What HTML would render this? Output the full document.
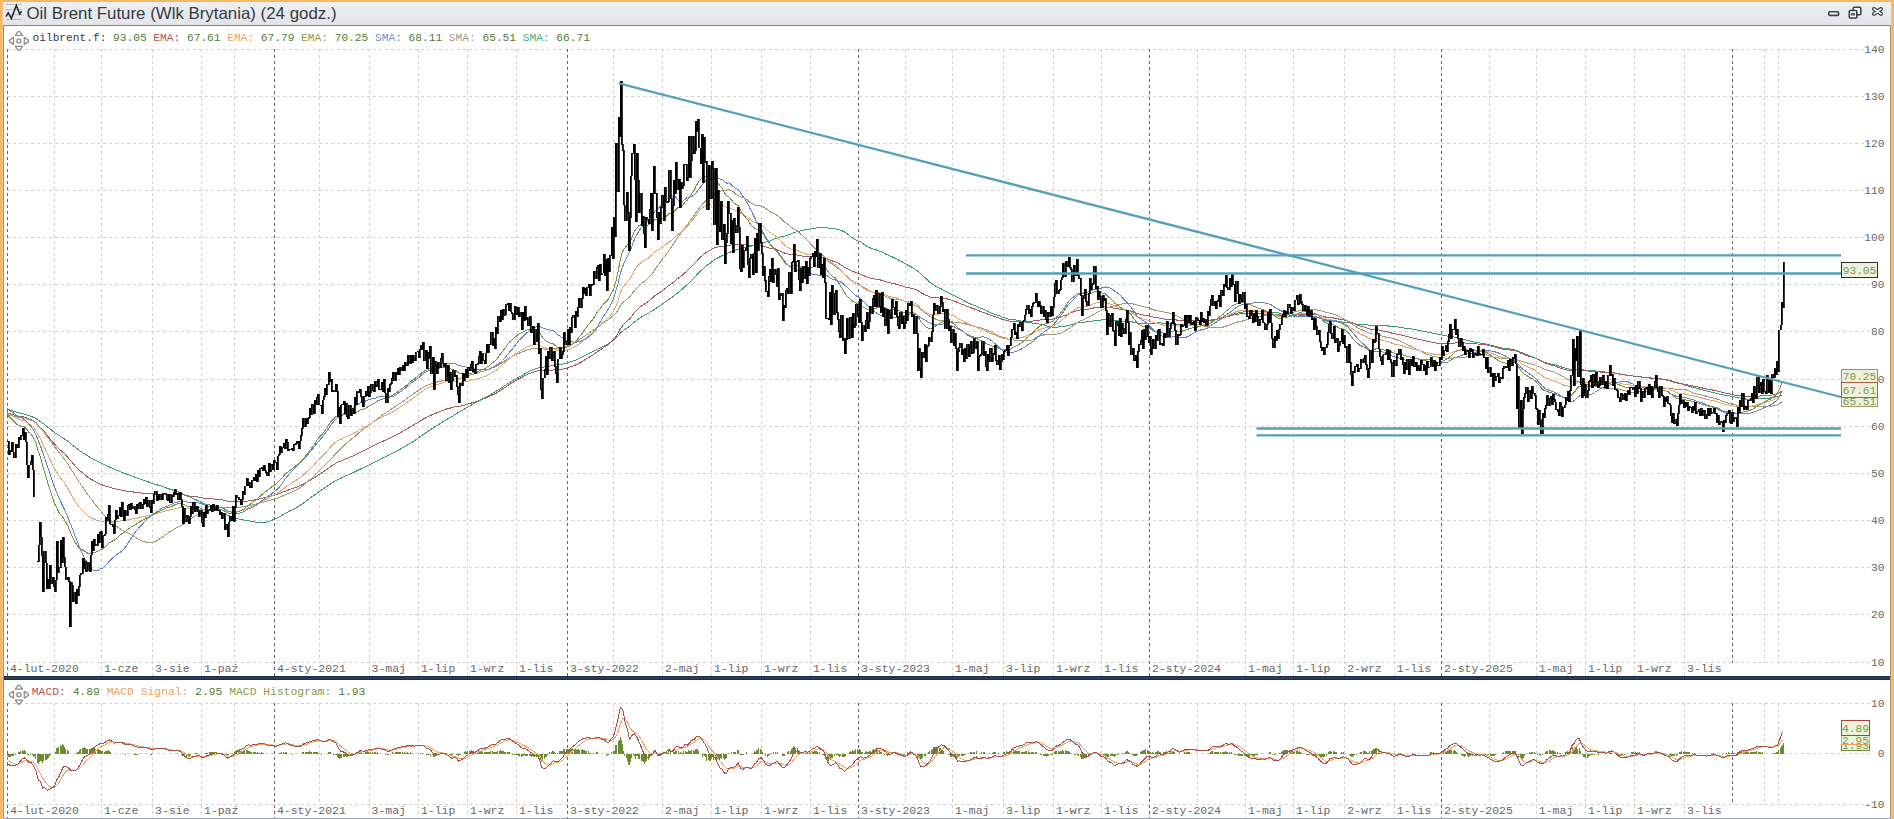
<!DOCTYPE html><html><head><meta charset="utf-8"><style>html,body{margin:0;padding:0;width:1894px;height:819px;overflow:hidden;background:#f8b862;}svg{display:block}</style></head><body>
<svg width="1894" height="819" viewBox="0 0 1894 819">
<defs><linearGradient id="tb" x1="0" y1="0" x2="0" y2="1"><stop offset="0" stop-color="#eef0f2"/><stop offset="1" stop-color="#e2e4e8"/></linearGradient></defs>
<rect x="0" y="0" width="1894" height="819" fill="#f8b862"/><rect x="2" y="2" width="1" height="817" fill="#f2c68e"/><rect x="1891" y="2" width="1" height="817" fill="#f2c68e"/>
<rect x="3" y="2" width="1888" height="23" fill="url(#tb)"/>
<rect x="3" y="25" width="1888" height="1" fill="#86888d"/>
<rect x="3" y="26" width="1888" height="793" fill="#ffffff"/>
<rect x="3" y="26" width="1" height="793" fill="#a48c70"/>
<rect x="1890" y="26" width="1" height="793" fill="#a48c70"/>
<rect x="3" y="818" width="1888" height="1" fill="#a4a9b3"/>
<g stroke="#b9bbbf" stroke-width="1"><path d="M6 4.5H22M6 9.5H22M6 14.5H22M6 19.5H22"/></g>
<path d="M6.2 16.5L8.2 12.7L11.4 18.4L16.3 5.4L19.7 14.1L21.6 11.1" fill="none" stroke="#23222e" stroke-width="1.5" stroke-linejoin="miter"/>
<text x="26.5" y="19" font-family="Liberation Sans" font-size="16.5" fill="#363a42" textLength="310" lengthAdjust="spacingAndGlyphs">Oil Brent Future (Wlk Brytania) (24 godz.)</text>
<g fill="#fff" stroke="#3a3e46" stroke-width="1.6">
<rect x="1828.8" y="11.8" width="9.8" height="3.6" rx="1.2"/>
<rect x="1853.3" y="7.3" width="7.5" height="7.5" rx="1"/>
<rect x="1849.3" y="10.5" width="7.5" height="7.5" rx="1"/>
<rect x="1851.6" y="13.6" width="2.8" height="1.4" stroke-width="1"/>
</g>
<path d="M1874 9L1881 13.8M1881 9L1874 13.8" stroke="#3a3e46" stroke-width="4" stroke-linecap="round"/>
<path d="M1874 9L1881 13.8M1881 9L1874 13.8" stroke="#ffffff" stroke-width="1.6" stroke-linecap="round"/>
<path d="M7 49.5H1871M7 96.5H1871M7 143.5H1871M7 190.5H1871M7 237.5H1871M7 284.5H1871M7 331.5H1871M7 379.5H1871M7 426.5H1871M7 473.5H1871M7 520.5H1871M7 567.5H1871M7 614.5H1871M7 662.5H1871" stroke="#d2d2d2" stroke-width="1" stroke-dasharray="3 3" fill="none"/>
<path d="M54.5 49V663M101.5 49V676M152.5 49V676M201.5 49V676M234.5 49V663M319.5 49V663M369.5 49V676M418.5 49V676M467.5 49V676M516.5 49V676M613.5 49V663M662.5 49V676M711.5 49V676M761.5 49V676M810.5 49V676M905.5 49V663M952.5 49V676M1003.5 49V676M1053.5 49V676M1101.5 49V676M1197.5 49V663M1245.5 49V676M1293.5 49V676M1344.5 49V676M1394.5 49V676M1489.5 49V663M1536.5 49V676M1585.5 49V676M1634.5 49V676M1684.5 49V676M1764.5 49V663M1778.5 49V663" stroke="#d2d2d2" stroke-width="1" stroke-dasharray="3 3" fill="none"/>
<path d="M7.5 49V676M274.5 49V676M567.5 49V676M858.5 49V676M1149.5 49V676M1441.5 49V676M1732.5 49V663" stroke="#646464" stroke-width="1" stroke-dasharray="3 3" fill="none"/>
<text x="1884.5" y="53.3" font-family="Liberation Mono" font-size="11.2" fill="#686868" text-anchor="end">140</text>
<text x="1884.5" y="100.3" font-family="Liberation Mono" font-size="11.2" fill="#686868" text-anchor="end">130</text>
<text x="1884.5" y="147.3" font-family="Liberation Mono" font-size="11.2" fill="#686868" text-anchor="end">120</text>
<text x="1884.5" y="194.3" font-family="Liberation Mono" font-size="11.2" fill="#686868" text-anchor="end">110</text>
<text x="1884.5" y="241.3" font-family="Liberation Mono" font-size="11.2" fill="#686868" text-anchor="end">100</text>
<text x="1884.5" y="288.3" font-family="Liberation Mono" font-size="11.2" fill="#686868" text-anchor="end">90</text>
<text x="1884.5" y="335.3" font-family="Liberation Mono" font-size="11.2" fill="#686868" text-anchor="end">80</text>
<text x="1884.5" y="383.3" font-family="Liberation Mono" font-size="11.2" fill="#686868" text-anchor="end">70</text>
<text x="1884.5" y="430.3" font-family="Liberation Mono" font-size="11.2" fill="#686868" text-anchor="end">60</text>
<text x="1884.5" y="477.3" font-family="Liberation Mono" font-size="11.2" fill="#686868" text-anchor="end">50</text>
<text x="1884.5" y="524.3" font-family="Liberation Mono" font-size="11.2" fill="#686868" text-anchor="end">40</text>
<text x="1884.5" y="571.3" font-family="Liberation Mono" font-size="11.2" fill="#686868" text-anchor="end">30</text>
<text x="1884.5" y="618.3" font-family="Liberation Mono" font-size="11.2" fill="#686868" text-anchor="end">20</text>
<text x="1884.5" y="666.3" font-family="Liberation Mono" font-size="11.2" fill="#686868" text-anchor="end">10</text>
<text x="9.9" y="672" font-family="Liberation Mono" font-size="11.5" fill="#686868">4-lut-2020</text>
<text x="103.9" y="672" font-family="Liberation Mono" font-size="11.5" fill="#686868">1-cze</text>
<text x="155.1" y="672" font-family="Liberation Mono" font-size="11.5" fill="#686868">3-sie</text>
<text x="203.9" y="672" font-family="Liberation Mono" font-size="11.5" fill="#686868">1-paź</text>
<text x="276.9" y="672" font-family="Liberation Mono" font-size="11.5" fill="#686868">4-sty-2021</text>
<text x="371.5" y="672" font-family="Liberation Mono" font-size="11.5" fill="#686868">3-maj</text>
<text x="420.9" y="672" font-family="Liberation Mono" font-size="11.5" fill="#686868">1-lip</text>
<text x="469.9" y="672" font-family="Liberation Mono" font-size="11.5" fill="#686868">1-wrz</text>
<text x="519.0" y="672" font-family="Liberation Mono" font-size="11.5" fill="#686868">1-lis</text>
<text x="570.0" y="672" font-family="Liberation Mono" font-size="11.5" fill="#686868">3-sty-2022</text>
<text x="665.0" y="672" font-family="Liberation Mono" font-size="11.5" fill="#686868">2-maj</text>
<text x="714.0" y="672" font-family="Liberation Mono" font-size="11.5" fill="#686868">1-lip</text>
<text x="764.0" y="672" font-family="Liberation Mono" font-size="11.5" fill="#686868">1-wrz</text>
<text x="812.9" y="672" font-family="Liberation Mono" font-size="11.5" fill="#686868">1-lis</text>
<text x="861.0" y="672" font-family="Liberation Mono" font-size="11.5" fill="#686868">3-sty-2023</text>
<text x="955.0" y="672" font-family="Liberation Mono" font-size="11.5" fill="#686868">1-maj</text>
<text x="1005.9" y="672" font-family="Liberation Mono" font-size="11.5" fill="#686868">3-lip</text>
<text x="1056.0" y="672" font-family="Liberation Mono" font-size="11.5" fill="#686868">1-wrz</text>
<text x="1104.0" y="672" font-family="Liberation Mono" font-size="11.5" fill="#686868">1-lis</text>
<text x="1152.0" y="672" font-family="Liberation Mono" font-size="11.5" fill="#686868">2-sty-2024</text>
<text x="1248.1" y="672" font-family="Liberation Mono" font-size="11.5" fill="#686868">1-maj</text>
<text x="1296.0" y="672" font-family="Liberation Mono" font-size="11.5" fill="#686868">1-lip</text>
<text x="1347.2" y="672" font-family="Liberation Mono" font-size="11.5" fill="#686868">2-wrz</text>
<text x="1396.8" y="672" font-family="Liberation Mono" font-size="11.5" fill="#686868">1-lis</text>
<text x="1443.9" y="672" font-family="Liberation Mono" font-size="11.5" fill="#686868">2-sty-2025</text>
<text x="1538.8" y="672" font-family="Liberation Mono" font-size="11.5" fill="#686868">1-maj</text>
<text x="1588.0" y="672" font-family="Liberation Mono" font-size="11.5" fill="#686868">1-lip</text>
<text x="1637.1" y="672" font-family="Liberation Mono" font-size="11.5" fill="#686868">1-wrz</text>
<text x="1687.1" y="672" font-family="Liberation Mono" font-size="11.5" fill="#686868">3-lis</text>
<path d="M7.0 409.2L8.2 409.5L10.5 410.2L12.8 410.9L15.1 411.7L17.4 412.4L19.7 413.0L22.0 413.6L24.3 414.1L26.6 414.9L28.9 415.8L31.3 416.5L33.6 417.5L35.9 418.6L38.2 420.2L40.5 421.6L42.8 423.4L45.1 425.0L47.4 426.9L49.7 428.7L52.0 430.5L54.4 432.4L56.7 434.0L59.0 435.6L61.3 437.0L63.6 438.4L65.9 439.9L68.2 441.6L70.5 443.5L72.8 445.4L75.1 447.2L77.5 449.0L79.8 450.7L82.1 452.2L84.4 453.7L86.7 455.2L89.0 456.7L91.3 458.1L93.6 459.4L95.9 460.6L98.3 461.8L100.6 462.9L102.9 464.1L105.2 465.2L107.5 466.2L109.8 467.1L112.1 468.2L114.4 469.2L116.7 470.2L119.0 471.1L121.4 472.0L123.7 472.9L126.0 473.8L128.3 474.6L130.6 475.5L132.9 476.4L135.2 477.3L137.5 478.1L139.8 478.9L142.1 479.8L144.5 480.6L146.8 481.4L149.1 482.2L151.4 483.1L153.7 483.8L156.0 484.5L158.3 485.3L160.6 486.0L162.9 486.8L165.2 487.5L167.6 488.4L169.9 489.1L172.2 489.9L174.5 490.6L176.8 491.4L179.1 492.2L181.4 493.1L183.7 494.2L186.0 495.3L188.3 496.4L190.7 497.4L193.0 498.4L195.3 499.5L197.6 500.5L199.9 501.6L202.2 502.9L204.5 504.0L206.8 505.2L209.1 506.4L211.4 507.5L213.8 508.5L216.1 509.6L218.4 510.7L220.7 511.8L223.0 512.9L225.3 514.0L227.6 515.2L229.9 516.2L232.2 517.1L234.5 517.9L236.9 518.6L239.2 519.1L241.5 519.6L243.8 520.0L246.1 520.4L248.4 520.7L250.7 521.2L253.0 521.7L255.3 522.1L257.7 522.3L260.0 522.3L262.3 522.4L264.6 522.3L266.9 522.0L269.2 521.2L271.5 520.5L273.8 519.4L276.1 518.5L278.4 517.2L280.8 516.0L283.1 514.6L285.4 513.2L287.7 512.0L290.0 510.8L292.3 509.8L294.6 508.8L296.9 507.4L299.2 506.1L301.5 504.4L303.9 502.7L306.2 500.9L308.5 499.2L310.8 497.5L313.1 495.9L315.4 494.3L317.7 492.5L320.0 490.9L322.3 489.5L324.6 488.0L327.0 486.4L329.3 484.8L331.6 483.3L333.9 481.8L336.2 480.4L338.5 479.4L340.8 478.4L343.1 477.1L345.4 476.0L347.7 475.0L350.1 474.0L352.4 473.0L354.7 471.9L357.0 470.7L359.3 469.6L361.6 468.5L363.9 467.5L366.2 466.3L368.5 465.1L370.8 464.0L373.2 462.8L375.5 461.6L377.8 460.5L380.1 459.3L382.4 458.1L384.7 457.0L387.0 456.0L389.3 454.9L391.6 453.7L393.9 452.6L396.3 451.4L398.6 450.1L400.9 448.8L403.2 447.5L405.5 446.2L407.8 444.9L410.1 443.5L412.4 442.1L414.7 440.5L417.1 438.9L419.4 437.2L421.7 435.5L424.0 434.0L426.3 432.5L428.6 430.9L430.9 429.4L433.2 427.9L435.5 426.4L437.8 425.0L440.2 423.5L442.5 422.0L444.8 420.6L447.1 419.2L449.4 417.9L451.7 416.6L454.0 415.2L456.3 413.7L458.6 412.4L460.9 411.1L463.3 409.7L465.6 408.3L467.9 407.0L470.2 405.7L472.5 404.4L474.8 403.2L477.1 402.0L479.4 400.7L481.7 399.4L484.0 398.2L486.4 396.9L488.7 395.6L491.0 394.3L493.3 393.0L495.6 391.7L497.9 390.2L500.2 388.7L502.5 387.2L504.8 385.7L507.1 384.1L509.5 382.6L511.8 381.3L514.1 379.9L516.4 378.6L518.7 377.3L521.0 376.0L523.3 374.7L525.6 373.4L527.9 372.1L530.2 370.9L532.6 369.9L534.9 369.0L537.2 368.2L539.5 367.5L541.8 367.3L544.1 367.0L546.4 366.6L548.7 366.2L551.0 365.7L553.3 365.1L555.7 364.9L558.0 364.7L560.3 364.5L562.6 364.1L564.9 363.6L567.2 363.1L569.5 362.3L571.8 361.4L574.1 360.6L576.5 359.7L578.8 358.5L581.1 357.5L583.4 356.3L585.7 355.1L588.0 354.0L590.3 353.0L592.6 351.9L594.9 350.6L597.2 349.3L599.6 348.1L601.9 347.0L604.2 345.7L606.5 344.6L608.8 343.5L611.1 342.0L613.4 340.5L615.7 338.5L618.0 336.1L620.3 333.3L622.7 331.0L625.0 329.4L627.3 327.7L629.6 326.3L631.9 324.2L634.2 322.2L636.5 320.4L638.8 318.8L641.1 317.3L643.4 315.9L645.8 314.7L648.1 313.4L650.4 311.8L652.7 310.5L655.0 308.8L657.3 307.5L659.6 306.1L661.9 304.5L664.2 302.8L666.5 301.2L668.9 299.4L671.2 297.9L673.5 296.2L675.8 294.4L678.1 292.5L680.4 290.7L682.7 288.7L685.0 286.6L687.3 284.6L689.6 282.2L692.0 279.8L694.3 277.5L696.6 275.1L698.9 272.7L701.2 270.5L703.5 268.4L705.8 266.3L708.1 264.6L710.4 263.0L712.7 261.1L715.1 259.4L717.4 258.1L719.7 256.9L722.0 255.7L724.3 254.8L726.6 253.8L728.9 252.6L731.2 251.7L733.5 251.0L735.9 250.1L738.2 249.2L740.5 248.9L742.8 248.3L745.1 247.7L747.4 247.0L749.7 246.6L752.0 246.0L754.3 245.3L756.6 244.7L759.0 243.9L761.3 243.1L763.6 242.5L765.9 242.0L768.2 241.6L770.5 240.8L772.8 239.6L775.1 238.6L777.4 237.7L779.7 237.1L782.1 236.6L784.4 236.2L786.7 235.4L789.0 234.5L791.3 233.8L793.6 232.8L795.9 232.0L798.2 231.4L800.5 230.8L802.8 230.3L805.2 229.8L807.5 229.4L809.8 229.1L812.1 228.6L814.4 228.3L816.7 227.8L819.0 227.6L821.3 227.4L823.6 227.2L825.9 227.4L828.3 228.0L830.6 228.3L832.9 228.6L835.2 228.9L837.5 229.3L839.8 230.0L842.1 230.8L844.4 231.9L846.7 233.3L849.0 235.0L851.4 237.2L853.7 239.0L856.0 240.0L858.3 241.1L860.6 241.9L862.9 243.6L865.2 245.2L867.5 246.6L869.8 247.7L872.1 248.7L874.5 249.5L876.8 250.1L879.1 250.9L881.4 251.9L883.7 252.9L886.0 254.3L888.3 255.2L890.6 256.2L892.9 257.2L895.2 258.3L897.6 259.4L899.9 260.8L902.2 261.8L904.5 263.2L906.8 264.6L909.1 265.8L911.4 266.9L913.7 268.3L916.0 269.9L918.4 271.7L920.7 273.8L923.0 275.9L925.3 277.9L927.6 280.1L929.9 282.2L932.2 283.9L934.5 285.4L936.8 286.8L939.1 288.0L941.5 289.0L943.8 290.5L946.1 291.7L948.4 292.8L950.7 293.9L953.0 295.0L955.3 296.0L957.6 297.2L959.9 298.6L962.2 299.8L964.6 301.0L966.9 302.2L969.2 303.6L971.5 304.3L973.8 305.2L976.1 306.2L978.4 307.3L980.7 308.2L983.0 309.0L985.3 310.2L987.7 311.3L990.0 312.4L992.3 313.5L994.6 314.3L996.9 315.1L999.2 315.8L1001.5 316.7L1003.8 317.5L1006.1 318.3L1008.4 319.0L1010.8 319.4L1013.1 319.6L1015.4 319.9L1017.7 320.3L1020.0 320.8L1022.3 321.2L1024.6 321.9L1026.9 322.3L1029.2 322.7L1031.5 323.0L1033.9 323.3L1036.2 323.6L1038.5 323.9L1040.8 324.3L1043.1 324.9L1045.4 325.4L1047.7 326.1L1050.0 326.6L1052.3 327.0L1054.6 327.3L1057.0 327.1L1059.3 326.8L1061.6 326.5L1063.9 326.2L1066.2 326.0L1068.5 325.4L1070.8 324.8L1073.1 324.2L1075.4 323.5L1077.8 322.9L1080.1 322.5L1082.4 322.3L1084.7 322.0L1087.0 321.9L1089.3 321.5L1091.6 321.3L1093.9 320.7L1096.2 320.3L1098.5 320.1L1100.9 320.0L1103.2 319.9L1105.5 319.9L1107.8 320.2L1110.1 320.4L1112.4 320.6L1114.7 320.9L1117.0 320.9L1119.3 321.0L1121.6 321.1L1124.0 321.4L1126.3 321.4L1128.6 321.6L1130.9 321.8L1133.2 322.1L1135.5 322.5L1137.8 322.9L1140.1 323.3L1142.4 323.6L1144.7 323.7L1147.1 323.8L1149.4 323.6L1151.7 323.4L1154.0 323.2L1156.3 323.1L1158.6 322.9L1160.9 323.0L1163.2 323.1L1165.5 323.4L1167.8 323.7L1170.2 323.8L1172.5 324.0L1174.8 324.2L1177.1 324.4L1179.4 324.5L1181.7 324.4L1184.0 324.2L1186.3 324.0L1188.6 323.6L1190.9 323.3L1193.3 323.0L1195.6 322.7L1197.9 322.4L1200.2 322.1L1202.5 321.8L1204.8 321.6L1207.1 321.3L1209.4 320.8L1211.7 320.2L1214.0 319.7L1216.4 319.2L1218.7 318.6L1221.0 318.0L1223.3 317.3L1225.6 316.6L1227.9 315.9L1230.2 315.1L1232.5 314.3L1234.8 313.7L1237.2 313.1L1239.5 312.6L1241.8 312.2L1244.1 311.9L1246.4 311.7L1248.7 311.5L1251.0 311.4L1253.3 311.3L1255.6 311.3L1257.9 311.5L1260.3 311.5L1262.6 311.6L1264.9 311.8L1267.2 312.0L1269.5 312.2L1271.8 312.4L1274.1 312.7L1276.4 312.9L1278.7 313.0L1281.0 313.1L1283.4 313.2L1285.7 313.4L1288.0 313.6L1290.3 313.8L1292.6 314.1L1294.9 314.5L1297.2 314.8L1299.5 315.2L1301.8 315.5L1304.1 315.9L1306.5 316.3L1308.8 316.7L1311.1 317.0L1313.4 317.2L1315.7 317.5L1318.0 317.8L1320.3 318.3L1322.6 319.0L1324.9 319.7L1327.2 320.2L1329.6 320.5L1331.9 320.8L1334.2 321.2L1336.5 321.5L1338.8 321.8L1341.1 321.9L1343.4 322.1L1345.7 322.2L1348.0 322.5L1350.3 322.9L1352.7 323.4L1355.0 323.8L1357.3 324.3L1359.6 324.7L1361.9 324.8L1364.2 324.9L1366.5 324.9L1368.8 325.1L1371.1 325.2L1373.4 325.2L1375.8 325.2L1378.1 325.3L1380.4 325.5L1382.7 325.6L1385.0 325.7L1387.3 325.9L1389.6 326.1L1391.9 326.4L1394.2 326.6L1396.6 326.8L1398.9 327.1L1401.2 327.4L1403.5 327.9L1405.8 328.3L1408.1 328.6L1410.4 328.8L1412.7 329.2L1415.0 329.6L1417.3 330.1L1419.7 330.6L1422.0 331.0L1424.3 331.5L1426.6 331.9L1428.9 332.4L1431.2 332.8L1433.5 333.3L1435.8 333.7L1438.1 334.2L1440.4 334.7L1442.8 335.2L1445.1 335.6L1447.4 336.1L1449.7 336.4L1452.0 336.7L1454.3 337.1L1456.6 337.6L1458.9 338.1L1461.2 338.7L1463.5 339.4L1465.9 340.0L1468.2 340.6L1470.5 341.1L1472.8 341.7L1475.1 342.2L1477.4 342.6L1479.7 343.0L1482.0 343.4L1484.3 343.8L1486.6 344.2L1489.0 344.7L1491.3 345.3L1493.6 345.9L1495.9 346.4L1498.2 347.0L1500.5 347.7L1502.8 348.1L1505.1 348.3L1507.4 348.6L1509.7 348.9L1512.1 349.3L1514.4 349.8L1516.7 350.5L1519.0 351.4L1521.3 352.5L1523.6 353.4L1525.9 354.3L1528.2 355.2L1530.5 356.2L1532.8 357.1L1535.2 358.0L1537.5 359.1L1539.8 360.1L1542.1 361.2L1544.4 362.1L1546.7 362.8L1549.0 363.5L1551.3 364.1L1553.6 364.6L1556.0 365.1L1558.3 365.9L1560.6 366.7L1562.9 367.5L1565.2 368.1L1567.5 368.7L1569.8 369.2L1572.1 369.4L1574.4 369.7L1576.7 369.7L1579.1 369.7L1581.4 369.9L1583.7 370.0L1586.0 370.2L1588.3 370.4L1590.6 370.5L1592.9 370.7L1595.2 370.9L1597.5 371.1L1599.8 371.2L1602.2 371.4L1604.5 371.8L1606.8 372.4L1609.1 372.6L1611.4 372.8L1613.7 373.0L1616.0 373.4L1618.3 373.8L1620.6 374.3L1622.9 374.5L1625.3 374.9L1627.6 375.2L1629.9 375.6L1632.2 375.9L1634.5 376.1L1636.8 376.4L1639.1 376.5L1641.4 376.9L1643.7 377.3L1646.0 377.5L1648.4 377.7L1650.7 377.9L1653.0 378.2L1655.3 378.3L1657.6 378.5L1659.9 378.8L1662.2 379.1L1664.5 379.5L1666.8 379.9L1669.1 380.2L1671.5 380.8L1673.8 381.5L1676.1 382.3L1678.4 382.9L1680.7 383.6L1683.0 384.3L1685.3 385.1L1687.6 385.8L1689.9 386.5L1692.2 387.2L1694.6 387.7L1696.9 388.4L1699.2 388.9L1701.5 389.6L1703.8 390.1L1706.1 390.8L1708.4 391.4L1710.7 391.9L1713.0 392.5L1715.4 393.1L1717.7 393.6L1720.0 394.2L1722.3 394.7L1724.6 395.1L1726.9 395.5L1729.2 395.8L1731.5 396.2L1733.8 396.7L1736.1 397.3L1738.5 397.7L1740.8 398.1L1743.1 398.5L1745.4 399.0L1747.7 399.2L1750.0 399.2L1752.3 399.0L1754.6 398.9L1756.9 398.8L1759.2 398.8L1761.6 398.7L1763.9 398.7L1766.2 398.5L1768.5 398.2L1770.8 397.9L1773.1 397.4L1775.4 397.0L1777.7 396.7L1780.0 395.9L1782.3 395.0" fill="none" stroke="#3a9c72" stroke-width="1" shape-rendering="crispEdges"/>
<path d="M7.0 412.8L8.2 413.2L10.5 414.0L12.8 414.6L15.1 415.4L17.4 416.0L19.7 416.4L22.0 416.7L24.3 417.1L26.6 417.8L28.9 418.9L31.3 419.7L33.6 420.9L35.9 422.5L38.2 425.1L40.5 427.2L42.8 430.1L45.1 432.6L47.4 435.6L49.7 438.4L52.0 441.2L54.4 444.1L56.7 446.4L59.0 448.9L61.3 450.9L63.6 452.8L65.9 455.2L68.2 457.7L70.5 460.6L72.8 463.2L75.1 465.9L77.5 468.4L79.8 470.6L82.1 472.5L84.4 474.3L86.7 476.3L89.0 478.0L91.3 479.4L93.6 480.7L95.9 482.0L98.3 483.1L100.6 484.1L102.9 485.2L105.2 486.0L107.5 486.7L109.8 487.2L112.1 488.0L114.4 488.7L116.7 489.3L119.0 489.7L121.4 490.1L123.7 490.6L126.0 491.0L128.3 491.3L130.6 491.6L132.9 491.9L135.2 492.3L137.5 492.6L139.8 492.8L142.1 493.1L144.5 493.3L146.8 493.4L149.1 493.6L151.4 493.9L153.7 494.0L156.0 494.0L158.3 494.1L160.6 494.1L162.9 494.1L165.2 494.1L167.6 494.3L169.9 494.3L172.2 494.4L174.5 494.3L176.8 494.3L179.1 494.3L181.4 494.5L183.7 494.9L186.0 495.4L188.3 495.9L190.7 496.2L193.0 496.5L195.3 496.7L197.6 497.0L199.9 497.3L202.2 497.8L204.5 498.2L206.8 498.4L209.1 498.6L211.4 498.8L213.8 499.0L216.1 499.1L218.4 499.4L220.7 499.7L223.0 500.0L225.3 500.5L227.6 501.1L229.9 501.5L232.2 501.7L234.5 502.0L236.9 501.8L239.2 501.8L241.5 501.8L243.8 501.6L246.1 501.2L248.4 500.9L250.7 500.7L253.0 500.2L255.3 499.8L257.7 499.3L260.0 498.8L262.3 498.2L264.6 497.6L266.9 497.1L269.2 496.5L271.5 495.9L273.8 495.3L276.1 494.7L278.4 493.9L280.8 493.0L283.1 492.1L285.4 491.1L287.7 490.3L290.0 489.5L292.3 488.7L294.6 487.8L296.9 486.9L299.2 486.1L301.5 485.0L303.9 483.8L306.2 482.5L308.5 481.2L310.8 479.9L313.1 478.5L315.4 477.0L317.7 475.3L320.0 474.0L322.3 472.6L324.6 471.0L327.0 469.4L329.3 467.6L331.6 466.0L333.9 464.5L336.2 463.0L338.5 461.9L340.8 461.0L343.1 459.8L345.4 458.8L347.7 458.0L350.1 457.1L352.4 456.1L354.7 455.1L357.0 454.0L359.3 452.8L361.6 451.7L363.9 450.7L366.2 449.6L368.5 448.4L370.8 447.2L373.2 446.1L375.5 444.9L377.8 443.6L380.1 442.6L382.4 441.5L384.7 440.4L387.0 439.5L389.3 438.5L391.6 437.3L393.9 436.1L396.3 434.9L398.6 433.6L400.9 432.4L403.2 431.1L405.5 429.8L407.8 428.4L410.1 427.0L412.4 425.7L414.7 424.4L417.1 422.9L419.4 421.6L421.7 420.1L424.0 418.7L426.3 417.6L428.6 416.3L430.9 415.2L433.2 414.4L435.5 413.4L437.8 412.5L440.2 411.5L442.5 410.5L444.8 409.6L447.1 408.8L449.4 408.2L451.7 407.8L454.0 407.1L456.3 406.6L458.6 406.4L460.9 406.0L463.3 405.4L465.6 404.8L467.9 404.1L470.2 403.4L472.5 402.7L474.8 402.1L477.1 401.3L479.4 400.4L481.7 399.5L484.0 398.8L486.4 397.8L488.7 396.8L491.0 395.7L493.3 394.6L495.6 393.5L497.9 392.1L500.2 390.6L502.5 389.1L504.8 387.7L507.1 386.0L509.5 384.4L511.8 383.0L514.1 381.6L516.4 380.3L518.7 378.9L521.0 377.8L523.3 376.6L525.6 375.3L527.9 374.2L530.2 373.3L532.6 372.4L534.9 371.6L537.2 370.9L539.5 370.5L541.8 370.9L544.1 371.0L546.4 370.9L548.7 370.6L551.0 370.3L553.3 369.9L555.7 369.9L558.0 369.9L560.3 369.6L562.6 369.2L564.9 368.6L567.2 368.0L569.5 367.3L571.8 366.5L574.1 365.6L576.5 364.6L578.8 363.4L581.1 362.2L583.4 360.7L585.7 359.4L588.0 357.9L590.3 356.6L592.6 355.2L594.9 353.6L597.2 351.8L599.6 350.3L601.9 348.8L604.2 347.1L606.5 345.7L608.8 344.1L611.1 342.0L613.4 340.0L615.7 337.0L618.0 333.4L620.3 329.0L622.7 325.4L625.0 323.1L627.3 320.8L629.6 319.0L631.9 316.0L634.2 312.9L636.5 310.4L638.8 308.2L641.1 306.2L643.4 304.6L645.8 303.2L648.1 301.6L650.4 299.6L652.7 297.9L655.0 295.6L657.3 294.2L659.6 292.7L661.9 290.9L664.2 289.2L666.5 287.5L668.9 285.5L671.2 284.1L673.5 282.3L675.8 280.2L678.1 278.3L680.4 276.7L682.7 274.9L685.0 272.7L687.3 270.8L689.6 268.6L692.0 266.2L694.3 263.9L696.6 261.2L698.9 258.7L701.2 256.5L703.5 254.6L705.8 252.8L708.1 251.5L710.4 250.4L712.7 248.7L715.1 247.7L717.4 247.1L719.7 246.7L722.0 246.2L724.3 246.2L726.6 246.0L728.9 245.2L731.2 245.0L733.5 244.8L735.9 244.5L738.2 244.0L740.5 244.5L742.8 244.7L745.1 244.8L747.4 244.9L749.7 245.4L752.0 245.8L754.3 245.8L756.6 245.9L759.0 245.7L761.3 245.8L763.6 246.3L765.9 247.1L768.2 247.8L770.5 248.4L772.8 248.8L775.1 249.3L777.4 249.8L779.7 250.8L782.1 251.9L784.4 253.0L786.7 253.7L789.0 254.3L791.3 254.8L793.6 254.7L795.9 254.9L798.2 255.2L800.5 255.7L802.8 256.1L805.2 256.4L807.5 256.7L809.8 256.9L812.1 256.9L814.4 256.9L816.7 256.8L819.0 256.8L821.3 257.1L823.6 257.3L825.9 258.2L828.3 259.4L830.6 260.4L832.9 261.1L835.2 261.7L837.5 262.8L839.8 264.2L842.1 265.5L844.4 267.1L846.7 268.3L849.0 269.5L851.4 270.7L853.7 271.7L856.0 272.5L858.3 273.4L860.6 274.2L862.9 275.3L865.2 276.3L867.5 277.2L869.8 277.9L872.1 278.5L874.5 278.9L876.8 279.3L879.1 279.7L881.4 280.2L883.7 280.8L886.0 281.6L888.3 282.4L890.6 283.0L892.9 283.4L895.2 283.9L897.6 284.7L899.9 285.4L902.2 286.0L904.5 286.8L906.8 287.4L909.1 287.8L911.4 288.2L913.7 288.9L916.0 289.6L918.4 291.0L920.7 292.6L923.0 293.8L925.3 295.0L927.6 296.0L929.9 296.9L932.2 297.4L934.5 297.6L936.8 297.7L939.1 298.0L941.5 298.0L943.8 298.3L946.1 298.7L948.4 299.2L950.7 299.9L953.0 300.6L955.3 301.4L957.6 302.6L959.9 303.5L962.2 304.4L964.6 305.4L966.9 306.3L969.2 307.2L971.5 308.0L973.8 308.8L976.1 309.5L978.4 310.6L980.7 311.5L983.0 312.2L985.3 313.1L987.7 314.1L990.0 314.9L992.3 315.7L994.6 316.4L996.9 317.3L999.2 318.2L1001.5 319.0L1003.8 319.7L1006.1 320.3L1008.4 320.9L1010.8 321.3L1013.1 321.4L1015.4 321.7L1017.7 321.9L1020.0 321.9L1022.3 322.0L1024.6 321.9L1026.9 321.6L1029.2 321.4L1031.5 321.2L1033.9 320.8L1036.2 320.4L1038.5 320.1L1040.8 319.9L1043.1 319.7L1045.4 319.6L1047.7 319.6L1050.0 319.4L1052.3 319.2L1054.6 318.7L1057.0 318.0L1059.3 317.5L1061.6 316.7L1063.9 315.8L1066.2 314.8L1068.5 313.7L1070.8 312.8L1073.1 312.0L1075.4 311.3L1077.8 310.4L1080.1 310.0L1082.4 309.9L1084.7 309.6L1087.0 309.4L1089.3 309.0L1091.6 308.5L1093.9 307.9L1096.2 307.5L1098.5 307.2L1100.9 307.1L1103.2 307.0L1105.5 306.9L1107.8 307.3L1110.1 307.5L1112.4 307.8L1114.7 308.4L1117.0 308.7L1119.3 309.1L1121.6 309.5L1124.0 309.9L1126.3 310.0L1128.6 310.5L1130.9 311.1L1133.2 312.0L1135.5 312.9L1137.8 313.8L1140.1 314.4L1142.4 314.9L1144.7 315.3L1147.1 315.6L1149.4 316.1L1151.7 316.8L1154.0 317.3L1156.3 317.7L1158.6 318.0L1160.9 318.5L1163.2 318.9L1165.5 319.2L1167.8 319.4L1170.2 319.6L1172.5 319.5L1174.8 319.7L1177.1 320.1L1179.4 320.4L1181.7 320.5L1184.0 320.5L1186.3 320.5L1188.6 320.5L1190.9 320.5L1193.3 320.5L1195.6 320.5L1197.9 320.5L1200.2 320.5L1202.5 320.5L1204.8 320.5L1207.1 320.5L1209.4 320.3L1211.7 319.8L1214.0 319.5L1216.4 319.2L1218.7 318.8L1221.0 318.4L1223.3 317.8L1225.6 317.1L1227.9 316.5L1230.2 315.9L1232.5 315.2L1234.8 314.7L1237.2 314.2L1239.5 313.9L1241.8 313.6L1244.1 313.4L1246.4 313.3L1248.7 313.4L1251.0 313.4L1253.3 313.5L1255.6 313.5L1257.9 313.7L1260.3 313.8L1262.6 313.9L1264.9 314.1L1267.2 314.2L1269.5 314.2L1271.8 314.6L1274.1 315.1L1276.4 315.5L1278.7 315.9L1281.0 316.0L1283.4 315.9L1285.7 315.9L1288.0 315.7L1290.3 315.6L1292.6 315.5L1294.9 315.3L1297.2 315.0L1299.5 314.7L1301.8 314.4L1304.1 314.3L1306.5 314.3L1308.8 314.2L1311.1 314.3L1313.4 314.4L1315.7 314.6L1318.0 315.0L1320.3 315.5L1322.6 316.2L1324.9 316.9L1327.2 317.3L1329.6 317.4L1331.9 317.8L1334.2 318.1L1336.5 318.5L1338.8 319.1L1341.1 319.5L1343.4 319.8L1345.7 320.4L1348.0 321.0L1350.3 322.0L1352.7 323.1L1355.0 324.0L1357.3 324.9L1359.6 325.8L1361.9 326.5L1364.2 327.1L1366.5 327.8L1368.8 328.8L1371.1 329.3L1373.4 329.5L1375.8 329.6L1378.1 329.9L1380.4 330.4L1382.7 331.0L1385.0 331.4L1387.3 331.9L1389.6 332.4L1391.9 333.1L1394.2 333.7L1396.6 334.2L1398.9 334.6L1401.2 335.0L1403.5 335.7L1405.8 336.3L1408.1 336.9L1410.4 337.4L1412.7 337.9L1415.0 338.4L1417.3 339.0L1419.7 339.6L1422.0 340.0L1424.3 340.6L1426.6 341.1L1428.9 341.6L1431.2 342.0L1433.5 342.4L1435.8 342.9L1438.1 343.4L1440.4 343.7L1442.8 343.8L1445.1 343.9L1447.4 344.0L1449.7 343.7L1452.0 343.5L1454.3 343.1L1456.6 342.9L1458.9 342.9L1461.2 342.8L1463.5 342.9L1465.9 343.1L1468.2 343.3L1470.5 343.5L1472.8 343.7L1475.1 343.9L1477.4 344.0L1479.7 344.2L1482.0 344.4L1484.3 344.6L1486.6 345.0L1489.0 345.5L1491.3 346.1L1493.6 346.7L1495.9 347.4L1498.2 348.0L1500.5 348.6L1502.8 349.1L1505.1 349.4L1507.4 349.7L1509.7 350.0L1512.1 350.3L1514.4 350.4L1516.7 351.1L1519.0 352.1L1521.3 353.4L1523.6 354.4L1525.9 355.1L1528.2 355.9L1530.5 356.7L1532.8 357.3L1535.2 358.2L1537.5 359.4L1539.8 360.5L1542.1 361.7L1544.4 362.7L1546.7 363.5L1549.0 364.3L1551.3 365.0L1553.6 365.6L1556.0 366.4L1558.3 367.3L1560.6 368.1L1562.9 368.9L1565.2 369.6L1567.5 370.1L1569.8 370.6L1572.1 370.4L1574.4 370.3L1576.7 369.9L1579.1 369.6L1581.4 370.0L1583.7 370.3L1586.0 370.7L1588.3 371.0L1590.6 371.2L1592.9 371.4L1595.2 371.5L1597.5 371.8L1599.8 372.0L1602.2 372.1L1604.5 372.4L1606.8 372.6L1609.1 372.6L1611.4 372.6L1613.7 372.8L1616.0 373.2L1618.3 373.7L1620.6 374.1L1622.9 374.6L1625.3 375.0L1627.6 375.4L1629.9 375.7L1632.2 375.9L1634.5 376.3L1636.8 376.5L1639.1 376.7L1641.4 377.1L1643.7 377.5L1646.0 377.7L1648.4 377.9L1650.7 378.2L1653.0 378.5L1655.3 378.5L1657.6 378.7L1659.9 379.0L1662.2 379.3L1664.5 379.7L1666.8 380.1L1669.1 380.6L1671.5 381.4L1673.8 382.1L1676.1 382.9L1678.4 383.4L1680.7 383.7L1683.0 384.1L1685.3 384.5L1687.6 385.0L1689.9 385.4L1692.2 385.9L1694.6 386.3L1696.9 386.8L1699.2 387.3L1701.5 387.8L1703.8 388.3L1706.1 388.8L1708.4 389.3L1710.7 389.7L1713.0 390.1L1715.4 390.6L1717.7 391.1L1720.0 391.8L1722.3 392.5L1724.6 393.0L1726.9 393.5L1729.2 393.9L1731.5 394.4L1733.8 394.9L1736.1 395.4L1738.5 395.7L1740.8 395.9L1743.1 396.0L1745.4 396.2L1747.7 396.4L1750.0 396.5L1752.3 396.5L1754.6 396.4L1756.9 396.2L1759.2 396.1L1761.6 395.9L1763.9 395.7L1766.2 395.5L1768.5 395.3L1770.8 395.2L1773.1 394.8L1775.4 394.3L1777.7 393.8L1780.0 392.5L1782.3 390.7" fill="none" stroke="#a55a5c" stroke-width="1" shape-rendering="crispEdges"/>
<path d="M7.0 414.5L8.2 414.8L10.5 415.5L12.8 415.9L15.1 416.5L17.4 417.1L19.7 417.5L22.0 417.6L24.3 417.9L26.6 418.6L28.9 419.6L31.3 420.3L33.6 421.5L35.9 423.1L38.2 425.7L40.5 427.8L42.8 430.9L45.1 433.6L47.4 436.9L49.7 440.0L52.0 443.2L54.4 446.6L56.7 449.5L59.0 452.5L61.3 455.2L63.6 457.9L65.9 461.1L68.2 464.4L70.5 468.3L72.8 472.0L75.1 475.8L77.5 479.5L79.8 483.0L82.1 486.3L84.4 489.5L86.7 493.0L89.0 496.3L91.3 499.4L93.6 502.4L95.9 505.4L98.3 508.1L100.6 510.7L102.9 513.6L105.2 516.0L107.5 518.2L109.8 520.3L112.1 522.4L114.4 524.6L116.7 526.4L119.0 528.1L121.4 529.6L123.7 530.9L126.0 532.2L128.3 533.3L130.6 534.4L132.9 535.6L135.2 537.1L137.5 538.6L139.8 539.9L142.1 541.0L144.5 541.6L146.8 542.5L149.1 542.9L151.4 543.0L153.7 542.0L156.0 541.3L158.3 539.7L160.6 538.5L162.9 536.7L165.2 535.1L167.6 533.5L169.9 531.6L172.2 530.4L174.5 528.8L176.8 527.6L179.1 526.6L181.4 525.2L183.7 523.9L186.0 522.2L188.3 520.7L190.7 519.0L193.0 517.3L195.3 515.9L197.6 514.8L199.9 513.8L202.2 512.8L204.5 511.8L206.8 511.0L209.1 510.3L211.4 509.6L213.8 508.9L216.1 508.5L218.4 507.8L220.7 507.6L223.0 507.6L225.3 507.8L227.6 507.9L229.9 507.7L232.2 507.7L234.5 507.8L236.9 507.5L239.2 507.2L241.5 507.0L243.8 506.7L246.1 506.3L248.4 505.8L250.7 505.3L253.0 504.8L255.3 504.3L257.7 503.6L260.0 503.1L262.3 502.4L264.6 501.7L266.9 501.0L269.2 500.4L271.5 499.8L273.8 499.1L276.1 498.6L278.4 497.7L280.8 496.8L283.1 495.8L285.4 494.7L287.7 493.7L290.0 492.9L292.3 492.0L294.6 490.9L296.9 489.7L299.2 488.3L301.5 486.6L303.9 484.6L306.2 482.8L308.5 481.0L310.8 479.0L313.1 477.0L315.4 474.8L317.7 472.2L320.0 470.0L322.3 468.0L324.6 465.6L327.0 463.2L329.3 460.6L331.6 458.2L333.9 455.8L336.2 453.3L338.5 451.2L340.8 448.9L343.1 446.4L345.4 444.2L347.7 442.3L350.1 440.2L352.4 438.4L354.7 436.6L357.0 434.5L359.3 432.4L361.6 430.8L363.9 429.1L366.2 427.2L368.5 425.5L370.8 423.7L373.2 422.0L375.5 420.2L377.8 418.5L380.1 416.9L382.4 415.2L384.7 413.6L387.0 412.2L389.3 410.6L391.6 408.9L393.9 407.4L396.3 405.9L398.6 404.4L400.9 402.9L403.2 401.3L405.5 399.6L407.8 397.8L410.1 396.1L412.4 394.5L414.7 392.8L417.1 391.2L419.4 389.8L421.7 388.3L424.0 387.0L426.3 385.9L428.6 384.9L430.9 384.0L433.2 383.6L435.5 382.7L437.8 381.9L440.2 381.4L442.5 380.7L444.8 380.5L447.1 380.3L449.4 380.0L451.7 380.0L454.0 379.2L456.3 378.5L458.6 378.4L460.9 378.0L463.3 377.1L465.6 376.4L467.9 375.7L470.2 374.9L472.5 374.3L474.8 373.9L477.1 373.2L479.4 372.2L481.7 371.5L484.0 370.9L486.4 370.1L488.7 369.3L491.0 368.4L493.3 367.6L495.6 366.5L497.9 365.3L500.2 363.9L502.5 362.3L504.8 360.8L507.1 359.3L509.5 357.9L511.8 356.7L514.1 355.5L516.4 354.4L518.7 353.3L521.0 352.4L523.3 351.5L525.6 350.6L527.9 349.8L530.2 349.1L532.6 348.7L534.9 348.3L537.2 348.0L539.5 348.0L541.8 348.7L544.1 349.1L546.4 349.2L548.7 348.8L551.0 348.6L553.3 348.3L555.7 348.4L558.0 348.7L560.3 348.4L562.6 348.0L564.9 347.2L567.2 346.2L569.5 345.5L571.8 344.4L574.1 342.8L576.5 341.4L578.8 339.9L581.1 338.5L583.4 336.9L585.7 335.4L588.0 333.8L590.3 332.1L592.6 330.6L594.9 329.0L597.2 327.1L599.6 325.3L601.9 323.8L604.2 322.2L606.5 320.9L608.8 319.4L611.1 317.4L613.4 315.7L615.7 313.2L618.0 310.0L620.3 305.9L622.7 302.7L625.0 300.8L627.3 298.6L629.6 297.1L631.9 294.1L634.2 291.1L636.5 288.4L638.8 286.0L641.1 283.9L643.4 282.0L645.8 280.2L648.1 278.1L650.4 275.4L652.7 273.0L655.0 269.6L657.3 266.2L659.6 263.1L661.9 259.8L664.2 256.8L666.5 253.8L668.9 250.5L671.2 247.4L673.5 243.8L675.8 240.3L678.1 237.0L680.4 234.1L682.7 231.1L685.0 227.7L687.3 224.8L689.6 221.5L692.0 218.2L694.3 215.2L696.6 211.6L698.9 208.5L701.2 205.6L703.5 203.1L705.8 200.5L708.1 198.6L710.4 197.1L712.7 195.0L715.1 193.5L717.4 192.4L719.7 191.7L722.0 190.6L724.3 190.2L726.6 190.1L728.9 189.5L731.2 190.3L733.5 191.9L735.9 194.3L738.2 195.7L740.5 196.9L742.8 197.9L745.1 198.2L747.4 200.0L749.7 202.1L752.0 203.6L754.3 204.6L756.6 205.5L759.0 205.7L761.3 206.0L763.6 207.0L765.9 208.7L768.2 210.2L770.5 212.1L772.8 212.9L775.1 214.0L777.4 215.5L779.7 217.4L782.1 219.5L784.4 221.9L786.7 223.4L789.0 225.2L791.3 227.2L793.6 228.6L795.9 230.0L798.2 231.6L800.5 233.9L802.8 235.8L805.2 238.1L807.5 240.7L809.8 243.0L812.1 245.5L814.4 248.0L816.7 250.0L819.0 252.0L821.3 254.2L823.6 255.8L825.9 257.8L828.3 260.9L830.6 263.2L832.9 264.8L835.2 266.1L837.5 268.0L839.8 269.8L842.1 271.6L844.4 274.4L846.7 276.3L849.0 278.2L851.4 280.1L853.7 282.2L856.0 283.1L858.3 284.4L860.6 285.6L862.9 287.2L865.2 288.4L867.5 289.5L869.8 290.9L872.1 291.9L874.5 293.2L876.8 294.2L879.1 294.8L881.4 295.1L883.7 295.6L886.0 296.5L888.3 297.5L890.6 298.4L892.9 298.9L895.2 299.1L897.6 299.4L899.9 299.7L902.2 300.3L904.5 301.2L906.8 301.9L909.1 302.9L911.4 303.8L913.7 304.9L916.0 305.8L918.4 307.5L920.7 309.5L923.0 311.1L925.3 312.8L927.6 314.7L929.9 316.3L932.2 317.8L934.5 318.7L936.8 319.4L939.1 320.3L941.5 320.2L943.8 320.1L946.1 320.3L948.4 320.8L950.7 321.7L953.0 322.1L955.3 322.2L957.6 322.9L959.9 322.8L962.2 323.3L964.6 323.8L966.9 324.3L969.2 324.9L971.5 325.6L973.8 326.1L976.1 326.8L978.4 327.4L980.7 328.0L983.0 328.6L985.3 329.5L987.7 330.6L990.0 331.7L992.3 332.8L994.6 333.8L996.9 335.0L999.2 336.0L1001.5 336.9L1003.8 337.5L1006.1 338.2L1008.4 339.1L1010.8 339.8L1013.1 339.9L1015.4 340.1L1017.7 340.4L1020.0 340.3L1022.3 340.6L1024.6 340.8L1026.9 340.8L1029.2 340.5L1031.5 340.3L1033.9 339.1L1036.2 337.6L1038.5 336.6L1040.8 335.8L1043.1 335.1L1045.4 334.6L1047.7 334.5L1050.0 334.5L1052.3 334.7L1054.6 334.3L1057.0 334.0L1059.3 333.6L1061.6 332.8L1063.9 331.7L1066.2 330.3L1068.5 328.8L1070.8 327.3L1073.1 325.6L1075.4 324.2L1077.8 322.5L1080.1 321.1L1082.4 320.2L1084.7 319.0L1087.0 318.2L1089.3 317.0L1091.6 315.8L1093.9 314.0L1096.2 312.7L1098.5 311.6L1100.9 310.5L1103.2 309.2L1105.5 308.2L1107.8 307.5L1110.1 306.9L1112.4 306.1L1114.7 305.7L1117.0 305.0L1119.3 304.4L1121.6 304.0L1124.0 303.6L1126.3 303.1L1128.6 303.3L1130.9 303.4L1133.2 303.9L1135.5 304.6L1137.8 305.3L1140.1 305.7L1142.4 306.4L1144.7 306.9L1147.1 307.3L1149.4 308.0L1151.7 309.1L1154.0 309.9L1156.3 310.4L1158.6 310.8L1160.9 311.4L1163.2 311.8L1165.5 312.3L1167.8 312.7L1170.2 313.4L1172.5 314.0L1174.8 314.7L1177.1 315.9L1179.4 317.2L1181.7 318.5L1184.0 319.7L1186.3 320.7L1188.6 321.6L1190.9 322.5L1193.3 323.6L1195.6 324.3L1197.9 324.6L1200.2 325.1L1202.5 325.4L1204.8 326.1L1207.1 326.8L1209.4 327.5L1211.7 327.7L1214.0 327.9L1216.4 327.9L1218.7 327.9L1221.0 327.8L1223.3 327.1L1225.6 326.3L1227.9 325.6L1230.2 324.5L1232.5 323.7L1234.8 323.0L1237.2 322.1L1239.5 321.5L1241.8 321.2L1244.1 320.5L1246.4 319.9L1248.7 319.1L1251.0 318.2L1253.3 317.4L1255.6 316.9L1257.9 316.5L1260.3 316.2L1262.6 315.9L1264.9 315.7L1267.2 315.0L1269.5 314.4L1271.8 314.3L1274.1 314.5L1276.4 314.4L1278.7 314.3L1281.0 314.0L1283.4 313.6L1285.7 313.4L1288.0 313.2L1290.3 312.9L1292.6 312.3L1294.9 311.7L1297.2 311.2L1299.5 310.7L1301.8 310.4L1304.1 310.2L1306.5 310.0L1308.8 309.8L1311.1 309.6L1313.4 309.7L1315.7 309.8L1318.0 310.1L1320.3 310.5L1322.6 311.1L1324.9 311.9L1327.2 312.8L1329.6 313.1L1331.9 313.8L1334.2 314.5L1336.5 315.3L1338.8 316.5L1341.1 317.5L1343.4 318.6L1345.7 319.8L1348.0 321.3L1350.3 322.8L1352.7 324.7L1355.0 326.1L1357.3 327.4L1359.6 328.8L1361.9 329.8L1364.2 330.6L1366.5 331.6L1368.8 332.8L1371.1 333.6L1373.4 334.0L1375.8 334.2L1378.1 334.7L1380.4 335.4L1382.7 336.2L1385.0 336.9L1387.3 337.4L1389.6 337.7L1391.9 338.4L1394.2 338.9L1396.6 339.7L1398.9 340.5L1401.2 341.4L1403.5 342.6L1405.8 343.7L1408.1 344.9L1410.4 346.0L1412.7 347.2L1415.0 348.5L1417.3 349.8L1419.7 351.0L1422.0 352.0L1424.3 353.2L1426.6 354.2L1428.9 355.1L1431.2 355.8L1433.5 356.5L1435.8 356.9L1438.1 357.2L1440.4 357.4L1442.8 357.6L1445.1 358.1L1447.4 358.4L1449.7 358.3L1452.0 358.2L1454.3 357.7L1456.6 357.6L1458.9 357.7L1461.2 357.5L1463.5 357.4L1465.9 357.1L1468.2 356.6L1470.5 356.2L1472.8 355.9L1475.1 355.7L1477.4 355.5L1479.7 355.4L1482.0 355.1L1484.3 354.8L1486.6 354.9L1489.0 355.5L1491.3 356.3L1493.6 357.1L1495.9 357.5L1498.2 357.9L1500.5 358.4L1502.8 358.7L1505.1 359.0L1507.4 358.9L1509.7 358.9L1512.1 358.9L1514.4 359.0L1516.7 359.6L1519.0 360.2L1521.3 361.3L1523.6 362.0L1525.9 362.6L1528.2 363.3L1530.5 363.9L1532.8 364.3L1535.2 365.0L1537.5 366.1L1539.8 367.0L1542.1 368.1L1544.4 369.0L1546.7 369.8L1549.0 370.6L1551.3 371.3L1553.6 371.9L1556.0 372.9L1558.3 374.1L1560.6 375.2L1562.9 376.5L1565.2 378.0L1567.5 379.2L1569.8 380.7L1572.1 381.2L1574.4 381.7L1576.7 381.8L1579.1 381.9L1581.4 382.7L1583.7 383.4L1586.0 384.2L1588.3 384.8L1590.6 385.3L1592.9 385.9L1595.2 386.4L1597.5 387.1L1599.8 387.6L1602.2 387.9L1604.5 388.2L1606.8 388.4L1609.1 388.2L1611.4 388.1L1613.7 388.2L1616.0 388.4L1618.3 388.9L1620.6 389.5L1622.9 390.2L1625.3 390.8L1627.6 391.5L1629.9 392.1L1632.2 392.2L1634.5 392.0L1636.8 391.4L1639.1 391.1L1641.4 391.2L1643.7 391.2L1646.0 391.1L1648.4 391.1L1650.7 390.9L1653.0 390.4L1655.3 389.7L1657.6 389.0L1659.9 388.6L1662.2 388.5L1664.5 388.5L1666.8 388.4L1669.1 388.6L1671.5 388.8L1673.8 388.9L1676.1 389.3L1678.4 389.2L1680.7 389.2L1683.0 389.4L1685.3 389.5L1687.6 390.5L1689.9 391.3L1692.2 392.5L1694.6 393.6L1696.9 394.0L1699.2 394.5L1701.5 394.9L1703.8 395.4L1706.1 396.2L1708.4 396.8L1710.7 397.4L1713.0 397.9L1715.4 398.6L1717.7 399.4L1720.0 400.1L1722.3 401.0L1724.6 402.0L1726.9 402.8L1729.2 403.5L1731.5 404.0L1733.8 404.5L1736.1 405.0L1738.5 405.2L1740.8 405.4L1743.1 405.5L1745.4 405.9L1747.7 406.2L1750.0 406.4L1752.3 406.5L1754.6 406.7L1756.9 406.5L1759.2 406.3L1761.6 406.3L1763.9 406.2L1766.2 406.1L1768.5 406.0L1770.8 406.1L1773.1 405.9L1775.4 405.5L1777.7 404.9L1780.0 403.4L1782.3 401.5" fill="none" stroke="#a09a78" stroke-width="1" shape-rendering="crispEdges"/>
<path d="M7.0 412.8L8.2 413.6L10.5 415.1L12.8 416.4L15.1 417.7L17.4 418.9L19.7 419.7L22.0 420.2L24.3 420.8L26.6 422.1L28.9 424.0L31.3 425.3L33.6 427.6L35.9 430.5L38.2 435.3L40.5 439.0L42.8 444.3L45.1 448.7L47.4 454.0L49.7 458.8L52.0 463.6L54.4 468.5L56.7 472.1L59.0 476.0L61.3 478.9L63.6 481.6L65.9 485.2L68.2 488.9L70.5 493.5L72.8 497.4L75.1 501.3L77.5 504.9L79.8 507.9L82.1 510.1L84.4 512.3L86.7 514.6L89.0 516.6L91.3 517.9L93.6 519.0L95.9 520.0L98.3 520.7L100.6 521.1L102.9 521.9L105.2 522.1L107.5 521.9L109.8 521.6L112.1 521.8L114.4 522.0L116.7 521.7L119.0 521.3L121.4 520.8L123.7 520.6L126.0 520.3L128.3 519.7L130.6 519.2L132.9 518.8L135.2 518.5L137.5 518.0L139.8 517.4L142.1 517.0L144.5 516.4L146.8 515.8L149.1 515.4L151.4 515.0L153.7 514.4L156.0 513.7L158.3 513.0L160.6 512.3L162.9 511.7L165.2 511.0L167.6 510.5L169.9 510.1L172.2 509.5L174.5 508.8L176.8 508.2L179.1 507.7L181.4 507.5L183.7 507.9L186.0 508.3L188.3 508.8L190.7 508.9L193.0 508.9L195.3 508.9L197.6 508.9L199.9 509.1L202.2 509.7L204.5 509.9L206.8 509.9L209.1 509.9L211.4 509.9L213.8 509.7L216.1 509.6L218.4 509.7L220.7 509.8L223.0 510.1L225.3 510.7L227.6 511.5L229.9 511.8L232.2 511.9L234.5 512.0L236.9 511.4L239.2 510.9L241.5 510.6L243.8 509.9L246.1 508.8L248.4 507.8L250.7 507.0L253.0 505.9L255.3 504.8L257.7 503.7L260.0 502.5L262.3 501.2L264.6 499.9L266.9 498.9L269.2 497.6L271.5 496.3L273.8 495.1L276.1 493.9L278.4 492.4L280.8 490.7L283.1 489.0L285.4 487.2L287.7 485.6L290.0 484.2L292.3 482.8L294.6 481.3L296.9 479.8L299.2 478.4L301.5 476.6L303.9 474.5L306.2 472.4L308.5 470.3L310.8 468.0L313.1 465.7L315.4 463.2L317.7 460.5L320.0 458.4L322.3 456.3L324.6 453.8L327.0 451.3L329.3 448.4L331.6 445.9L333.9 443.7L336.2 441.6L338.5 440.4L340.8 439.4L343.1 437.9L345.4 436.8L347.7 436.0L350.1 435.0L352.4 434.0L354.7 432.9L357.0 431.5L359.3 430.0L361.6 428.8L363.9 427.7L366.2 426.4L368.5 425.0L370.8 423.5L373.2 422.3L375.5 420.8L377.8 419.3L380.1 418.1L382.4 416.9L384.7 415.7L387.0 414.9L389.3 413.8L391.6 412.5L393.9 411.1L396.3 409.7L398.6 408.2L400.9 406.6L403.2 405.1L405.5 403.5L407.8 401.8L410.1 400.2L412.4 398.5L414.7 397.0L417.1 395.3L419.4 393.6L421.7 391.8L424.0 390.2L426.3 389.0L428.6 387.7L430.9 386.6L433.2 386.1L435.5 385.2L437.8 384.6L440.2 383.7L442.5 382.7L444.8 382.0L447.1 381.7L449.4 381.5L451.7 381.7L454.0 381.3L456.3 381.3L458.6 382.0L460.9 382.1L463.3 381.9L465.6 381.6L467.9 381.2L470.2 380.7L472.5 380.1L474.8 379.8L477.1 379.2L479.4 378.2L481.7 377.4L484.0 376.8L486.4 375.7L488.7 374.6L491.0 373.2L493.3 372.0L495.6 370.6L497.9 368.9L500.2 366.8L502.5 364.7L504.8 362.8L507.1 360.5L509.5 358.4L511.8 356.6L514.1 354.9L516.4 353.3L518.7 351.7L521.0 350.5L523.3 349.1L525.6 347.7L527.9 346.7L530.2 345.8L532.6 345.1L534.9 344.8L537.2 344.3L539.5 344.6L541.8 346.5L544.1 347.6L546.4 348.3L548.7 348.5L551.0 348.7L553.3 348.9L555.7 349.7L558.0 350.5L560.3 350.6L562.6 350.7L564.9 350.2L567.2 349.6L569.5 349.1L571.8 348.1L574.1 347.1L576.5 345.8L578.8 344.1L581.1 342.5L583.4 340.5L585.7 338.6L588.0 336.5L590.3 334.7L592.6 332.7L594.9 330.5L597.2 327.9L599.6 325.8L601.9 323.7L604.2 321.4L606.5 319.6L608.8 317.5L611.1 314.5L613.4 311.5L615.7 306.7L618.0 300.7L620.3 293.2L622.7 287.5L625.0 284.6L627.3 281.4L629.6 279.5L631.9 275.0L634.2 270.6L636.5 267.3L638.8 264.5L641.1 262.4L643.4 260.9L645.8 259.8L648.1 258.3L650.4 256.1L652.7 254.4L655.0 251.5L657.3 250.6L659.6 249.3L661.9 247.4L664.2 245.7L666.5 244.0L668.9 241.7L671.2 240.7L673.5 238.8L675.8 236.4L678.1 234.4L680.4 232.8L682.7 231.1L685.0 228.4L687.3 226.5L689.6 223.8L692.0 220.8L694.3 218.1L696.6 214.5L698.9 211.4L701.2 208.9L703.5 207.0L705.8 205.2L708.1 204.5L710.4 204.3L712.7 202.7L715.1 202.5L717.4 203.0L719.7 204.1L722.0 204.7L724.3 206.3L726.6 207.5L728.9 207.5L731.2 208.5L733.5 209.5L735.9 210.3L738.2 210.6L740.5 212.9L742.8 214.6L745.1 216.0L747.4 217.3L749.7 219.3L752.0 221.1L754.3 222.1L756.6 223.3L759.0 223.8L761.3 224.8L763.6 226.6L765.9 228.9L768.2 231.2L770.5 232.9L772.8 234.4L775.1 235.8L777.4 237.5L779.7 239.8L782.1 242.5L784.4 245.0L786.7 246.7L789.0 248.2L791.3 249.3L793.6 249.5L795.9 250.1L798.2 250.9L800.5 252.0L802.8 252.9L805.2 253.5L807.5 254.4L809.8 254.9L812.1 254.9L814.4 255.1L816.7 254.8L819.0 255.0L821.3 255.6L823.6 256.1L825.9 257.8L828.3 260.2L830.6 262.1L832.9 263.6L835.2 264.7L837.5 266.7L839.8 269.4L842.1 271.7L844.4 274.6L846.7 276.7L849.0 278.8L851.4 280.7L853.7 282.2L856.0 283.5L858.3 284.9L860.6 285.9L862.9 287.8L865.2 289.3L867.5 290.5L869.8 291.4L872.1 292.0L874.5 292.4L876.8 292.6L879.1 292.9L881.4 293.3L883.7 294.0L886.0 294.9L888.3 296.0L890.6 296.8L892.9 297.1L895.2 297.5L897.6 298.4L899.9 299.3L902.2 300.1L904.5 301.1L906.8 301.7L909.1 301.8L911.4 302.1L913.7 302.9L916.0 303.8L918.4 306.0L920.7 308.6L923.0 310.4L925.3 312.1L927.6 313.4L929.9 314.4L932.2 314.8L934.5 314.5L936.8 314.1L939.1 314.0L941.5 313.4L943.8 313.3L946.1 313.5L948.4 314.0L950.7 314.8L953.0 315.7L955.3 316.7L957.6 318.4L959.9 319.4L962.2 320.7L964.6 322.1L966.9 323.2L969.2 324.3L971.5 325.2L973.8 326.0L976.1 326.8L978.4 328.2L980.7 329.3L983.0 330.0L985.3 331.2L987.7 332.4L990.0 333.3L992.3 334.2L994.6 334.8L996.9 335.9L999.2 337.0L1001.5 337.8L1003.8 338.5L1006.1 338.9L1008.4 339.3L1010.8 339.4L1013.1 338.9L1015.4 338.7L1017.7 338.4L1020.0 337.9L1022.3 337.4L1024.6 336.6L1026.9 335.5L1029.2 334.5L1031.5 333.6L1033.9 332.4L1036.2 331.1L1038.5 330.0L1040.8 329.2L1043.1 328.5L1045.4 328.0L1047.7 327.6L1050.0 326.9L1052.3 326.3L1054.6 324.9L1057.0 323.4L1059.3 322.1L1061.6 320.4L1063.9 318.4L1066.2 316.3L1068.5 314.2L1070.8 312.4L1073.1 310.8L1075.4 309.4L1077.8 307.8L1080.1 307.0L1082.4 307.0L1084.7 306.4L1087.0 306.3L1089.3 305.5L1091.6 304.8L1093.9 303.6L1096.2 303.0L1098.5 302.7L1100.9 302.7L1103.2 302.5L1105.5 302.6L1107.8 303.4L1110.1 304.1L1112.4 304.8L1114.7 306.1L1117.0 306.8L1119.3 307.6L1121.6 308.5L1124.0 309.4L1126.3 309.6L1128.6 310.5L1130.9 311.8L1133.2 313.5L1135.5 315.2L1137.8 317.0L1140.1 318.0L1142.4 318.8L1144.7 319.5L1147.1 319.9L1149.4 320.7L1151.7 321.9L1154.0 322.8L1156.3 323.4L1158.6 323.6L1160.9 324.4L1163.2 325.0L1165.5 325.4L1167.8 325.6L1170.2 325.6L1172.5 325.3L1174.8 325.3L1177.1 325.9L1179.4 326.3L1181.7 326.2L1184.0 326.0L1186.3 325.8L1188.6 325.6L1190.9 325.3L1193.3 325.2L1195.6 325.2L1197.9 324.9L1200.2 324.7L1202.5 324.5L1204.8 324.4L1207.1 324.1L1209.4 323.6L1211.7 322.6L1214.0 321.8L1216.4 321.2L1218.7 320.3L1221.0 319.4L1223.3 318.3L1225.6 316.8L1227.9 315.7L1230.2 314.4L1232.5 313.1L1234.8 312.3L1237.2 311.3L1239.5 310.8L1241.8 310.4L1244.1 310.0L1246.4 310.1L1248.7 310.4L1251.0 310.5L1253.3 310.8L1255.6 311.0L1257.9 311.4L1260.3 311.7L1262.6 311.9L1264.9 312.5L1267.2 312.7L1269.5 312.8L1271.8 313.5L1274.1 314.7L1276.4 315.5L1278.7 316.2L1281.0 316.4L1283.4 316.2L1285.7 316.1L1288.0 315.9L1290.3 315.7L1292.6 315.4L1294.9 315.0L1297.2 314.4L1299.5 313.8L1301.8 313.4L1304.1 313.2L1306.5 313.2L1308.8 313.1L1311.1 313.2L1313.4 313.6L1315.7 314.0L1318.0 314.7L1320.3 315.9L1322.6 317.1L1324.9 318.5L1327.2 319.3L1329.6 319.4L1331.9 320.1L1334.2 320.6L1336.5 321.3L1338.8 322.4L1341.1 322.9L1343.4 323.5L1345.7 324.5L1348.0 325.6L1350.3 327.3L1352.7 329.3L1355.0 330.9L1357.3 332.3L1359.6 333.8L1361.9 334.8L1364.2 335.7L1366.5 336.9L1368.8 338.3L1371.1 339.1L1373.4 339.1L1375.8 338.9L1378.1 339.0L1380.4 339.8L1382.7 340.6L1385.0 341.1L1387.3 341.6L1389.6 342.1L1391.9 343.2L1394.2 344.0L1396.6 344.6L1398.9 344.9L1401.2 345.4L1403.5 346.4L1405.8 347.1L1408.1 347.9L1410.4 348.4L1412.7 348.9L1415.0 349.5L1417.3 350.2L1419.7 351.0L1422.0 351.5L1424.3 352.1L1426.6 352.7L1428.9 353.3L1431.2 353.6L1433.5 354.0L1435.8 354.5L1438.1 354.9L1440.4 355.0L1442.8 354.9L1445.1 354.6L1447.4 354.3L1449.7 353.3L1452.0 352.6L1454.3 351.5L1456.6 350.7L1458.9 350.4L1461.2 350.0L1463.5 349.9L1465.9 350.0L1468.2 350.2L1470.5 350.2L1472.8 350.3L1475.1 350.5L1477.4 350.5L1479.7 350.6L1482.0 350.7L1484.3 351.0L1486.6 351.4L1489.0 352.1L1491.3 353.0L1493.6 354.1L1495.9 355.1L1498.2 356.0L1500.5 356.8L1502.8 357.5L1505.1 357.9L1507.4 358.1L1509.7 358.4L1512.1 358.5L1514.4 358.4L1516.7 359.5L1519.0 361.2L1521.3 363.4L1523.6 364.9L1525.9 366.0L1528.2 367.1L1530.5 368.2L1532.8 369.1L1535.2 370.4L1537.5 372.2L1539.8 373.9L1542.1 375.8L1544.4 377.3L1546.7 378.2L1549.0 379.1L1551.3 380.0L1553.6 380.7L1556.0 381.6L1558.3 382.9L1560.6 383.7L1562.9 384.8L1565.2 385.5L1567.5 385.9L1569.8 386.3L1572.1 385.2L1574.4 384.4L1576.7 383.0L1579.1 381.9L1581.4 382.3L1583.7 382.4L1586.0 382.8L1588.3 382.9L1590.6 382.7L1592.9 382.6L1595.2 382.5L1597.5 382.6L1599.8 382.6L1602.2 382.5L1604.5 382.5L1606.8 382.6L1609.1 382.2L1611.4 381.9L1613.7 381.9L1616.0 382.2L1618.3 382.8L1620.6 383.4L1622.9 383.9L1625.3 384.4L1627.6 384.8L1629.9 385.0L1632.2 385.1L1634.5 385.4L1636.8 385.6L1639.1 385.6L1641.4 386.0L1643.7 386.5L1646.0 386.5L1648.4 386.6L1650.7 386.8L1653.0 387.0L1655.3 386.7L1657.6 386.8L1659.9 387.0L1662.2 387.3L1664.5 387.9L1666.8 388.3L1669.1 389.0L1671.5 390.1L1673.8 391.3L1676.1 392.5L1678.4 393.2L1680.7 393.4L1683.0 393.8L1685.3 394.2L1687.6 394.7L1689.9 395.2L1692.2 395.7L1694.6 396.2L1696.9 396.8L1699.2 397.4L1701.5 398.0L1703.8 398.5L1706.1 399.2L1708.4 399.7L1710.7 400.1L1713.0 400.5L1715.4 401.1L1717.7 401.8L1720.0 402.6L1722.3 403.6L1724.6 404.3L1726.9 404.7L1729.2 405.1L1731.5 405.6L1733.8 406.2L1736.1 406.8L1738.5 406.9L1740.8 406.8L1743.1 406.6L1745.4 406.6L1747.7 406.6L1750.0 406.3L1752.3 406.0L1754.6 405.4L1756.9 404.7L1759.2 404.1L1761.6 403.5L1763.9 402.8L1766.2 402.1L1768.5 401.5L1770.8 400.9L1773.1 399.9L1775.4 398.8L1777.7 397.6L1780.0 394.8L1782.3 391.3" fill="none" stroke="#e6a470" stroke-width="1" shape-rendering="crispEdges"/>
<path d="M7.0 408.6L8.2 409.4L10.5 411.0L12.8 412.5L15.1 414.1L17.4 415.8L19.7 417.0L22.0 418.1L24.3 419.4L26.6 421.5L28.9 424.4L31.3 426.7L33.6 430.2L35.9 434.5L38.2 440.7L40.5 445.9L42.8 452.8L45.1 459.0L47.4 466.2L49.7 473.0L52.0 479.8L54.4 486.6L56.7 492.4L59.0 498.2L61.3 503.2L63.6 507.7L65.9 512.7L68.2 517.9L70.5 524.1L72.8 529.8L75.1 535.9L77.5 542.0L79.8 548.0L82.1 553.1L84.4 557.6L86.7 561.6L89.0 565.9L91.3 568.5L93.6 570.4L95.9 570.0L98.3 570.4L100.6 568.7L102.9 568.1L105.2 565.7L107.5 563.4L109.8 560.7L112.1 558.2L114.4 556.8L116.7 554.6L119.0 553.0L121.4 551.5L123.7 549.2L126.0 546.5L128.3 542.5L130.6 539.1L132.9 535.4L135.2 532.2L137.5 529.3L139.8 526.8L142.1 524.4L144.5 521.6L146.8 519.0L149.1 517.3L151.4 515.7L153.7 513.9L156.0 512.2L158.3 510.8L160.6 508.9L162.9 507.7L165.2 506.8L167.6 506.2L169.9 505.1L172.2 503.9L174.5 502.9L176.8 502.2L179.1 501.7L181.4 501.2L183.7 501.3L186.0 501.8L188.3 502.4L190.7 502.6L193.0 502.4L195.3 502.6L197.6 502.8L199.9 503.1L202.2 504.0L204.5 504.5L206.8 504.8L209.1 504.9L211.4 505.3L213.8 505.7L216.1 506.1L218.4 506.8L220.7 507.5L223.0 508.3L225.3 509.4L227.6 510.7L229.9 511.6L232.2 512.5L234.5 513.3L236.9 513.4L239.2 513.2L241.5 512.7L243.8 511.6L246.1 510.1L248.4 509.0L250.7 508.2L253.0 507.0L255.3 505.7L257.7 504.2L260.0 502.1L262.3 500.3L264.6 498.6L266.9 497.2L269.2 495.5L271.5 493.9L273.8 492.1L276.1 490.4L278.4 488.0L280.8 485.4L283.1 482.1L285.4 478.6L287.7 475.7L290.0 473.2L292.3 470.6L294.6 468.5L296.9 466.2L299.2 463.9L301.5 461.5L303.9 459.1L306.2 456.6L308.5 453.8L310.8 451.1L313.1 448.3L315.4 445.4L317.7 442.3L320.0 439.7L322.3 437.3L324.6 434.0L327.0 430.9L329.3 427.4L331.6 424.2L333.9 421.2L336.2 418.5L338.5 417.0L340.8 415.8L343.1 414.1L345.4 412.6L347.7 411.3L350.1 409.8L352.4 408.4L354.7 406.9L357.0 405.0L359.3 403.4L361.6 402.5L363.9 401.7L366.2 400.7L368.5 399.9L370.8 399.1L373.2 398.6L375.5 398.1L377.8 397.2L380.1 396.5L382.4 396.3L384.7 396.2L387.0 397.0L389.3 397.1L391.6 396.7L393.9 396.2L396.3 394.7L398.6 393.0L400.9 391.6L403.2 390.0L405.5 387.9L407.8 385.9L410.1 383.9L412.4 382.0L414.7 380.5L417.1 378.9L419.4 377.1L421.7 374.9L424.0 373.2L426.3 372.0L428.6 370.6L430.9 369.4L433.2 369.0L435.5 368.2L437.8 367.3L440.2 366.4L442.5 365.3L444.8 364.1L447.1 363.5L449.4 363.3L451.7 363.7L454.0 363.7L456.3 364.1L458.6 365.2L460.9 365.9L463.3 366.4L465.6 366.9L467.9 367.4L470.2 367.8L472.5 368.0L474.8 368.8L477.1 369.3L479.4 369.5L481.7 369.8L484.0 369.9L486.4 369.6L488.7 369.2L491.0 367.8L493.3 366.9L495.6 365.7L497.9 364.2L500.2 362.5L502.5 360.5L504.8 358.2L507.1 355.2L509.5 352.1L511.8 349.6L514.1 346.9L516.4 343.5L518.7 340.6L521.0 338.4L523.3 336.2L525.6 333.7L527.9 331.9L530.2 330.2L532.6 328.5L534.9 327.4L537.2 326.5L539.5 326.2L541.8 327.5L544.1 328.5L546.4 329.2L548.7 329.8L551.0 330.3L553.3 330.9L555.7 332.7L558.0 334.8L560.3 336.4L562.6 337.9L564.9 339.3L567.2 340.4L569.5 341.3L571.8 341.8L574.1 342.1L576.5 342.2L578.8 341.5L581.1 340.9L583.4 340.0L585.7 338.9L588.0 337.3L590.3 335.8L592.6 333.7L594.9 331.4L597.2 328.0L599.6 323.2L601.9 319.2L604.2 315.2L606.5 312.0L608.8 308.4L611.1 304.0L613.4 298.7L615.7 291.5L618.0 283.6L620.3 273.8L622.7 266.2L625.0 261.3L627.3 256.0L629.6 252.3L631.9 246.1L634.2 240.0L636.5 235.4L638.8 231.1L641.1 227.9L643.4 225.2L645.8 223.1L648.1 220.3L650.4 217.0L652.7 214.5L655.0 211.1L657.3 209.3L659.6 207.1L661.9 204.5L664.2 201.7L666.5 199.2L668.9 197.0L671.2 196.0L673.5 196.1L675.8 197.1L678.1 200.1L680.4 202.0L682.7 201.0L685.0 199.4L687.3 197.2L689.6 196.9L692.0 196.4L694.3 194.9L696.6 192.1L698.9 189.1L701.2 186.1L703.5 183.1L705.8 180.7L708.1 180.2L710.4 179.6L712.7 179.0L715.1 177.7L717.4 177.7L719.7 178.8L722.0 179.5L724.3 181.1L726.6 183.2L728.9 182.9L731.2 184.5L733.5 186.8L735.9 188.6L738.2 189.5L740.5 192.8L742.8 196.4L745.1 199.3L747.4 203.0L749.7 207.8L752.0 212.3L754.3 217.1L756.6 221.9L759.0 225.4L761.3 228.9L763.6 233.3L765.9 237.2L768.2 240.7L770.5 245.1L772.8 248.1L775.1 250.3L777.4 252.2L779.7 255.3L782.1 257.8L784.4 260.6L786.7 263.9L789.0 265.9L791.3 267.6L793.6 268.6L795.9 270.5L798.2 270.5L800.5 271.4L802.8 272.4L805.2 273.2L807.5 273.5L809.8 273.6L812.1 274.0L814.4 274.2L816.7 274.7L819.0 275.2L821.3 275.1L823.6 274.4L825.9 274.9L828.3 276.7L830.6 278.2L832.9 279.3L835.2 279.9L837.5 280.6L839.8 281.7L842.1 282.6L844.4 284.9L846.7 286.7L849.0 288.7L851.4 291.7L853.7 293.9L856.0 295.7L858.3 297.3L860.6 298.7L862.9 301.2L865.2 303.3L867.5 305.4L869.8 307.8L872.1 309.7L874.5 311.7L876.8 313.3L879.1 314.5L881.4 315.9L883.7 316.3L886.0 316.3L888.3 316.8L890.6 317.5L892.9 318.0L895.2 317.6L897.6 317.1L899.9 316.8L902.2 315.7L904.5 315.6L906.8 315.1L909.1 314.2L911.4 313.7L913.7 314.1L916.0 314.3L918.4 316.2L920.7 317.8L923.0 319.0L925.3 320.3L927.6 321.6L929.9 322.9L932.2 323.8L934.5 324.2L936.8 324.4L939.1 324.7L941.5 324.2L943.8 323.9L946.1 323.8L948.4 324.1L950.7 325.4L953.0 326.5L955.3 327.3L957.6 328.9L959.9 330.0L962.2 331.0L964.6 332.6L966.9 334.4L969.2 336.2L971.5 337.1L973.8 337.9L976.1 337.4L978.4 337.0L980.7 337.0L983.0 336.8L985.3 337.3L987.7 338.3L990.0 339.5L992.3 341.5L994.6 343.3L996.9 345.4L999.2 347.9L1001.5 349.8L1003.8 351.3L1006.1 352.2L1008.4 352.8L1010.8 353.0L1013.1 352.5L1015.4 351.4L1017.7 350.8L1020.0 349.7L1022.3 348.6L1024.6 347.2L1026.9 345.4L1029.2 344.0L1031.5 342.6L1033.9 340.9L1036.2 338.3L1038.5 336.2L1040.8 334.7L1043.1 332.8L1045.4 330.9L1047.7 329.4L1050.0 327.6L1052.3 326.0L1054.6 323.1L1057.0 320.1L1059.3 317.4L1061.6 314.3L1063.9 311.2L1066.2 307.7L1068.5 304.5L1070.8 302.2L1073.1 299.8L1075.4 297.5L1077.8 295.3L1080.1 293.7L1082.4 293.2L1084.7 292.6L1087.0 292.3L1089.3 291.3L1091.6 290.7L1093.9 289.8L1096.2 289.1L1098.5 288.6L1100.9 288.2L1103.2 287.5L1105.5 287.0L1107.8 287.5L1110.1 287.9L1112.4 289.2L1114.7 291.2L1117.0 292.6L1119.3 294.5L1121.6 296.9L1124.0 299.6L1126.3 301.7L1128.6 304.3L1130.9 307.1L1133.2 310.3L1135.5 313.9L1137.8 316.8L1140.1 318.3L1142.4 320.1L1144.7 321.4L1147.1 323.2L1149.4 325.3L1151.7 328.4L1154.0 330.6L1156.3 332.3L1158.6 333.4L1160.9 335.3L1163.2 336.7L1165.5 337.1L1167.8 337.4L1170.2 337.6L1172.5 336.7L1174.8 336.9L1177.1 337.4L1179.4 337.6L1181.7 337.4L1184.0 337.6L1186.3 337.1L1188.6 336.2L1190.9 334.7L1193.3 333.3L1195.6 331.9L1197.9 331.0L1200.2 330.1L1202.5 329.5L1204.8 329.1L1207.1 328.3L1209.4 326.7L1211.7 324.8L1214.0 323.4L1216.4 322.4L1218.7 320.6L1221.0 318.9L1223.3 317.1L1225.6 315.2L1227.9 313.7L1230.2 312.3L1232.5 310.4L1234.8 308.6L1237.2 306.7L1239.5 305.6L1241.8 304.8L1244.1 304.0L1246.4 303.6L1248.7 303.5L1251.0 303.2L1253.3 303.0L1255.6 302.8L1257.9 302.9L1260.3 302.9L1262.6 302.7L1264.9 303.0L1267.2 303.4L1269.5 304.1L1271.8 305.2L1274.1 306.7L1276.4 308.2L1278.7 309.6L1281.0 310.8L1283.4 312.1L1285.7 313.1L1288.0 314.2L1290.3 315.4L1292.6 316.0L1294.9 316.7L1297.2 316.8L1299.5 316.7L1301.8 316.8L1304.1 316.7L1306.5 316.5L1308.8 316.4L1311.1 316.3L1313.4 316.6L1315.7 316.7L1318.0 317.2L1320.3 318.3L1322.6 319.2L1324.9 320.5L1327.2 321.4L1329.6 321.1L1331.9 320.8L1334.2 320.8L1336.5 321.0L1338.8 322.1L1341.1 323.0L1343.4 324.0L1345.7 325.5L1348.0 327.2L1350.3 329.7L1352.7 332.6L1355.0 335.4L1357.3 338.2L1359.6 340.8L1361.9 342.9L1364.2 344.6L1366.5 346.9L1368.8 349.2L1371.1 350.5L1373.4 351.2L1375.8 351.3L1378.1 351.2L1380.4 351.5L1382.7 351.9L1385.0 352.5L1387.3 353.7L1389.6 354.5L1391.9 355.9L1394.2 356.9L1396.6 357.3L1398.9 358.0L1401.2 358.8L1403.5 359.7L1405.8 360.2L1408.1 360.1L1410.4 359.4L1412.7 359.0L1415.0 358.9L1417.3 358.8L1419.7 359.2L1422.0 359.4L1424.3 359.5L1426.6 359.3L1428.9 359.7L1431.2 360.5L1433.5 361.7L1435.8 362.7L1438.1 363.0L1440.4 362.9L1442.8 362.8L1445.1 362.5L1447.4 362.2L1449.7 360.6L1452.0 359.5L1454.3 358.0L1456.6 357.2L1458.9 356.6L1461.2 355.4L1463.5 354.7L1465.9 354.1L1468.2 353.9L1470.5 353.4L1472.8 353.0L1475.1 352.5L1477.4 351.7L1479.7 351.4L1482.0 350.7L1484.3 350.3L1486.6 350.2L1489.0 350.5L1491.3 351.0L1493.6 351.5L1495.9 352.1L1498.2 352.8L1500.5 353.9L1502.8 354.9L1505.1 355.8L1507.4 357.1L1509.7 358.4L1512.1 359.9L1514.4 360.8L1516.7 362.6L1519.0 365.1L1521.3 367.8L1523.6 369.8L1525.9 371.3L1528.2 373.1L1530.5 374.8L1532.8 376.2L1535.2 378.3L1537.5 380.8L1539.8 383.3L1542.1 385.9L1544.4 387.9L1546.7 389.2L1549.0 390.2L1551.3 391.1L1553.6 391.8L1556.0 392.9L1558.3 394.3L1560.6 395.5L1562.9 397.3L1565.2 398.8L1567.5 400.1L1569.8 401.5L1572.1 401.5L1574.4 400.7L1576.7 398.6L1579.1 396.1L1581.4 395.6L1583.7 395.5L1586.0 395.3L1588.3 394.9L1590.6 394.4L1592.9 393.6L1595.2 392.1L1597.5 390.9L1599.8 389.2L1602.2 387.9L1604.5 387.2L1606.8 386.6L1609.1 385.3L1611.4 384.5L1613.7 383.5L1616.0 382.6L1618.3 382.3L1620.6 381.7L1622.9 381.6L1625.3 381.6L1627.6 381.5L1629.9 382.8L1632.2 383.6L1634.5 385.4L1636.8 386.8L1639.1 386.6L1641.4 387.0L1643.7 387.2L1646.0 387.3L1648.4 387.8L1650.7 388.1L1653.0 388.7L1655.3 388.4L1657.6 388.8L1659.9 389.2L1662.2 389.7L1664.5 390.4L1666.8 391.5L1669.1 392.7L1671.5 394.1L1673.8 395.3L1676.1 396.3L1678.4 396.7L1680.7 396.8L1683.0 397.1L1685.3 397.6L1687.6 398.2L1689.9 398.9L1692.2 399.6L1694.6 400.3L1696.9 401.4L1699.2 402.0L1701.5 402.6L1703.8 403.5L1706.1 404.6L1708.4 405.5L1710.7 406.2L1713.0 407.4L1715.4 408.4L1717.7 409.5L1720.0 410.6L1722.3 411.6L1724.6 412.5L1726.9 412.9L1729.2 412.8L1731.5 412.8L1733.8 412.7L1736.1 413.2L1738.5 413.6L1740.8 413.6L1743.1 413.5L1745.4 413.5L1747.7 413.5L1750.0 413.1L1752.3 412.8L1754.6 411.9L1756.9 410.9L1759.2 410.0L1761.6 409.1L1763.9 407.8L1766.2 406.7L1768.5 405.8L1770.8 404.9L1773.1 403.3L1775.4 401.4L1777.7 399.2L1780.0 395.2L1782.3 390.5" fill="none" stroke="#6286c4" stroke-width="1" shape-rendering="crispEdges"/>
<path d="M7.0 413.7L8.2 415.4L10.5 418.1L12.8 420.3L15.1 422.7L17.4 424.6L19.7 425.7L22.0 426.2L24.3 426.9L26.6 429.0L28.9 432.2L31.3 434.2L33.6 438.0L35.9 442.8L38.2 451.3L40.5 457.3L42.8 466.3L45.1 473.3L47.4 481.8L49.7 489.1L52.0 496.1L54.4 503.3L56.7 507.7L59.0 512.5L61.3 515.5L63.6 518.0L65.9 522.3L68.2 526.7L70.5 532.6L72.8 537.3L75.1 542.0L77.5 545.9L79.8 548.5L82.1 549.8L84.4 551.0L86.7 552.6L89.0 553.7L91.3 553.2L93.6 552.6L95.9 552.0L98.3 551.0L100.6 549.5L102.9 548.9L105.2 547.1L107.5 544.8L109.8 542.5L112.1 541.2L114.4 540.1L116.7 538.2L119.0 536.1L121.4 534.0L123.7 532.6L126.0 531.1L128.3 529.1L130.6 527.4L132.9 525.9L135.2 524.8L137.5 523.4L139.8 521.8L142.1 520.7L144.5 519.2L146.8 517.8L149.1 516.8L151.4 516.0L153.7 514.7L156.0 513.3L158.3 512.0L160.6 510.7L162.9 509.6L165.2 508.3L167.6 507.7L169.9 507.0L172.2 506.2L174.5 505.0L176.8 504.2L179.1 503.5L181.4 503.5L183.7 504.4L186.0 505.5L188.3 506.7L190.7 507.1L193.0 507.2L195.3 507.3L197.6 507.5L199.9 508.0L202.2 509.2L204.5 509.7L206.8 509.7L209.1 509.7L211.4 509.7L213.8 509.3L216.1 509.3L218.4 509.4L220.7 509.7L223.0 510.2L225.3 511.4L227.6 512.9L229.9 513.4L232.2 513.4L234.5 513.5L236.9 512.2L239.2 511.2L241.5 510.5L243.8 509.1L246.1 507.1L248.4 505.3L250.7 504.0L253.0 502.1L255.3 500.2L257.7 498.3L260.0 496.3L262.3 494.3L264.6 492.2L266.9 490.8L269.2 489.0L271.5 487.1L273.8 485.4L276.1 483.9L278.4 481.7L280.8 479.2L283.1 476.6L285.4 474.1L287.7 472.0L290.0 470.3L292.3 468.7L294.6 466.8L296.9 464.9L299.2 463.4L301.5 461.0L303.9 458.1L306.2 455.2L308.5 452.4L310.8 449.2L313.1 446.1L315.4 442.8L317.7 439.2L320.0 436.5L322.3 434.2L324.6 431.0L327.0 427.8L329.3 423.9L331.6 420.9L333.9 418.6L336.2 416.3L338.5 415.9L340.8 415.8L343.1 414.8L345.4 414.3L347.7 414.6L350.1 414.2L352.4 413.9L354.7 413.2L357.0 412.1L359.3 410.4L361.6 409.6L363.9 409.0L366.2 407.8L368.5 406.5L370.8 405.1L373.2 404.0L375.5 402.5L377.8 400.9L380.1 400.1L382.4 399.1L384.7 398.1L387.0 397.9L389.3 397.1L391.6 395.9L393.9 394.4L396.3 392.8L398.6 391.2L400.9 389.5L403.2 387.8L405.5 386.0L407.8 384.1L410.1 382.1L412.4 380.3L414.7 378.8L417.1 376.7L419.4 374.9L421.7 372.8L424.0 371.2L426.3 370.3L428.6 369.2L430.9 368.5L433.2 368.9L435.5 368.5L437.8 368.4L440.2 368.0L442.5 367.3L444.8 367.1L447.1 367.6L449.4 368.3L451.7 369.6L454.0 369.9L456.3 370.8L458.6 372.9L460.9 373.8L463.3 374.1L465.6 374.0L467.9 373.9L470.2 373.4L472.5 372.9L474.8 372.8L477.1 372.1L479.4 370.7L481.7 369.8L484.0 369.2L486.4 367.6L488.7 366.1L491.0 364.0L493.3 362.3L495.6 360.4L497.9 357.7L500.2 354.4L502.5 351.4L504.8 348.6L507.1 345.2L509.5 342.2L511.8 340.0L514.1 337.8L516.4 336.0L518.7 334.2L521.0 333.2L523.3 331.9L525.6 330.5L527.9 329.7L530.2 329.4L532.6 329.2L534.9 329.8L537.2 330.0L539.5 331.6L541.8 336.4L544.1 339.3L546.4 341.3L548.7 342.4L551.0 343.3L553.3 343.9L555.7 345.9L558.0 347.8L560.3 348.2L562.6 348.6L564.9 347.8L567.2 346.8L569.5 346.0L571.8 344.4L574.1 342.6L576.5 340.4L578.8 337.5L581.1 334.9L583.4 331.5L585.7 328.4L588.0 325.2L590.3 322.5L592.6 319.6L594.9 316.1L597.2 312.3L599.6 309.3L601.9 306.5L604.2 303.3L606.5 301.2L608.8 298.4L611.1 294.0L613.4 289.7L615.7 282.0L618.0 272.1L620.3 259.5L622.7 250.9L625.0 248.0L627.3 244.5L629.6 243.7L631.9 237.6L634.2 231.8L636.5 228.4L638.8 225.9L641.1 224.7L643.4 224.8L645.8 225.4L648.1 225.1L650.4 223.3L652.7 222.4L655.0 219.2L657.3 219.9L659.6 219.8L661.9 218.4L664.2 217.3L666.5 216.1L668.9 213.8L671.2 213.8L673.5 212.2L675.8 209.6L678.1 207.6L680.4 206.7L682.7 205.2L685.0 202.0L687.3 200.2L689.6 196.9L692.0 193.2L694.3 190.0L696.6 185.1L698.9 181.2L701.2 178.7L703.5 177.2L705.8 176.0L708.1 176.9L710.4 178.6L712.7 177.5L715.1 178.9L717.4 181.8L719.7 185.5L722.0 188.2L724.3 192.5L726.6 196.0L728.9 196.9L731.2 199.6L733.5 202.3L735.9 204.4L738.2 205.4L740.5 210.4L742.8 213.9L745.1 216.7L747.4 219.3L749.7 223.0L752.0 226.2L754.3 227.7L756.6 229.6L759.0 230.2L761.3 231.6L763.6 234.6L765.9 238.6L768.2 242.2L770.5 244.8L772.8 246.8L775.1 248.7L777.4 250.9L779.7 254.5L782.1 258.6L784.4 262.3L786.7 264.3L789.0 265.8L791.3 266.7L793.6 265.6L795.9 265.7L798.2 266.0L800.5 267.0L802.8 267.6L805.2 267.7L807.5 268.3L809.8 268.2L812.1 267.2L814.4 266.6L816.7 265.1L819.0 264.8L821.3 265.1L823.6 265.3L825.9 268.1L828.3 272.0L830.6 274.8L832.9 276.8L835.2 277.9L837.5 280.8L839.8 285.0L842.1 288.3L844.4 292.8L846.7 295.5L849.0 298.1L851.4 300.3L853.7 301.9L856.0 302.9L858.3 304.2L860.6 304.7L862.9 306.9L865.2 308.3L867.5 309.3L869.8 309.6L872.1 309.4L874.5 308.7L876.8 307.9L879.1 307.3L881.4 306.9L883.7 307.3L886.0 308.1L888.3 309.2L890.6 309.7L892.9 309.3L895.2 309.2L897.6 310.1L899.9 310.9L902.2 311.5L904.5 312.7L906.8 312.9L909.1 312.3L911.4 312.0L913.7 312.9L916.0 313.8L918.4 317.4L920.7 321.6L923.0 324.2L925.3 326.4L927.6 327.9L929.9 328.8L932.2 328.4L934.5 326.8L936.8 325.1L939.1 323.9L941.5 322.1L943.8 321.2L946.1 321.0L948.4 321.3L950.7 322.4L953.0 323.5L955.3 324.9L957.6 327.6L959.9 329.0L962.2 330.7L964.6 332.6L966.9 334.0L969.2 335.4L971.5 336.3L973.8 337.0L976.1 337.7L978.4 339.7L980.7 340.8L983.0 341.4L985.3 342.8L987.7 344.3L990.0 345.1L992.3 346.1L994.6 346.3L996.9 347.6L999.2 348.7L1001.5 349.4L1003.8 349.9L1006.1 349.8L1008.4 349.8L1010.8 349.2L1013.1 347.4L1015.4 346.4L1017.7 345.2L1020.0 343.6L1022.3 342.3L1024.6 340.4L1026.9 337.8L1029.2 335.8L1031.5 333.9L1033.9 331.5L1036.2 329.0L1038.5 327.0L1040.8 325.7L1043.1 324.6L1045.4 323.9L1047.7 323.4L1050.0 322.5L1052.3 321.6L1054.6 319.2L1057.0 316.7L1059.3 314.6L1061.6 311.9L1063.9 308.7L1066.2 305.2L1068.5 301.9L1070.8 299.3L1073.1 297.3L1075.4 295.6L1077.8 293.4L1080.1 293.0L1082.4 294.0L1084.7 293.9L1087.0 294.6L1089.3 294.0L1091.6 293.4L1093.9 292.0L1096.2 291.6L1098.5 292.0L1100.9 292.8L1103.2 293.1L1105.5 294.0L1107.8 296.3L1110.1 298.3L1112.4 300.1L1114.7 303.1L1117.0 304.6L1119.3 306.3L1121.6 308.1L1124.0 309.9L1126.3 310.3L1128.6 312.1L1130.9 314.5L1133.2 317.6L1135.5 320.7L1137.8 323.7L1140.1 325.1L1142.4 326.3L1144.7 326.9L1147.1 327.3L1149.4 328.2L1151.7 330.0L1154.0 331.1L1156.3 331.6L1158.6 331.5L1160.9 332.4L1163.2 333.0L1165.5 333.2L1167.8 332.9L1170.2 332.4L1172.5 331.2L1174.8 330.9L1177.1 331.5L1179.4 331.8L1181.7 331.3L1184.0 330.5L1186.3 329.8L1188.6 329.0L1190.9 328.3L1193.3 327.8L1195.6 327.5L1197.9 326.9L1200.2 326.2L1202.5 325.7L1204.8 325.4L1207.1 324.9L1209.4 323.8L1211.7 321.7L1214.0 320.4L1216.4 319.2L1218.7 317.6L1221.0 316.1L1223.3 314.1L1225.6 311.5L1227.9 309.8L1230.2 307.7L1232.5 305.6L1234.8 304.6L1237.2 303.3L1239.5 303.0L1241.8 302.8L1244.1 302.6L1246.4 303.3L1248.7 304.4L1251.0 305.0L1253.3 306.0L1255.6 306.8L1257.9 307.9L1260.3 308.8L1262.6 309.5L1264.9 310.7L1267.2 311.3L1269.5 311.7L1271.8 313.2L1274.1 315.4L1276.4 316.9L1278.7 318.2L1281.0 318.4L1283.4 318.0L1285.7 317.7L1288.0 317.0L1290.3 316.5L1292.6 315.9L1294.9 315.1L1297.2 313.9L1299.5 312.7L1301.8 312.0L1304.1 311.7L1306.5 311.8L1308.8 311.8L1311.1 312.1L1313.4 313.0L1315.7 313.7L1318.0 315.2L1320.3 317.4L1322.6 319.9L1324.9 322.3L1327.2 323.5L1329.6 323.4L1331.9 324.4L1334.2 325.2L1336.5 326.2L1338.8 327.9L1341.1 328.5L1343.4 329.3L1345.7 330.7L1348.0 332.4L1350.3 335.2L1352.7 338.6L1355.0 340.9L1357.3 343.0L1359.6 345.0L1361.9 346.2L1364.2 347.0L1366.5 348.6L1368.8 350.5L1371.1 350.9L1373.4 350.2L1375.8 348.9L1378.1 348.3L1380.4 349.1L1382.7 349.9L1385.0 350.2L1387.3 350.6L1389.6 350.9L1391.9 352.3L1394.2 353.2L1396.6 353.7L1398.9 353.6L1401.2 353.9L1403.5 355.1L1405.8 356.0L1408.1 356.8L1410.4 357.1L1412.7 357.4L1415.0 357.9L1417.3 358.7L1419.7 359.5L1422.0 359.8L1424.3 360.4L1426.6 361.0L1428.9 361.5L1431.2 361.4L1433.5 361.5L1435.8 361.9L1438.1 362.2L1440.4 361.9L1442.8 361.1L1445.1 360.1L1447.4 359.0L1449.7 356.8L1452.0 355.0L1454.3 352.7L1456.6 351.1L1458.9 350.4L1461.2 349.7L1463.5 349.5L1465.9 349.8L1468.2 350.1L1470.5 350.1L1472.8 350.4L1475.1 350.7L1477.4 350.7L1479.7 351.0L1482.0 351.0L1484.3 351.5L1486.6 352.4L1489.0 353.8L1491.3 355.4L1493.6 357.3L1495.9 358.9L1498.2 360.4L1500.5 361.8L1502.8 362.7L1505.1 363.0L1507.4 363.1L1509.7 363.2L1512.1 363.1L1514.4 362.6L1516.7 364.4L1519.0 367.4L1521.3 371.2L1523.6 373.6L1525.9 374.9L1528.2 376.6L1530.5 378.0L1532.8 378.9L1535.2 380.7L1537.5 383.5L1539.8 385.9L1542.1 388.8L1544.4 390.6L1546.7 391.4L1549.0 392.2L1551.3 392.9L1553.6 393.2L1556.0 394.2L1558.3 395.7L1560.6 396.3L1562.9 397.5L1565.2 397.8L1567.5 397.7L1569.8 397.6L1572.1 394.4L1574.4 392.3L1576.7 388.9L1579.1 386.2L1581.4 386.6L1583.7 386.6L1586.0 387.0L1588.3 386.9L1590.6 386.2L1592.9 385.8L1595.2 385.3L1597.5 385.3L1599.8 385.0L1602.2 384.6L1604.5 384.6L1606.8 384.6L1609.1 383.5L1611.4 382.9L1613.7 382.8L1616.0 383.4L1618.3 384.5L1620.6 385.5L1622.9 386.3L1625.3 387.2L1627.6 387.6L1629.9 387.9L1632.2 387.9L1634.5 388.2L1636.8 388.3L1639.1 388.1L1641.4 388.8L1643.7 389.5L1646.0 389.3L1648.4 389.3L1650.7 389.4L1653.0 389.7L1655.3 388.8L1657.6 388.9L1659.9 389.1L1662.2 389.6L1664.5 390.5L1666.8 391.2L1669.1 392.2L1671.5 394.3L1673.8 396.1L1676.1 398.2L1678.4 399.0L1680.7 399.1L1683.0 399.5L1685.3 399.8L1687.6 400.4L1689.9 400.8L1692.2 401.5L1694.6 401.9L1696.9 402.7L1699.2 403.5L1701.5 404.1L1703.8 404.6L1706.1 405.5L1708.4 406.0L1710.7 406.4L1713.0 406.7L1715.4 407.2L1717.7 408.1L1720.0 409.3L1722.3 410.7L1724.6 411.5L1726.9 411.7L1729.2 412.1L1731.5 412.6L1733.8 413.1L1736.1 413.8L1738.5 413.5L1740.8 412.8L1743.1 411.9L1745.4 411.6L1747.7 411.1L1750.0 410.2L1752.3 409.3L1754.6 407.9L1756.9 406.3L1759.2 405.0L1761.6 403.7L1763.9 402.3L1766.2 400.9L1768.5 399.9L1770.8 398.9L1773.1 397.1L1775.4 395.2L1777.7 393.0L1780.0 387.9L1782.3 381.6" fill="none" stroke="#76924a" stroke-width="1" shape-rendering="crispEdges"/>
<path d="M7.90 441V442M8.90 441V455M9.90 450V455M10.90 450V452M11.90 442V452M12.90 442V452M13.90 452V458M15.90 444V458M16.90 444V448M17.90 447V448M18.90 437V448M19.90 437V440M20.90 435V440M22.90 428V436M23.90 428V440M24.90 432V440M25.90 432V442M26.90 442V465M27.90 465V478M28.90 465V478M30.90 461V465M31.90 455V462M32.90 455V470M33.90 470V497M37.90 561V562M38.90 545V562M39.90 522V545M40.90 522V537M41.90 537V556M42.90 556V592M43.90 551V592M45.90 551V563M46.90 563V589M47.90 579V589M48.90 579V589M49.90 565V589M50.90 565V584M52.90 577V584M53.90 577V587M54.90 587V592M55.90 580V592M56.90 541V580M57.90 541V573M58.90 567V573M60.90 540V568M61.90 540V563M62.90 537V563M63.90 537V558M64.90 557V567M65.90 567V580M67.90 577V580M68.90 577V582M69.90 581V627M70.90 582V627M71.90 582V585M72.90 585V602M73.90 592V602M75.90 592V604M76.90 589V604M77.90 589V596M78.90 586V596M79.90 575V587M80.90 573V575M82.90 558V574M83.90 558V569M84.90 561V569M85.90 561V572M86.90 570V572M87.90 562V571M89.90 562V572M90.90 555V572M91.90 541V555M92.90 541V551M93.90 539V551M94.90 539V545M95.90 544V546M97.90 534V546M98.90 534V543M99.90 532V543M100.90 531V533M101.90 531V548M102.90 535V548M104.90 534V536M105.90 517V534M106.90 517V521M107.90 514V521M108.90 505V515M109.90 505V524M110.90 524V525M112.90 524V527M113.90 526V534M114.90 520V534M115.90 510V520M116.90 510V519M117.90 515V519M119.90 507V516M120.90 507V517M121.90 502V517M122.90 502V510M123.90 510V521M124.90 510V521M125.90 510V516M127.90 505V516M128.90 504V506M129.90 504V510M130.90 503V510M131.90 503V509M132.90 506V509M134.90 506V510M135.90 509V514M136.90 504V514M137.90 504V509M138.90 503V509M139.90 502V504M140.90 502V509M142.90 504V509M143.90 499V505M144.90 499V504M145.90 497V504M146.90 497V507M147.90 500V507M149.90 500V508M150.90 507V513M151.90 500V513M152.90 500V504M153.90 494V504M154.90 491V495M156.90 491V501M157.90 494V501M158.90 494V500M159.90 494V500M160.90 494V495M161.90 494V500M162.90 493V500M164.90 493V494M165.90 493V494M166.90 494V500M167.90 499V501M168.90 494V501M169.90 494V503M171.90 495V503M172.90 495V497M173.90 492V497M174.90 489V493M175.90 489V495M176.90 493V495M177.90 493V500M179.90 492V500M180.90 492V500M181.90 499V507M182.90 506V524M183.90 508V524M184.90 508V522M186.90 515V522M187.90 515V518M188.90 518V524M189.90 516V524M190.90 506V517M191.90 506V514M192.90 502V514M194.90 502V512M195.90 507V512M196.90 506V508M197.90 506V512M198.90 512V517M199.90 510V517M201.90 510V523M202.90 522V527M203.90 512V527M204.90 512V518M205.90 505V518M206.90 505V514M207.90 510V514M209.90 509V511M210.90 505V510M211.90 505V512M212.90 504V512M213.90 504V507M214.90 506V511M216.90 505V511M217.90 505V511M218.90 510V511M219.90 510V515M220.90 512V515M221.90 512V519M222.90 513V519M224.90 513V530M225.90 524V530M226.90 524V525M227.90 524V537M228.90 522V537M229.90 516V522M231.90 516V521M232.90 506V521M233.90 506V522M234.90 507V522M235.90 495V508M236.90 495V498M238.90 497V500M239.90 499V500M240.90 499V505M241.90 499V505M242.90 491V500M243.90 491V495M244.90 486V495M246.90 478V486M247.90 478V486M248.90 482V486M249.90 482V488M250.90 487V488M251.90 480V488M253.90 477V481M254.90 477V481M255.90 474V481M256.90 474V482M257.90 470V482M258.90 470V477M259.90 468V477M261.90 467V469M262.90 467V471M263.90 465V471M264.90 465V471M265.90 470V473M266.90 472V476M268.90 463V476M269.90 463V472M270.90 464V472M271.90 464V465M272.90 464V470M273.90 460V470M274.90 460V463M276.90 462V470M277.90 456V470M278.90 454V456M279.90 446V455M280.90 446V453M281.90 447V453M283.90 443V448M284.90 443V449M285.90 439V449M286.90 439V443M287.90 442V451M288.90 449V451M289.90 449V450M291.90 448V450M292.90 448V451M293.90 444V451M294.90 444V445M295.90 443V445M296.90 441V444M298.90 441V449M299.90 441V449M300.90 435V441M301.90 428V436M302.90 418V429M303.90 418V427M305.90 418V427M306.90 418V424M307.90 418V424M308.90 417V419M309.90 408V418M310.90 408V415M311.90 404V415M313.90 404V414M314.90 400V414M315.90 400V405M316.90 397V405M317.90 394V398M318.90 394V405M320.90 405V406M321.90 405V414M322.90 400V414M323.90 396V400M324.90 388V397M325.90 388V395M326.90 384V395M328.90 372V385M329.90 372V382M330.90 379V382M331.90 379V392M332.90 390V392M333.90 390V392M335.90 384V392M336.90 384V392M337.90 391V417M338.90 407V417M339.90 407V424M340.90 405V424M341.90 404V405M343.90 401V405M344.90 401V414M345.90 403V414M346.90 403V417M347.90 416V419M348.90 405V419M350.90 405V416M351.90 410V416M352.90 408V411M353.90 408V414M354.90 397V414M355.90 397V405M356.90 391V405M358.90 391V393M359.90 389V393M360.90 389V397M361.90 396V403M362.90 402V407M363.90 396V407M365.90 391V397M366.90 391V396M367.90 386V396M368.90 386V397M369.90 392V397M370.90 384V393M372.90 384V391M373.90 390V392M374.90 381V392M375.90 381V387M376.90 385V387M377.90 379V386M378.90 379V390M380.90 389V390M381.90 382V390M382.90 382V392M383.90 379V392M384.90 379V393M385.90 393V403M387.90 388V403M388.90 388V392M389.90 384V392M390.90 383V385M391.90 378V384M392.90 372V379M393.90 372V381M395.90 372V381M396.90 372V375M397.90 368V375M398.90 368V375M399.90 367V375M400.90 367V371M402.90 365V371M403.90 365V371M404.90 362V371M405.90 362V366M406.90 365V366M407.90 355V366M408.90 355V364M410.90 355V364M411.90 355V363M412.90 355V363M413.90 355V361M414.90 360V361M415.90 352V361M417.90 351V352M418.90 351V358M419.90 349V358M420.90 345V350M421.90 345V350M422.90 342V350M423.90 342V361M425.90 350V361M426.90 350V369M427.90 352V369M428.90 352V359M429.90 346V359M430.90 346V374M432.90 357V374M433.90 357V390M434.90 361V390M435.90 361V366M436.90 365V374M437.90 362V374M438.90 362V368M440.90 358V368M441.90 353V359M442.90 353V364M443.90 364V367M444.90 363V367M445.90 363V381M447.90 365V381M448.90 365V383M449.90 372V383M450.90 372V390M451.90 381V390M452.90 370V381M454.90 370V377M455.90 375V377M456.90 375V387M457.90 386V395M458.90 394V403M459.90 383V403M460.90 383V386M462.90 373V386M463.90 373V381M464.90 375V381M465.90 369V376M466.90 369V378M467.90 367V378M469.90 367V371M470.90 364V371M471.90 361V365M472.90 361V372M473.90 369V372M474.90 369V374M475.90 364V374M477.90 363V365M478.90 356V364M479.90 351V357M480.90 351V364M481.90 353V364M482.90 353V361M484.90 360V364M485.90 353V364M486.90 344V353M487.90 344V353M488.90 344V353M489.90 344V345M490.90 332V345M492.90 332V346M493.90 338V346M494.90 338V349M495.90 327V349M496.90 327V334M497.90 316V334M499.90 316V322M500.90 310V322M501.90 310V320M502.90 309V320M503.90 309V316M504.90 315V316M505.90 304V315M507.90 303V305M508.90 303V311M509.90 303V311M510.90 303V312M511.90 312V314M512.90 313V320M514.90 306V320M515.90 306V314M516.90 313V315M517.90 307V315M518.90 307V317M519.90 312V317M521.90 312V330M522.90 312V330M523.90 312V321M524.90 306V321M525.90 306V320M526.90 317V320M527.90 317V326M529.90 316V326M530.90 316V333M531.90 329V333M532.90 326V330M533.90 326V345M534.90 329V345M536.90 329V342M537.90 323V342M538.90 323V354M539.90 348V354M540.90 348V390M541.90 389V399M542.90 378V399M544.90 369V378M545.90 356V370M546.90 356V375M547.90 351V375M548.90 351V359M549.90 347V359M551.90 347V361M552.90 352V361M553.90 351V353M554.90 351V367M555.90 366V374M556.90 373V383M557.90 359V383M559.90 347V359M560.90 347V359M561.90 354V359M562.90 351V355M563.90 332V352M564.90 332V345M566.90 341V345M567.90 329V342M568.90 329V345M569.90 327V345M570.90 327V333M571.90 317V333M572.90 315V318M574.90 315V328M575.90 311V328M576.90 311V317M577.90 307V317M578.90 298V308M579.90 298V308M581.90 298V308M582.90 287V299M583.90 287V294M584.90 288V294M585.90 288V296M586.90 287V296M588.90 284V288M589.90 284V296M590.90 285V296M591.90 284V286M592.90 284V285M593.90 271V285M594.90 271V279M596.90 267V279M597.90 265V268M598.90 265V281M599.90 264V281M600.90 264V275M601.90 273V275M603.90 254V273M604.90 254V276M605.90 259V276M606.90 259V291M607.90 258V291M608.90 258V272M609.90 255V272M611.90 227V256M612.90 227V259M613.90 217V259M614.90 217V237M615.90 143V237M616.90 143V192M618.90 117V192M619.90 117V137M620.90 81V137M621.90 81V145M622.90 144V151M623.90 150V205M624.90 205V221M626.90 192V221M627.90 192V213M628.90 212V251M629.90 217V251M630.90 176V218M631.90 153V176M633.90 144V154M634.90 144V180M635.90 180V222M636.90 153V222M637.90 153V181M638.90 180V213M639.90 193V213M641.90 193V226M642.90 216V226M643.90 216V234M644.90 233V248M645.90 217V248M646.90 217V220M648.90 219V224M649.90 209V224M650.90 193V210M651.90 193V231M652.90 193V231M653.90 166V194M654.90 166V194M656.90 193V218M657.90 217V240M658.90 212V240M659.90 212V224M660.90 207V224M661.90 195V208M663.90 195V221M664.90 187V221M665.90 187V202M666.90 201V203M667.90 201V203M668.90 170V202M670.90 170V199M671.90 198V231M672.90 205V231M673.90 180V206M674.90 180V194M675.90 162V194M676.90 162V190M678.90 179V190M679.90 179V208M680.90 182V208M681.90 182V189M682.90 185V189M683.90 164V186M685.90 164V165M686.90 164V181M687.90 177V181M688.90 136V178M689.90 136V178M690.90 160V178M691.90 136V161M693.90 136V154M694.90 150V154M695.90 121V151M696.90 121V132M697.90 119V132M698.90 119V148M700.90 148V164M701.90 134V164M702.90 134V183M703.90 137V183M704.90 137V163M705.90 161V163M706.90 161V210M708.90 165V210M709.90 165V199M710.90 198V199M711.90 161V199M712.90 161V169M713.90 168V225M715.90 168V225M716.90 168V245M717.90 190V245M718.90 190V227M719.90 226V232M720.90 201V232M721.90 201V240M723.90 224V240M724.90 224V264M725.90 242V264M726.90 233V243M727.90 201V234M728.90 201V214M730.90 213V244M731.90 220V244M732.90 220V253M733.90 218V253M734.90 218V226M735.90 225V233M737.90 207V233M738.90 207V227M739.90 227V269M740.90 268V272M741.90 245V272M742.90 245V268M743.90 250V268M745.90 248V251M746.90 236V249M747.90 236V265M748.90 265V278M749.90 258V278M750.90 254V259M752.90 254V275M753.90 253V275M754.90 238V254M755.90 238V273M756.90 233V273M757.90 233V251M758.90 223V251M760.90 223V243M761.90 242V254M762.90 253V276M763.90 266V276M764.90 266V281M765.90 280V292M767.90 291V297M768.90 276V297M769.90 269V276M770.90 269V282M771.90 258V282M772.90 258V283M773.90 269V283M775.90 269V275M776.90 274V287M777.90 268V287M778.90 268V300M779.90 295V300M780.90 293V296M782.90 293V321M783.90 305V321M784.90 305V308M785.90 290V308M786.90 288V290M787.90 288V294M788.90 272V294M790.90 272V294M791.90 262V294M792.90 261V263M793.90 244V262M794.90 244V272M795.90 261V272M797.90 260V262M798.90 260V280M799.90 279V291M800.90 268V291M801.90 268V283M802.90 266V283M803.90 266V279M805.90 261V279M806.90 261V284M807.90 267V284M808.90 267V276M809.90 258V276M810.90 256V259M812.90 253V257M813.90 253V267M814.90 251V267M815.90 251V257M816.90 239V257M817.90 239V268M819.90 253V268M820.90 253V275M821.90 264V275M822.90 264V278M823.90 258V278M824.90 258V283M825.90 282V319M827.90 318V319M828.90 318V320M829.90 292V320M830.90 292V325M831.90 285V325M832.90 285V315M834.90 293V315M835.90 290V294M836.90 290V313M837.90 312V320M838.90 319V332M839.90 331V338M840.90 315V338M842.90 315V341M843.90 338V341M844.90 338V354M845.90 339V354M846.90 318V340M847.90 318V339M849.90 317V339M850.90 317V318M851.90 317V338M852.90 313V338M853.90 313V328M854.90 325V328M855.90 304V326M857.90 304V317M858.90 316V323M859.90 299V323M860.90 299V322M861.90 322V341M862.90 325V341M864.90 325V332M865.90 320V332M866.90 312V321M867.90 312V329M868.90 321V329M869.90 306V322M870.90 306V314M872.90 298V314M873.90 295V299M874.90 295V307M875.90 290V307M876.90 290V307M877.90 293V307M879.90 293V307M880.90 306V313M881.90 292V313M882.90 292V317M883.90 308V317M884.90 308V326M886.90 309V326M887.90 309V334M888.90 310V334M889.90 310V315M890.90 314V319M891.90 299V319M892.90 299V308M894.90 307V315M895.90 301V315M896.90 301V317M897.90 316V326M898.90 325V329M899.90 312V329M901.90 312V324M902.90 316V324M903.90 316V329M904.90 323V329M905.90 310V324M906.90 310V321M907.90 303V321M909.90 303V306M910.90 301V306M911.90 301V317M912.90 314V317M913.90 314V334M914.90 316V334M916.90 316V334M917.90 333V371M918.90 348V371M919.90 348V369M920.90 368V378M921.90 352V378M922.90 352V358M924.90 344V358M925.90 344V362M926.90 346V362M927.90 345V347M928.90 337V346M929.90 337V342M931.90 331V342M932.90 315V332M933.90 303V315M934.90 303V311M935.90 305V311M936.90 305V306M937.90 305V314M939.90 306V314M940.90 296V307M941.90 296V303M942.90 302V312M943.90 309V312M944.90 309V329M946.90 309V329M947.90 309V319M948.90 319V331M949.90 326V331M950.90 326V343M951.90 329V343M953.90 329V346M954.90 333V346M955.90 333V349M956.90 348V371M957.90 351V371M958.90 347V352M959.90 343V348M961.90 343V355M962.90 349V355M963.90 349V362M964.90 348V362M965.90 348V359M966.90 344V359M968.90 344V357M969.90 347V357M970.90 341V348M971.90 341V354M972.90 352V354M973.90 338V353M974.90 338V349M976.90 341V349M977.90 341V371M978.90 357V371M979.90 355V357M980.90 354V356M981.90 341V355M983.90 341V356M984.90 351V356M985.90 351V367M986.90 366V371M987.90 354V371M988.90 354V362M989.90 348V362M991.90 348V362M992.90 353V362M993.90 353V355M994.90 345V355M995.90 345V361M996.90 360V365M998.90 355V365M999.90 355V370M1000.90 361V370M1001.90 354V362M1002.90 354V360M1003.90 351V360M1004.90 350V352M1006.90 345V351M1007.90 345V356M1008.90 345V356M1009.90 345V346M1010.90 337V346M1011.90 329V338M1013.90 323V330M1014.90 323V335M1015.90 332V335M1016.90 332V339M1017.90 324V339M1018.90 324V327M1019.90 322V327M1021.90 322V331M1022.90 321V331M1023.90 320V322M1024.90 315V321M1025.90 309V315M1026.90 305V310M1028.90 305V314M1029.90 309V314M1030.90 309V317M1031.90 306V317M1032.90 303V307M1033.90 302V304M1035.90 293V303M1036.90 293V303M1037.90 302V307M1038.90 301V307M1039.90 301V306M1040.90 305V314M1041.90 306V314M1043.90 306V317M1044.90 310V317M1045.90 310V320M1046.90 319V323M1047.90 312V323M1048.90 312V317M1050.90 306V317M1051.90 306V316M1052.90 307V316M1053.90 297V308M1054.90 283V297M1055.90 280V284M1056.90 280V294M1058.90 290V294M1059.90 289V291M1060.90 280V290M1061.90 277V280M1062.90 263V278M1063.90 263V277M1065.90 261V277M1066.90 261V266M1067.90 265V267M1068.90 257V267M1069.90 257V268M1070.90 267V270M1071.90 269V282M1073.90 265V282M1074.90 265V275M1075.90 274V276M1076.90 259V276M1077.90 259V276M1078.90 275V279M1080.90 278V296M1081.90 295V316M1082.90 298V316M1083.90 295V299M1084.90 289V296M1085.90 289V302M1086.90 301V306M1088.90 293V306M1089.90 278V294M1090.90 278V290M1091.90 284V290M1092.90 283V285M1093.90 266V284M1095.90 266V289M1096.90 286V289M1097.90 286V300M1098.90 291V300M1099.90 291V297M1100.90 296V308M1102.90 295V308M1103.90 295V301M1104.90 298V301M1105.90 298V311M1106.90 310V335M1107.90 313V335M1108.90 313V327M1110.90 315V327M1111.90 313V316M1112.90 313V331M1113.90 330V332M1114.90 331V346M1115.90 321V346M1117.90 321V326M1118.90 325V336M1119.90 318V336M1120.90 318V337M1121.90 323V337M1122.90 323V329M1123.90 328V334M1125.90 319V334M1126.90 310V320M1127.90 310V323M1128.90 322V345M1129.90 332V345M1130.90 332V355M1132.90 348V355M1133.90 348V361M1134.90 360V361M1135.90 355V361M1136.90 355V368M1137.90 351V368M1138.90 344V352M1140.90 340V345M1141.90 330V341M1142.90 330V349M1143.90 329V349M1144.90 329V340M1145.90 325V340M1147.90 325V337M1148.90 336V343M1149.90 336V343M1150.90 336V355M1151.90 348V355M1152.90 339V349M1153.90 339V349M1155.90 335V349M1156.90 335V341M1157.90 330V341M1158.90 329V331M1159.90 329V345M1160.90 343V345M1162.90 343V346M1163.90 333V346M1164.90 333V338M1165.90 333V338M1166.90 321V334M1167.90 321V337M1169.90 328V337M1170.90 323V329M1171.90 322V324M1172.90 312V323M1173.90 312V324M1174.90 323V331M1175.90 330V345M1177.90 334V345M1178.90 334V336M1179.90 335V336M1180.90 324V335M1181.90 324V327M1182.90 325V327M1184.90 315V326M1185.90 315V328M1186.90 315V328M1187.90 315V316M1188.90 315V323M1189.90 315V323M1190.90 315V325M1192.90 322V325M1193.90 321V323M1194.90 321V331M1195.90 317V331M1196.90 317V319M1197.90 318V321M1199.90 320V325M1200.90 312V325M1201.90 312V322M1202.90 318V322M1203.90 318V323M1204.90 319V323M1205.90 319V326M1207.90 311V326M1208.90 311V316M1209.90 306V316M1210.90 299V306M1211.90 295V300M1212.90 295V306M1214.90 301V306M1215.90 301V309M1216.90 301V309M1217.90 300V302M1218.90 295V301M1219.90 295V307M1220.90 290V307M1222.90 290V296M1223.90 284V296M1224.90 284V287M1225.90 275V287M1226.90 275V288M1227.90 287V290M1229.90 278V290M1230.90 278V287M1231.90 274V287M1232.90 274V285M1233.90 284V285M1234.90 284V302M1235.90 281V302M1237.90 281V294M1238.90 294V304M1239.90 294V304M1240.90 294V299M1241.90 298V302M1242.90 292V302M1244.90 292V309M1245.90 304V309M1246.90 304V317M1247.90 316V317M1248.90 316V319M1249.90 310V319M1251.90 310V316M1252.90 315V323M1253.90 313V323M1254.90 313V322M1255.90 310V322M1256.90 310V317M1257.90 316V326M1259.90 319V326M1260.90 319V320M1261.90 310V320M1262.90 310V323M1263.90 322V323M1264.90 323V330M1266.90 324V330M1267.90 312V325M1268.90 312V323M1269.90 309V323M1270.90 309V323M1271.90 323V339M1272.90 338V348M1274.90 336V348M1275.90 336V341M1276.90 330V341M1277.90 330V339M1278.90 329V339M1279.90 324V330M1281.90 316V325M1282.90 314V317M1283.90 310V315M1284.90 310V317M1285.90 311V317M1286.90 311V314M1287.90 304V314M1289.90 304V308M1290.90 307V314M1291.90 307V314M1292.90 307V309M1293.90 308V311M1294.90 300V311M1296.90 295V300M1297.90 295V305M1298.90 303V305M1299.90 294V304M1300.90 294V302M1301.90 301V305M1302.90 304V311M1304.90 305V311M1305.90 305V311M1306.90 310V316M1307.90 306V316M1308.90 306V317M1309.90 310V317M1311.90 310V320M1312.90 318V320M1313.90 318V330M1314.90 318V330M1315.90 318V327M1316.90 326V335M1318.90 330V335M1319.90 330V342M1320.90 341V348M1321.90 347V351M1322.90 347V351M1323.90 347V355M1324.90 347V355M1326.90 344V348M1327.90 332V345M1328.90 324V333M1329.90 321V325M1330.90 321V334M1331.90 333V339M1333.90 326V339M1334.90 326V343M1335.90 339V343M1336.90 338V340M1337.90 338V352M1338.90 345V352M1339.90 341V346M1341.90 329V342M1342.90 329V344M1343.90 335V344M1344.90 335V348M1345.90 346V348M1346.90 346V363M1348.90 344V363M1349.90 344V363M1350.90 362V375M1351.90 375V386M1352.90 371V386M1353.90 371V373M1354.90 366V373M1356.90 364V367M1357.90 364V372M1358.90 368V372M1359.90 368V369M1360.90 359V369M1361.90 359V363M1363.90 358V363M1364.90 355V359M1365.90 355V365M1366.90 364V370M1367.90 369V378M1368.90 368V378M1369.90 350V369M1371.90 350V363M1372.90 339V363M1373.90 339V343M1374.90 341V343M1375.90 326V342M1376.90 326V334M1378.90 333V349M1379.90 349V357M1380.90 356V361M1381.90 360V365M1382.90 355V365M1383.90 354V355M1385.90 353V355M1386.90 349V354M1387.90 349V360M1388.90 350V360M1389.90 350V360M1390.90 359V363M1391.90 362V377M1393.90 360V377M1394.90 360V366M1395.90 365V366M1396.90 354V366M1397.90 354V355M1398.90 349V355M1400.90 349V360M1401.90 357V360M1402.90 357V365M1403.90 364V374M1404.90 362V374M1405.90 362V370M1406.90 359V370M1408.90 359V375M1409.90 362V375M1410.90 359V363M1411.90 359V366M1412.90 356V366M1413.90 356V367M1415.90 362V367M1416.90 362V371M1417.90 365V371M1418.90 365V369M1419.90 368V371M1420.90 360V371M1421.90 360V365M1423.90 364V371M1424.90 365V371M1425.90 365V375M1426.90 361V375M1427.90 361V368M1428.90 367V368M1430.90 357V367M1431.90 357V363M1432.90 362V367M1433.90 360V367M1434.90 360V371M1435.90 362V371M1436.90 362V366M1438.90 365V366M1439.90 357V366M1440.90 357V360M1441.90 346V360M1442.90 346V356M1443.90 350V356M1445.90 345V351M1446.90 345V352M1447.90 341V352M1448.90 334V342M1449.90 324V335M1450.90 324V339M1451.90 329V339M1453.90 329V330M1454.90 319V329M1455.90 319V335M1456.90 329V335M1457.90 329V339M1458.90 338V347M1460.90 338V347M1461.90 338V343M1462.90 342V351M1463.90 346V351M1464.90 346V355M1465.90 350V355M1467.90 350V352M1468.90 351V358M1469.90 348V358M1470.90 348V352M1471.90 349V352M1472.90 349V358M1473.90 353V358M1475.90 353V355M1476.90 354V356M1477.90 346V356M1478.90 346V354M1479.90 353V355M1480.90 354V355M1482.90 349V355M1483.90 349V358M1484.90 357V358M1485.90 357V369M1486.90 357V369M1487.90 357V373M1488.90 367V373M1490.90 367V377M1491.90 373V377M1492.90 373V387M1493.90 373V387M1494.90 373V381M1495.90 376V381M1497.90 373V377M1498.90 373V383M1499.90 378V383M1500.90 377V379M1501.90 377V379M1502.90 368V379M1503.90 366V369M1505.90 366V368M1506.90 367V368M1507.90 360V368M1508.90 360V371M1509.90 359V371M1510.90 359V366M1512.90 357V366M1513.90 357V359M1514.90 354V359M1515.90 354V364M1516.90 364V409M1517.90 376V409M1518.90 376V428M1520.90 400V428M1521.90 400V434M1522.90 408V434M1523.90 397V409M1524.90 393V398M1525.90 387V394M1527.90 387V402M1528.90 390V402M1529.90 390V392M1530.90 391V399M1531.90 386V399M1532.90 386V394M1534.90 393V396M1535.90 395V409M1536.90 408V410M1537.90 409V425M1538.90 410V425M1539.90 410V420M1540.90 419V434M1542.90 413V434M1543.90 413V418M1544.90 408V418M1545.90 405V409M1546.90 395V406M1547.90 395V406M1549.90 398V406M1550.90 396V399M1551.90 396V405M1552.90 394V405M1553.90 394V400M1554.90 399V402M1555.90 402V410M1557.90 409V412M1558.90 411V416M1559.90 402V416M1560.90 402V407M1561.90 406V417M1562.90 407V417M1564.90 405V408M1565.90 397V405M1566.90 397V401M1567.90 391V401M1568.90 391V402M1569.90 390V402M1570.90 375V391M1572.90 339V376M1573.90 339V386M1574.90 348V386M1575.90 348V361M1576.90 336V361M1577.90 336V377M1579.90 331V377M1580.90 331V385M1581.90 384V398M1582.90 378V398M1583.90 378V396M1584.90 384V396M1585.90 384V398M1587.90 390V398M1588.90 381V391M1589.90 380V382M1590.90 375V381M1591.90 375V388M1592.90 374V388M1594.90 374V386M1595.90 372V386M1596.90 372V382M1597.90 381V388M1598.90 385V388M1599.90 377V386M1600.90 377V385M1602.90 375V385M1603.90 375V382M1604.90 381V388M1605.90 381V388M1606.90 381V389M1607.90 375V389M1609.90 365V376M1610.90 365V376M1611.90 374V376M1612.90 374V386M1613.90 378V386M1614.90 378V390M1616.90 389V391M1617.90 390V398M1618.90 397V398M1619.90 397V402M1620.90 393V402M1621.90 393V395M1622.90 394V400M1624.90 393V400M1625.90 393V401M1626.90 394V401M1627.90 390V395M1628.90 390V395M1629.90 387V395M1631.90 387V388M1632.90 387V390M1633.90 387V390M1634.90 387V397M1635.90 385V397M1636.90 385V394M1637.90 381V394M1639.90 381V389M1640.90 388V402M1641.90 391V402M1642.90 391V398M1643.90 397V398M1644.90 388V398M1646.90 387V389M1647.90 387V395M1648.90 384V395M1649.90 384V395M1650.90 386V395M1651.90 386V398M1652.90 387V398M1654.90 381V388M1655.90 375V382M1656.90 375V388M1657.90 387V392M1658.90 391V398M1659.90 386V398M1661.90 386V396M1662.90 395V397M1663.90 396V407M1664.90 397V407M1665.90 397V402M1666.90 396V402M1667.90 396V404M1669.90 403V405M1670.90 405V416M1671.90 415V423M1672.90 413V423M1673.90 413V424M1674.90 419V424M1676.90 419V426M1677.90 413V426M1678.90 405V414M1679.90 394V405M1680.90 394V404M1681.90 400V404M1683.90 400V408M1684.90 402V408M1685.90 402V407M1686.90 402V407M1687.90 402V411M1688.90 406V411M1689.90 406V408M1691.90 407V413M1692.90 406V413M1693.90 406V411M1694.90 402V411M1695.90 402V414M1696.90 411V414M1698.90 409V412M1699.90 409V416M1700.90 408V416M1701.90 408V416M1702.90 411V416M1703.90 410V412M1704.90 410V419M1706.90 414V419M1707.90 408V415M1708.90 408V416M1709.90 408V416M1710.90 408V414M1711.90 412V414M1713.90 408V413M1714.90 408V414M1715.90 413V414M1716.90 413V423M1717.90 415V423M1718.90 415V425M1719.90 421V425M1721.90 421V423M1722.90 422V432M1723.90 420V432M1724.90 420V423M1725.90 415V423M1726.90 413V416M1728.90 410V414M1729.90 410V423M1730.90 422V424M1731.90 412V424M1732.90 412V422M1733.90 418V422M1734.90 417V419M1736.90 417V427M1737.90 407V427M1738.90 407V413M1739.90 400V413M1740.90 400V407M1741.90 393V407M1743.90 393V410M1744.90 406V410M1745.90 406V408M1746.90 407V410M1747.90 400V410M1748.90 400V401M1750.90 398V401M1751.90 393V399M1752.90 393V403M1753.90 386V403M1754.90 386V396M1755.90 395V399M1756.90 377V399M1758.90 377V393M1759.90 385V393M1760.90 382V386M1761.90 382V394M1762.90 379V394M1763.90 379V392M1765.90 391V394M1766.90 375V394M1767.90 375V381M1768.90 380V393M1769.90 379V393M1770.90 379V394M1771.90 374V394M1773.90 374V378M1774.90 368V378M1775.90 368V375M1776.90 361V375M1777.90 361V372M1778.90 330V372M1780.90 325V330M1781.90 302V325M1782.90 302V308M1783.90 262V308" fill="none" stroke="#000" stroke-width="1.8"/>
<path d="M618.9 83.4L1841 397" stroke="#55a0b9" stroke-width="2.3" fill="none"/>
<path d="M966 255.4H1841M966 273.5H1841M1256.5 428.5H1841M1256.5 435.4H1841" stroke="#55a0b9" stroke-width="2.3" fill="none"/>
<rect x="1841.5" y="395.5" width="36" height="11.0" fill="#eef1dc" stroke="#a09a66" stroke-width="1"/>
<text x="1859.5" y="405.0" font-family="Liberation Mono" font-size="11.2" fill="#7a9a50" text-anchor="middle">65.51</text>
<rect x="1841.5" y="369.5" width="36" height="13.0" fill="#eef1dc" stroke="#8e9a58" stroke-width="1"/>
<text x="1859.5" y="380.0" font-family="Liberation Mono" font-size="11.2" fill="#7a9a50" text-anchor="middle">70.25</text>
<rect x="1841.5" y="382.5" width="36" height="15.0" fill="#eef1dc" stroke="#b05a48" stroke-width="1"/>
<text x="1859.5" y="394.0" font-family="Liberation Mono" font-size="11.2" fill="#7a9a50" text-anchor="middle">67.61</text>
<rect x="1841.5" y="262.5" width="36" height="15.0" fill="#eef1dc" stroke="#303030" stroke-width="1"/>
<text x="1859.5" y="274.0" font-family="Liberation Mono" font-size="11.2" fill="#7a9a50" text-anchor="middle">93.05</text>
<g fill="none" stroke="#8e8e8e" stroke-width="1.3" stroke-linejoin="round"><path d="M15.3 35.4H22.5L19.8 31.6H18.0ZM15.3 46.4H22.5L19.8 50.2H18.0ZM13.5 37.4V44.4L9.4 41.6V40.2ZM24.3 37.4V44.4L28.4 41.6V40.2Z"/><circle cx="18.9" cy="40.9" r="2"/></g>
<text x="32.5" y="41" font-family="Liberation Mono" font-size="11.2" xml:space="preserve"><tspan fill="#3a3a3a">oilbrent.f:</tspan><tspan fill="#4f7d38"> 93.05</tspan><tspan fill="#c05050"> EMA:</tspan><tspan fill="#4f7d38"> 67.61</tspan><tspan fill="#f0a060"> EMA:</tspan><tspan fill="#4f7d38"> 67.79</tspan><tspan fill="#8a9a50"> EMA:</tspan><tspan fill="#4f7d38"> 70.25</tspan><tspan fill="#6a94d0"> SMA:</tspan><tspan fill="#4f7d38"> 68.11</tspan><tspan fill="#a09a80"> SMA:</tspan><tspan fill="#4f7d38"> 65.51</tspan><tspan fill="#40b080"> SMA:</tspan><tspan fill="#4f7d38"> 66.71</tspan></text>
<rect x="4" y="676" width="1886" height="4" fill="#2a3c59"/><rect x="4" y="676" width="1886" height="1" fill="#1f2d47"/><rect x="4" y="679" width="1886" height="1" fill="#1f2d47"/>
<path d="M7 703.5H1871M7 753.5H1871M7 804.5H1871" stroke="#d2d2d2" stroke-width="1" stroke-dasharray="3 3" fill="none"/>
<path d="M54.5 703V805M101.5 703V818M152.5 703V818M201.5 703V818M234.5 703V805M319.5 703V805M369.5 703V818M418.5 703V818M467.5 703V818M516.5 703V818M613.5 703V805M662.5 703V818M711.5 703V818M761.5 703V818M810.5 703V818M905.5 703V805M952.5 703V818M1003.5 703V818M1053.5 703V818M1101.5 703V818M1197.5 703V805M1245.5 703V818M1293.5 703V818M1344.5 703V818M1394.5 703V818M1489.5 703V805M1536.5 703V818M1585.5 703V818M1634.5 703V818M1684.5 703V818M1764.5 703V805M1778.5 703V805" stroke="#d2d2d2" stroke-width="1" stroke-dasharray="3 3" fill="none"/>
<path d="M7.5 703V818M274.5 703V818M567.5 703V818M858.5 703V818M1149.5 703V818M1441.5 703V818M1732.5 703V805" stroke="#646464" stroke-width="1" stroke-dasharray="3 3" fill="none"/>
<text x="1884.5" y="707.3" font-family="Liberation Mono" font-size="11.2" fill="#686868" text-anchor="end">10</text>
<text x="1884.5" y="757.1" font-family="Liberation Mono" font-size="11.2" fill="#686868" text-anchor="end">0</text>
<text x="1884.5" y="807.8" font-family="Liberation Mono" font-size="11.2" fill="#686868" text-anchor="end">-10</text>
<text x="9.9" y="814" font-family="Liberation Mono" font-size="11.5" fill="#686868">4-lut-2020</text>
<text x="103.9" y="814" font-family="Liberation Mono" font-size="11.5" fill="#686868">1-cze</text>
<text x="155.1" y="814" font-family="Liberation Mono" font-size="11.5" fill="#686868">3-sie</text>
<text x="203.9" y="814" font-family="Liberation Mono" font-size="11.5" fill="#686868">1-paź</text>
<text x="276.9" y="814" font-family="Liberation Mono" font-size="11.5" fill="#686868">4-sty-2021</text>
<text x="371.5" y="814" font-family="Liberation Mono" font-size="11.5" fill="#686868">3-maj</text>
<text x="420.9" y="814" font-family="Liberation Mono" font-size="11.5" fill="#686868">1-lip</text>
<text x="469.9" y="814" font-family="Liberation Mono" font-size="11.5" fill="#686868">1-wrz</text>
<text x="519.0" y="814" font-family="Liberation Mono" font-size="11.5" fill="#686868">1-lis</text>
<text x="570.0" y="814" font-family="Liberation Mono" font-size="11.5" fill="#686868">3-sty-2022</text>
<text x="665.0" y="814" font-family="Liberation Mono" font-size="11.5" fill="#686868">2-maj</text>
<text x="714.0" y="814" font-family="Liberation Mono" font-size="11.5" fill="#686868">1-lip</text>
<text x="764.0" y="814" font-family="Liberation Mono" font-size="11.5" fill="#686868">1-wrz</text>
<text x="812.9" y="814" font-family="Liberation Mono" font-size="11.5" fill="#686868">1-lis</text>
<text x="861.0" y="814" font-family="Liberation Mono" font-size="11.5" fill="#686868">3-sty-2023</text>
<text x="955.0" y="814" font-family="Liberation Mono" font-size="11.5" fill="#686868">1-maj</text>
<text x="1005.9" y="814" font-family="Liberation Mono" font-size="11.5" fill="#686868">3-lip</text>
<text x="1056.0" y="814" font-family="Liberation Mono" font-size="11.5" fill="#686868">1-wrz</text>
<text x="1104.0" y="814" font-family="Liberation Mono" font-size="11.5" fill="#686868">1-lis</text>
<text x="1152.0" y="814" font-family="Liberation Mono" font-size="11.5" fill="#686868">2-sty-2024</text>
<text x="1248.1" y="814" font-family="Liberation Mono" font-size="11.5" fill="#686868">1-maj</text>
<text x="1296.0" y="814" font-family="Liberation Mono" font-size="11.5" fill="#686868">1-lip</text>
<text x="1347.2" y="814" font-family="Liberation Mono" font-size="11.5" fill="#686868">2-wrz</text>
<text x="1396.8" y="814" font-family="Liberation Mono" font-size="11.5" fill="#686868">1-lis</text>
<text x="1443.9" y="814" font-family="Liberation Mono" font-size="11.5" fill="#686868">2-sty-2025</text>
<text x="1538.8" y="814" font-family="Liberation Mono" font-size="11.5" fill="#686868">1-maj</text>
<text x="1588.0" y="814" font-family="Liberation Mono" font-size="11.5" fill="#686868">1-lip</text>
<text x="1637.1" y="814" font-family="Liberation Mono" font-size="11.5" fill="#686868">1-wrz</text>
<text x="1687.1" y="814" font-family="Liberation Mono" font-size="11.5" fill="#686868">3-lis</text>
<path d="M7.5 753.5V756.2M8.5 753.5V757.0M9.5 753.5V757.0M10.5 753.5V756.9M11.5 753.5V755.8M12.5 753.5V755.6M13.5 753.5V755.7M15.5 753.5V754.6M16.5 753.5V753.9M18.5 753.5V752.3M19.5 753.5V751.7M20.5 753.5V751.0M22.5 753.5V750.1M23.5 753.5V750.5M24.5 753.5V750.2M25.5 753.5V750.8M27.5 753.5V754.9M28.5 753.5V755.2M30.5 753.5V755.0M31.5 753.5V754.3M32.5 753.5V754.7M33.5 753.5V756.6M34.5 753.5V755.7M35.5 753.5V759.0M37.5 753.5V762.8M38.5 753.5V763.5M39.5 753.5V761.7M40.5 753.5V760.9M41.5 753.5V761.2M42.5 753.5V763.2M43.5 753.5V760.9M45.5 753.5V759.6M46.5 753.5V760.0M47.5 753.5V759.0M48.5 753.5V758.4M49.5 753.5V755.8M50.5 753.5V755.1M55.5 753.5V751.7M56.5 753.5V748.0M57.5 753.5V747.9M58.5 753.5V747.4M60.5 753.5V745.3M61.5 753.5V745.7M62.5 753.5V744.4M63.5 753.5V745.2M64.5 753.5V746.6M65.5 753.5V748.5M67.5 753.5V749.6M68.5 753.5V750.7M69.5 753.5V754.3M76.5 753.5V752.6M77.5 753.5V752.3M78.5 753.5V751.5M79.5 753.5V750.1M80.5 753.5V749.2M82.5 753.5V747.6M83.5 753.5V747.5M84.5 753.5V747.2M85.5 753.5V747.9M86.5 753.5V748.5M87.5 753.5V748.5M89.5 753.5V749.3M90.5 753.5V748.9M91.5 753.5V747.8M92.5 753.5V748.1M93.5 753.5V747.8M94.5 753.5V748.2M95.5 753.5V748.8M97.5 753.5V748.7M98.5 753.5V749.4M99.5 753.5V749.5M100.5 753.5V749.7M101.5 753.5V751.2M102.5 753.5V751.4M104.5 753.5V751.7M105.5 753.5V750.8M106.5 753.5V750.8M107.5 753.5V750.5M108.5 753.5V750.0M109.5 753.5V751.2M110.5 753.5V752.2M113.5 753.5V754.3M114.5 753.5V754.1M123.5 753.5V754.3M124.5 753.5V754.2M125.5 753.5V754.6M127.5 753.5V754.2M128.5 753.5V753.9M129.5 753.5V754.1M130.5 753.5V753.9M131.5 753.5V754.1M132.5 753.5V754.2M134.5 753.5V754.5M135.5 753.5V755.0M136.5 753.5V754.6M137.5 753.5V754.7M138.5 753.5V754.4M139.5 753.5V754.1M140.5 753.5V754.4M142.5 753.5V754.3M143.5 753.5V753.9M144.5 753.5V753.9M146.5 753.5V754.0M147.5 753.5V753.9M149.5 753.5V754.3M150.5 753.5V755.0M151.5 753.5V754.5M152.5 753.5V754.4M166.5 753.5V753.8M167.5 753.5V754.2M168.5 753.5V754.0M169.5 753.5V754.4M171.5 753.5V754.2M172.5 753.5V754.1M177.5 753.5V753.9M180.5 753.5V754.0M181.5 753.5V754.7M182.5 753.5V756.3M183.5 753.5V756.1M184.5 753.5V756.7M186.5 753.5V756.5M187.5 753.5V756.4M188.5 753.5V756.5M189.5 753.5V755.9M190.5 753.5V754.7M191.5 753.5V754.3M195.5 753.5V752.8M196.5 753.5V752.5M197.5 753.5V752.7M202.5 753.5V754.3M205.5 753.5V752.7M206.5 753.5V752.7M207.5 753.5V752.5M209.5 753.5V752.3M210.5 753.5V751.9M211.5 753.5V752.2M212.5 753.5V751.9M213.5 753.5V751.9M214.5 753.5V752.2M216.5 753.5V752.1M217.5 753.5V752.5M218.5 753.5V752.7M221.5 753.5V753.9M224.5 753.5V754.7M225.5 753.5V755.0M226.5 753.5V755.0M227.5 753.5V755.8M228.5 753.5V755.1M229.5 753.5V754.1M232.5 753.5V752.5M234.5 753.5V752.0M235.5 753.5V750.7M236.5 753.5V750.2M238.5 753.5V750.2M239.5 753.5V750.3M240.5 753.5V750.9M241.5 753.5V751.0M242.5 753.5V750.7M243.5 753.5V750.9M244.5 753.5V750.6M246.5 753.5V750.0M247.5 753.5V750.4M248.5 753.5V750.6M249.5 753.5V751.3M250.5 753.5V751.9M251.5 753.5V751.9M253.5 753.5V751.8M254.5 753.5V752.2M255.5 753.5V752.1M256.5 753.5V752.6M257.5 753.5V752.4M258.5 753.5V752.7M259.5 753.5V752.5M261.5 753.5V752.4M262.5 753.5V752.7M263.5 753.5V752.6M266.5 753.5V754.1M269.5 753.5V754.1M270.5 753.5V753.9M272.5 753.5V754.1M276.5 753.5V754.2M279.5 753.5V752.5M280.5 753.5V752.6M281.5 753.5V752.4M283.5 753.5V752.1M284.5 753.5V752.5M285.5 753.5V752.1M286.5 753.5V752.3M289.5 753.5V754.0M291.5 753.5V754.2M292.5 753.5V754.6M293.5 753.5V754.3M294.5 753.5V754.2M295.5 753.5V754.1M296.5 753.5V753.9M298.5 753.5V754.4M299.5 753.5V754.1M302.5 753.5V751.8M303.5 753.5V751.9M305.5 753.5V751.5M306.5 753.5V751.8M307.5 753.5V751.8M308.5 753.5V751.8M309.5 753.5V751.4M310.5 753.5V751.8M311.5 753.5V751.5M313.5 753.5V752.1M314.5 753.5V751.8M315.5 753.5V752.0M316.5 753.5V751.9M317.5 753.5V751.8M318.5 753.5V752.6M321.5 753.5V754.5M322.5 753.5V754.3M323.5 753.5V754.0M328.5 753.5V751.9M329.5 753.5V752.1M330.5 753.5V752.2M332.5 753.5V754.0M333.5 753.5V754.6M335.5 753.5V754.6M336.5 753.5V755.1M337.5 753.5V757.1M338.5 753.5V757.7M339.5 753.5V759.0M340.5 753.5V758.3M341.5 753.5V757.6M343.5 753.5V756.8M344.5 753.5V757.0M345.5 753.5V756.3M346.5 753.5V756.6M347.5 753.5V756.8M348.5 753.5V755.8M350.5 753.5V755.8M351.5 753.5V755.3M352.5 753.5V754.8M353.5 753.5V754.7M356.5 753.5V752.1M358.5 753.5V751.5M359.5 753.5V751.1M360.5 753.5V751.4M361.5 753.5V752.1M363.5 753.5V752.7M365.5 753.5V752.4M366.5 753.5V752.4M367.5 753.5V751.9M368.5 753.5V752.4M369.5 753.5V752.5M370.5 753.5V752.1M372.5 753.5V752.3M373.5 753.5V752.6M374.5 753.5V752.1M375.5 753.5V752.3M376.5 753.5V752.5M377.5 753.5V752.2M384.5 753.5V754.0M385.5 753.5V755.1M387.5 753.5V754.7M388.5 753.5V754.6M389.5 753.5V754.1M392.5 753.5V752.3M393.5 753.5V752.5M395.5 753.5V752.1M396.5 753.5V752.2M397.5 753.5V751.9M398.5 753.5V752.1M399.5 753.5V752.0M400.5 753.5V752.2M402.5 753.5V752.1M403.5 753.5V752.5M404.5 753.5V752.3M405.5 753.5V752.5M406.5 753.5V752.7M407.5 753.5V752.2M408.5 753.5V752.6M410.5 753.5V752.4M412.5 753.5V752.7M420.5 753.5V752.7M422.5 753.5V752.7M423.5 753.5V753.8M425.5 753.5V753.9M426.5 753.5V755.2M427.5 753.5V754.9M428.5 753.5V755.1M429.5 753.5V754.4M430.5 753.5V755.7M432.5 753.5V755.4M433.5 753.5V757.4M434.5 753.5V756.5M435.5 753.5V756.1M436.5 753.5V756.3M437.5 753.5V755.4M438.5 753.5V755.2M440.5 753.5V754.3M445.5 753.5V754.8M447.5 753.5V754.4M448.5 753.5V755.2M449.5 753.5V754.9M450.5 753.5V755.8M451.5 753.5V755.6M452.5 753.5V754.7M454.5 753.5V754.4M455.5 753.5V754.0M456.5 753.5V754.5M457.5 753.5V755.2M458.5 753.5V756.1M459.5 753.5V755.2M460.5 753.5V754.6M464.5 753.5V752.3M465.5 753.5V751.4M466.5 753.5V751.6M467.5 753.5V751.0M469.5 753.5V750.9M470.5 753.5V750.5M471.5 753.5V750.3M472.5 753.5V750.9M473.5 753.5V751.3M474.5 753.5V751.9M475.5 753.5V751.7M477.5 753.5V751.6M478.5 753.5V751.2M479.5 753.5V750.7M480.5 753.5V751.3M481.5 753.5V751.2M482.5 753.5V751.7M484.5 753.5V752.3M485.5 753.5V752.1M486.5 753.5V751.5M487.5 753.5V751.8M488.5 753.5V751.5M489.5 753.5V751.5M490.5 753.5V750.8M492.5 753.5V751.4M493.5 753.5V751.5M494.5 753.5V752.4M495.5 753.5V751.7M496.5 753.5V751.8M497.5 753.5V750.8M499.5 753.5V750.7M500.5 753.5V750.2M501.5 753.5V750.7M502.5 753.5V750.6M503.5 753.5V751.2M504.5 753.5V751.7M505.5 753.5V751.5M507.5 753.5V751.6M508.5 753.5V752.3M509.5 753.5V752.4M511.5 753.5V754.0M512.5 753.5V754.9M514.5 753.5V754.7M515.5 753.5V755.1M516.5 753.5V755.4M517.5 753.5V755.1M518.5 753.5V755.6M519.5 753.5V755.6M521.5 753.5V756.7M522.5 753.5V756.1M523.5 753.5V756.2M524.5 753.5V755.2M525.5 753.5V755.5M526.5 753.5V755.5M527.5 753.5V755.9M529.5 753.5V755.5M530.5 753.5V756.3M531.5 753.5V756.5M532.5 753.5V756.2M533.5 753.5V757.2M534.5 753.5V756.5M536.5 753.5V756.8M537.5 753.5V755.6M538.5 753.5V756.7M539.5 753.5V756.9M540.5 753.5V759.6M541.5 753.5V761.6M542.5 753.5V760.9M544.5 753.5V759.4M545.5 753.5V757.2M546.5 753.5V756.8M547.5 753.5V754.6M549.5 753.5V752.0M551.5 753.5V752.0M552.5 753.5V751.3M553.5 753.5V750.9M554.5 753.5V751.6M555.5 753.5V752.6M557.5 753.5V752.8M559.5 753.5V751.3M560.5 753.5V751.2M561.5 753.5V750.9M562.5 753.5V750.5M563.5 753.5V749.1M564.5 753.5V749.2M566.5 753.5V749.2M567.5 753.5V748.6M568.5 753.5V749.4M569.5 753.5V749.0M570.5 753.5V749.3M571.5 753.5V748.7M572.5 753.5V748.4M574.5 753.5V749.4M575.5 753.5V749.1M576.5 753.5V749.5M577.5 753.5V749.4M578.5 753.5V749.1M579.5 753.5V749.7M581.5 753.5V749.8M582.5 753.5V749.3M583.5 753.5V749.7M584.5 753.5V750.0M585.5 753.5V750.9M586.5 753.5V751.2M588.5 753.5V751.4M589.5 753.5V752.5M590.5 753.5V752.7M593.5 753.5V752.6M596.5 753.5V752.4M597.5 753.5V752.2M601.5 753.5V754.2M604.5 753.5V754.2M605.5 753.5V753.8M606.5 753.5V755.8M607.5 753.5V754.9M608.5 753.5V755.3M609.5 753.5V754.4M611.5 753.5V752.0M613.5 753.5V750.7M614.5 753.5V750.9M615.5 753.5V745.0M616.5 753.5V745.1M618.5 753.5V740.8M619.5 753.5V740.2M620.5 753.5V737.0M621.5 753.5V740.4M622.5 753.5V743.9M623.5 753.5V750.6M624.5 753.5V756.4M626.5 753.5V758.2M627.5 753.5V760.8M628.5 753.5V764.9M629.5 753.5V764.8M630.5 753.5V761.6M631.5 753.5V757.9M633.5 753.5V754.8M634.5 753.5V755.5M635.5 753.5V758.8M636.5 753.5V756.1M637.5 753.5V756.3M638.5 753.5V758.6M639.5 753.5V758.7M641.5 753.5V760.8M642.5 753.5V761.2M643.5 753.5V762.3M644.5 753.5V763.6M645.5 753.5V761.9M646.5 753.5V760.5M648.5 753.5V759.6M649.5 753.5V757.8M650.5 753.5V755.3M651.5 753.5V756.2M652.5 753.5V754.0M653.5 753.5V750.8M654.5 753.5V750.8M656.5 753.5V752.5M657.5 753.5V755.2M658.5 753.5V754.9M659.5 753.5V755.3M660.5 753.5V754.4M663.5 753.5V753.8M664.5 753.5V752.0M665.5 753.5V751.9M666.5 753.5V752.0M667.5 753.5V752.1M668.5 753.5V750.1M670.5 753.5V750.9M673.5 753.5V752.1M674.5 753.5V752.0M675.5 753.5V750.0M676.5 753.5V750.7M678.5 753.5V750.6M679.5 753.5V752.7M680.5 753.5V752.4M681.5 753.5V752.7M682.5 753.5V752.7M683.5 753.5V751.4M685.5 753.5V750.7M686.5 753.5V751.5M687.5 753.5V752.0M688.5 753.5V749.6M689.5 753.5V751.3M690.5 753.5V751.2M691.5 753.5V749.8M693.5 753.5V750.4M694.5 753.5V750.8M695.5 753.5V749.2M696.5 753.5V749.3M697.5 753.5V748.8M698.5 753.5V750.8M702.5 753.5V756.5M703.5 753.5V755.4M704.5 753.5V756.4M705.5 753.5V757.0M706.5 753.5V760.5M708.5 753.5V759.5M709.5 753.5V760.8M710.5 753.5V761.3M711.5 753.5V758.7M712.5 753.5V757.3M713.5 753.5V760.1M715.5 753.5V757.6M716.5 753.5V761.0M717.5 753.5V759.0M718.5 753.5V759.9M719.5 753.5V760.4M720.5 753.5V758.3M721.5 753.5V759.1M723.5 753.5V758.2M724.5 753.5V760.0M725.5 753.5V759.2M726.5 753.5V757.7M727.5 753.5V754.2M728.5 753.5V752.5M731.5 753.5V752.4M733.5 753.5V752.1M734.5 753.5V751.6M735.5 753.5V751.6M737.5 753.5V749.9M738.5 753.5V750.2M740.5 753.5V755.2M741.5 753.5V754.5M742.5 753.5V755.3M743.5 753.5V754.5M746.5 753.5V752.1M748.5 753.5V754.4M753.5 753.5V752.5M754.5 753.5V750.7M755.5 753.5V751.9M756.5 753.5V749.9M757.5 753.5V749.9M758.5 753.5V748.1M760.5 753.5V748.5M761.5 753.5V749.7M762.5 753.5V752.0M764.5 753.5V754.3M765.5 753.5V755.8M767.5 753.5V756.9M768.5 753.5V755.9M769.5 753.5V754.6M770.5 753.5V754.4M771.5 753.5V752.6M773.5 753.5V752.3M775.5 753.5V752.2M777.5 753.5V752.0M779.5 753.5V754.2M780.5 753.5V754.3M782.5 753.5V756.1M783.5 753.5V755.9M784.5 753.5V755.7M785.5 753.5V754.1M787.5 753.5V752.4M788.5 753.5V750.6M790.5 753.5V750.9M791.5 753.5V749.0M792.5 753.5V747.9M793.5 753.5V746.3M794.5 753.5V747.4M795.5 753.5V747.7M797.5 753.5V748.0M798.5 753.5V749.8M799.5 753.5V751.8M800.5 753.5V751.6M801.5 753.5V752.6M802.5 753.5V752.2M803.5 753.5V752.7M805.5 753.5V752.0M807.5 753.5V752.7M809.5 753.5V752.1M810.5 753.5V751.5M812.5 753.5V751.0M813.5 753.5V751.7M814.5 753.5V751.2M815.5 753.5V751.4M816.5 753.5V750.5M817.5 753.5V752.0M819.5 753.5V752.1M821.5 753.5V754.0M822.5 753.5V755.1M823.5 753.5V754.5M824.5 753.5V755.7M825.5 753.5V758.8M827.5 753.5V760.4M828.5 753.5V761.2M829.5 753.5V759.4M830.5 753.5V760.1M831.5 753.5V757.5M832.5 753.5V757.5M834.5 753.5V755.8M835.5 753.5V754.3M836.5 753.5V754.8M837.5 753.5V755.4M838.5 753.5V756.4M839.5 753.5V757.2M840.5 753.5V755.9M842.5 753.5V756.5M843.5 753.5V756.5M844.5 753.5V757.2M845.5 753.5V756.4M846.5 753.5V754.2M847.5 753.5V753.9M849.5 753.5V752.2M850.5 753.5V751.0M851.5 753.5V751.6M852.5 753.5V750.4M853.5 753.5V750.5M854.5 753.5V750.5M855.5 753.5V749.1M857.5 753.5V749.1M858.5 753.5V749.7M859.5 753.5V748.7M860.5 753.5V749.7M861.5 753.5V751.7M862.5 753.5V752.0M864.5 753.5V752.6M865.5 753.5V752.2M866.5 753.5V751.4M867.5 753.5V752.0M868.5 753.5V752.0M869.5 753.5V751.0M870.5 753.5V750.9M872.5 753.5V749.9M873.5 753.5V749.2M874.5 753.5V749.8M875.5 753.5V749.2M876.5 753.5V750.1M877.5 753.5V750.0M879.5 753.5V751.1M880.5 753.5V752.2M881.5 753.5V751.7M884.5 753.5V754.9M886.5 753.5V754.6M887.5 753.5V756.0M888.5 753.5V755.3M889.5 753.5V755.0M890.5 753.5V755.0M895.5 753.5V752.8M897.5 753.5V754.4M898.5 753.5V755.2M899.5 753.5V754.4M901.5 753.5V754.7M902.5 753.5V754.3M903.5 753.5V754.8M904.5 753.5V754.7M907.5 753.5V752.4M909.5 753.5V751.9M910.5 753.5V751.2M911.5 753.5V752.0M912.5 753.5V752.4M913.5 753.5V754.0M916.5 753.5V754.8M917.5 753.5V757.9M918.5 753.5V758.0M919.5 753.5V759.2M920.5 753.5V760.2M921.5 753.5V758.8M922.5 753.5V757.8M924.5 753.5V756.0M925.5 753.5V755.8M926.5 753.5V754.4M928.5 753.5V752.0M929.5 753.5V751.4M931.5 753.5V750.4M932.5 753.5V748.7M933.5 753.5V747.0M934.5 753.5V746.7M935.5 753.5V746.5M936.5 753.5V746.6M937.5 753.5V747.6M939.5 753.5V748.1M940.5 753.5V748.0M941.5 753.5V748.6M942.5 753.5V750.0M943.5 753.5V750.9M948.5 753.5V754.9M949.5 753.5V755.4M950.5 753.5V756.8M951.5 753.5V756.5M953.5 753.5V757.3M954.5 753.5V756.8M955.5 753.5V757.4M956.5 753.5V759.0M957.5 753.5V758.4M958.5 753.5V757.4M959.5 753.5V756.3M961.5 753.5V756.2M962.5 753.5V755.6M963.5 753.5V755.8M964.5 753.5V754.9M965.5 753.5V754.9M970.5 753.5V752.1M971.5 753.5V752.4M972.5 753.5V752.5M973.5 753.5V751.6M974.5 753.5V751.7M976.5 753.5V751.3M981.5 753.5V752.1M983.5 753.5V752.4M984.5 753.5V752.4M986.5 753.5V754.2M989.5 753.5V752.6M992.5 753.5V752.5M993.5 753.5V752.3M994.5 753.5V751.6M995.5 753.5V752.2M998.5 753.5V752.8M1003.5 753.5V752.4M1004.5 753.5V752.0M1006.5 753.5V751.4M1007.5 753.5V751.9M1008.5 753.5V751.5M1009.5 753.5V751.4M1010.5 753.5V750.8M1011.5 753.5V750.1M1013.5 753.5V749.3M1014.5 753.5V749.8M1015.5 753.5V750.3M1016.5 753.5V751.1M1017.5 753.5V750.8M1018.5 753.5V750.9M1019.5 753.5V750.9M1021.5 753.5V751.6M1022.5 753.5V751.6M1023.5 753.5V751.7M1024.5 753.5V751.5M1025.5 753.5V751.2M1026.5 753.5V750.8M1028.5 753.5V751.4M1029.5 753.5V751.6M1030.5 753.5V752.5M1031.5 753.5V752.4M1032.5 753.5V752.3M1033.5 753.5V752.3M1035.5 753.5V751.9M1036.5 753.5V752.4M1039.5 753.5V753.8M1040.5 753.5V754.8M1041.5 753.5V754.9M1043.5 753.5V755.7M1044.5 753.5V755.7M1045.5 753.5V756.3M1046.5 753.5V756.8M1047.5 753.5V756.3M1048.5 753.5V756.2M1050.5 753.5V755.2M1051.5 753.5V755.3M1052.5 753.5V754.7M1054.5 753.5V752.0M1055.5 753.5V750.9M1056.5 753.5V751.3M1058.5 753.5V751.4M1059.5 753.5V751.6M1060.5 753.5V751.3M1061.5 753.5V751.0M1062.5 753.5V750.1M1063.5 753.5V750.7M1065.5 753.5V750.3M1066.5 753.5V750.5M1067.5 753.5V751.0M1068.5 753.5V750.8M1069.5 753.5V751.7M1070.5 753.5V752.5M1071.5 753.5V754.1M1073.5 753.5V754.0M1074.5 753.5V754.6M1075.5 753.5V755.1M1076.5 753.5V754.4M1077.5 753.5V755.0M1078.5 753.5V755.7M1080.5 753.5V757.2M1081.5 753.5V759.3M1082.5 753.5V759.3M1083.5 753.5V758.8M1084.5 753.5V757.9M1085.5 753.5V757.9M1086.5 753.5V758.0M1088.5 753.5V757.0M1089.5 753.5V755.1M1090.5 753.5V754.6M1091.5 753.5V753.8M1093.5 753.5V751.7M1095.5 753.5V752.4M1096.5 753.5V752.7M1097.5 753.5V753.8M1098.5 753.5V753.9M1099.5 753.5V754.3M1100.5 753.5V755.3M1102.5 753.5V754.9M1103.5 753.5V754.9M1104.5 753.5V754.7M1105.5 753.5V755.3M1106.5 753.5V757.2M1107.5 753.5V756.7M1108.5 753.5V757.1M1110.5 753.5V756.3M1111.5 753.5V755.5M1112.5 753.5V755.9M1113.5 753.5V756.0M1114.5 753.5V756.9M1115.5 753.5V755.5M1117.5 753.5V754.7M1118.5 753.5V754.7M1122.5 753.5V752.7M1125.5 753.5V751.9M1126.5 753.5V750.7M1127.5 753.5V750.8M1128.5 753.5V752.4M1129.5 753.5V752.5M1130.5 753.5V754.1M1132.5 753.5V754.6M1133.5 753.5V755.6M1134.5 753.5V756.0M1135.5 753.5V755.7M1136.5 753.5V756.0M1137.5 753.5V755.0M1140.5 753.5V752.4M1141.5 753.5V750.9M1142.5 753.5V751.2M1143.5 753.5V750.2M1144.5 753.5V750.2M1145.5 753.5V749.4M1147.5 753.5V749.8M1148.5 753.5V750.5M1149.5 753.5V750.7M1150.5 753.5V752.1M1151.5 753.5V752.6M1152.5 753.5V752.3M1153.5 753.5V752.7M1155.5 753.5V752.1M1156.5 753.5V752.0M1157.5 753.5V751.4M1158.5 753.5V750.9M1159.5 753.5V751.8M1160.5 753.5V752.3M1163.5 753.5V752.4M1164.5 753.5V752.4M1165.5 753.5V752.1M1166.5 753.5V751.2M1167.5 753.5V751.7M1169.5 753.5V751.6M1170.5 753.5V751.3M1171.5 753.5V751.2M1172.5 753.5V750.5M1173.5 753.5V751.0M1174.5 753.5V751.9M1177.5 753.5V753.9M1178.5 753.5V754.2M1179.5 753.5V754.3M1184.5 753.5V752.3M1185.5 753.5V752.7M1186.5 753.5V752.2M1187.5 753.5V751.9M1188.5 753.5V752.4M1189.5 753.5V752.2M1194.5 753.5V754.1M1199.5 753.5V753.8M1205.5 753.5V754.2M1209.5 753.5V752.5M1210.5 753.5V751.7M1211.5 753.5V751.0M1212.5 753.5V751.4M1214.5 753.5V751.6M1215.5 753.5V752.3M1216.5 753.5V752.3M1217.5 753.5V752.3M1218.5 753.5V752.1M1220.5 753.5V752.3M1222.5 753.5V752.4M1223.5 753.5V751.9M1224.5 753.5V751.8M1225.5 753.5V751.1M1226.5 753.5V751.7M1227.5 753.5V752.4M1229.5 753.5V752.2M1230.5 753.5V752.7M1231.5 753.5V752.4M1234.5 753.5V754.9M1235.5 753.5V754.5M1237.5 753.5V755.1M1238.5 753.5V756.1M1239.5 753.5V756.0M1240.5 753.5V756.2M1241.5 753.5V756.4M1242.5 753.5V755.8M1244.5 753.5V756.4M1245.5 753.5V756.4M1246.5 753.5V757.1M1247.5 753.5V757.3M1248.5 753.5V757.4M1249.5 753.5V756.7M1251.5 753.5V756.4M1252.5 753.5V756.5M1253.5 753.5V755.7M1254.5 753.5V755.7M1255.5 753.5V754.7M1256.5 753.5V754.5M1257.5 753.5V754.8M1259.5 753.5V754.4M1260.5 753.5V754.1M1264.5 753.5V754.0M1266.5 753.5V753.8M1269.5 753.5V752.0M1270.5 753.5V752.4M1272.5 753.5V755.0M1274.5 753.5V755.0M1275.5 753.5V755.1M1276.5 753.5V754.3M1277.5 753.5V754.3M1279.5 753.5V752.6M1281.5 753.5V751.5M1282.5 753.5V750.7M1283.5 753.5V750.0M1284.5 753.5V750.2M1285.5 753.5V750.0M1286.5 753.5V750.2M1287.5 753.5V749.8M1289.5 753.5V750.0M1290.5 753.5V750.7M1291.5 753.5V750.8M1292.5 753.5V751.1M1293.5 753.5V751.6M1294.5 753.5V751.2M1296.5 753.5V750.8M1297.5 753.5V751.4M1298.5 753.5V751.7M1299.5 753.5V751.4M1300.5 753.5V751.9M1301.5 753.5V752.5M1305.5 753.5V754.2M1306.5 753.5V754.8M1307.5 753.5V754.5M1308.5 753.5V755.0M1309.5 753.5V754.9M1311.5 753.5V755.4M1312.5 753.5V755.5M1313.5 753.5V756.2M1314.5 753.5V755.7M1315.5 753.5V755.9M1316.5 753.5V756.4M1318.5 753.5V756.3M1319.5 753.5V756.8M1320.5 753.5V757.3M1321.5 753.5V757.6M1322.5 753.5V757.3M1323.5 753.5V757.3M1324.5 753.5V756.6M1326.5 753.5V755.7M1327.5 753.5V754.1M1328.5 753.5V752.4M1329.5 753.5V751.2M1330.5 753.5V751.2M1331.5 753.5V751.7M1333.5 753.5V751.1M1334.5 753.5V751.9M1335.5 753.5V752.2M1336.5 753.5V752.4M1341.5 753.5V752.3M1342.5 753.5V752.6M1343.5 753.5V752.2M1346.5 753.5V754.4M1348.5 753.5V753.9M1349.5 753.5V754.7M1350.5 753.5V755.9M1351.5 753.5V757.2M1352.5 753.5V756.8M1353.5 753.5V756.3M1354.5 753.5V755.4M1356.5 753.5V754.5M1357.5 753.5V754.3M1360.5 753.5V752.4M1361.5 753.5V752.0M1363.5 753.5V751.4M1364.5 753.5V750.8M1365.5 753.5V751.1M1366.5 753.5V751.7M1367.5 753.5V752.7M1368.5 753.5V752.7M1369.5 753.5V751.4M1371.5 753.5V751.4M1372.5 753.5V749.9M1373.5 753.5V749.3M1374.5 753.5V749.0M1375.5 753.5V748.0M1376.5 753.5V748.1M1378.5 753.5V749.5M1379.5 753.5V751.1M1380.5 753.5V752.5M1383.5 753.5V753.8M1387.5 753.5V753.9M1389.5 753.5V753.9M1390.5 753.5V754.3M1391.5 753.5V755.5M1393.5 753.5V755.1M1394.5 753.5V755.0M1395.5 753.5V754.9M1396.5 753.5V753.9M1398.5 753.5V752.5M1400.5 753.5V752.8M1403.5 753.5V754.2M1404.5 753.5V754.0M1405.5 753.5V754.3M1408.5 753.5V754.3M1412.5 753.5V752.6M1430.5 753.5V752.4M1431.5 753.5V752.4M1432.5 753.5V752.6M1433.5 753.5V752.4M1439.5 753.5V752.5M1440.5 753.5V752.4M1441.5 753.5V751.5M1442.5 753.5V751.6M1443.5 753.5V751.4M1445.5 753.5V751.1M1446.5 753.5V751.4M1447.5 753.5V751.1M1448.5 753.5V750.5M1449.5 753.5V749.6M1450.5 753.5V750.3M1451.5 753.5V750.3M1453.5 753.5V750.5M1454.5 753.5V750.1M1455.5 753.5V751.2M1456.5 753.5V751.6M1457.5 753.5V752.7M1458.5 753.5V754.1M1460.5 753.5V754.4M1461.5 753.5V754.9M1462.5 753.5V755.7M1463.5 753.5V755.9M1464.5 753.5V756.5M1465.5 753.5V756.4M1467.5 753.5V756.4M1468.5 753.5V756.6M1469.5 753.5V756.0M1470.5 753.5V755.7M1471.5 753.5V755.3M1472.5 753.5V755.5M1473.5 753.5V755.2M1475.5 753.5V755.0M1476.5 753.5V754.9M1477.5 753.5V754.1M1478.5 753.5V754.0M1479.5 753.5V754.0M1480.5 753.5V753.9M1484.5 753.5V753.9M1485.5 753.5V754.7M1486.5 753.5V754.3M1487.5 753.5V755.0M1488.5 753.5V755.0M1490.5 753.5V755.5M1491.5 753.5V755.5M1492.5 753.5V756.2M1493.5 753.5V755.5M1494.5 753.5V755.5M1495.5 753.5V755.0M1497.5 753.5V754.3M1498.5 753.5V754.4M1499.5 753.5V754.1M1502.5 753.5V752.5M1503.5 753.5V751.8M1505.5 753.5V751.3M1506.5 753.5V751.2M1507.5 753.5V750.7M1508.5 753.5V751.1M1509.5 753.5V750.7M1510.5 753.5V751.0M1512.5 753.5V750.7M1513.5 753.5V750.7M1514.5 753.5V750.5M1515.5 753.5V751.2M1516.5 753.5V754.7M1517.5 753.5V754.7M1518.5 753.5V758.1M1520.5 753.5V758.1M1521.5 753.5V760.1M1522.5 753.5V759.2M1523.5 753.5V757.5M1524.5 753.5V755.9M1525.5 753.5V754.3M1527.5 753.5V754.1M1529.5 753.5V752.4M1530.5 753.5V752.5M1531.5 753.5V751.6M1532.5 753.5V751.6M1534.5 753.5V751.8M1535.5 753.5V752.7M1537.5 753.5V754.7M1538.5 753.5V754.4M1539.5 753.5V754.8M1540.5 753.5V755.8M1542.5 753.5V754.8M1543.5 753.5V754.4M1545.5 753.5V752.4M1546.5 753.5V751.1M1547.5 753.5V750.9M1549.5 753.5V750.4M1550.5 753.5V750.1M1551.5 753.5V750.5M1552.5 753.5V750.2M1553.5 753.5V750.5M1554.5 753.5V750.9M1555.5 753.5V751.7M1557.5 753.5V752.4M1559.5 753.5V752.7M1560.5 753.5V752.7M1565.5 753.5V752.2M1566.5 753.5V752.0M1567.5 753.5V751.3M1568.5 753.5V751.7M1569.5 753.5V751.2M1570.5 753.5V749.9M1572.5 753.5V746.9M1573.5 753.5V748.5M1574.5 753.5V747.3M1575.5 753.5V747.7M1576.5 753.5V746.6M1577.5 753.5V749.1M1579.5 753.5V747.9M1580.5 753.5V751.1M1581.5 753.5V754.2M1582.5 753.5V754.9M1583.5 753.5V756.5M1584.5 753.5V756.7M1585.5 753.5V757.6M1587.5 753.5V757.5M1588.5 753.5V756.7M1589.5 753.5V755.9M1590.5 753.5V755.1M1591.5 753.5V755.3M1592.5 753.5V754.5M1594.5 753.5V754.7M1595.5 753.5V753.9M1596.5 753.5V754.0M1597.5 753.5V754.4M1598.5 753.5V754.5M1599.5 753.5V754.0M1600.5 753.5V754.1M1604.5 753.5V754.1M1605.5 753.5V753.9M1606.5 753.5V754.3M1609.5 753.5V752.4M1610.5 753.5V752.5M1611.5 753.5V752.5M1614.5 753.5V754.1M1616.5 753.5V754.6M1617.5 753.5V755.4M1618.5 753.5V755.7M1619.5 753.5V756.1M1620.5 753.5V755.6M1621.5 753.5V755.3M1622.5 753.5V755.2M1624.5 753.5V754.7M1625.5 753.5V754.8M1626.5 753.5V754.3M1631.5 753.5V752.4M1632.5 753.5V752.3M1633.5 753.5V752.1M1634.5 753.5V752.6M1635.5 753.5V752.2M1636.5 753.5V752.6M1637.5 753.5V752.0M1639.5 753.5V752.2M1648.5 753.5V752.5M1650.5 753.5V752.6M1654.5 753.5V752.3M1655.5 753.5V751.6M1656.5 753.5V752.0M1657.5 753.5V752.6M1662.5 753.5V754.0M1663.5 753.5V754.9M1664.5 753.5V754.7M1665.5 753.5V754.9M1666.5 753.5V754.5M1667.5 753.5V754.6M1669.5 753.5V754.8M1670.5 753.5V755.4M1671.5 753.5V756.2M1672.5 753.5V756.0M1673.5 753.5V756.3M1674.5 753.5V756.0M1676.5 753.5V756.0M1677.5 753.5V755.1M1679.5 753.5V752.1M1680.5 753.5V751.7M1681.5 753.5V751.2M1683.5 753.5V751.5M1684.5 753.5V751.3M1685.5 753.5V751.6M1686.5 753.5V751.5M1687.5 753.5V752.1M1688.5 753.5V752.2M1689.5 753.5V752.4M1692.5 753.5V752.7M1694.5 753.5V752.5M1713.5 753.5V752.7M1718.5 753.5V754.1M1719.5 753.5V754.2M1721.5 753.5V754.3M1722.5 753.5V754.8M1723.5 753.5V754.3M1724.5 753.5V754.0M1726.5 753.5V752.7M1728.5 753.5V752.2M1729.5 753.5V752.6M1731.5 753.5V752.5M1732.5 753.5V752.8M1733.5 753.5V752.7M1734.5 753.5V752.6M1737.5 753.5V752.3M1738.5 753.5V752.1M1739.5 753.5V751.2M1740.5 753.5V751.2M1741.5 753.5V750.4M1743.5 753.5V751.1M1744.5 753.5V751.5M1745.5 753.5V751.9M1746.5 753.5V752.4M1747.5 753.5V752.2M1748.5 753.5V752.1M1750.5 753.5V751.9M1751.5 753.5V751.7M1752.5 753.5V752.2M1753.5 753.5V751.6M1754.5 753.5V751.8M1755.5 753.5V752.3M1756.5 753.5V751.3M1758.5 753.5V751.9M1759.5 753.5V751.9M1760.5 753.5V751.7M1761.5 753.5V752.6M1762.5 753.5V752.3M1770.5 753.5V754.2M1774.5 753.5V752.5M1775.5 753.5V752.6M1776.5 753.5V751.8M1777.5 753.5V752.2M1778.5 753.5V749.7M1780.5 753.5V748.1M1781.5 753.5V745.9M1782.5 753.5V745.4M1783.5 753.5V743.1" stroke="#6b8c2e" stroke-width="1" fill="none" shape-rendering="crispEdges"/>
<path d="M7.0 759.3L8.2 760.2L10.5 762.1L12.8 763.3L15.1 764.2L17.4 764.4L19.7 763.7L22.0 762.3L24.3 760.8L26.6 760.1L28.9 760.9L31.3 761.6L33.6 762.8L35.9 764.8L38.2 769.7L40.5 773.7L42.8 778.2L45.1 781.6L47.4 784.7L49.7 786.6L52.0 787.2L54.4 787.1L56.7 785.4L59.0 782.5L61.3 778.6L63.6 774.4L65.9 771.5L68.2 769.9L70.5 770.2L72.8 770.1L75.1 770.2L77.5 769.8L79.8 768.5L82.1 766.0L84.4 763.1L86.7 760.5L89.0 758.3L91.3 755.9L93.6 753.2L95.9 750.8L98.3 748.7L100.6 746.8L102.9 745.8L105.2 744.8L107.5 743.5L109.8 742.1L112.1 741.8L114.4 742.2L116.7 742.3L119.0 742.4L121.4 742.4L123.7 742.7L126.0 743.2L128.3 743.6L130.6 744.0L132.9 744.4L135.2 745.1L137.5 745.8L139.8 746.2L142.1 746.8L144.5 747.1L146.8 747.3L149.1 747.7L151.4 748.4L153.7 748.8L156.0 748.7L158.3 748.7L160.6 748.6L162.9 748.7L165.2 748.8L167.6 749.1L169.9 749.6L172.2 750.0L174.5 750.1L176.8 750.2L179.1 750.4L181.4 751.0L183.7 752.4L186.0 754.1L188.3 755.6L190.7 756.6L193.0 756.9L195.3 756.7L197.6 756.4L199.9 756.2L202.2 756.6L204.5 756.7L206.8 756.4L209.1 756.0L211.4 755.4L213.8 754.6L216.1 754.1L218.4 753.7L220.7 753.7L223.0 754.0L225.3 754.7L227.6 755.8L229.9 756.4L232.2 756.3L234.5 755.9L236.9 754.5L239.2 752.9L241.5 751.8L243.8 750.5L246.1 749.0L248.4 747.6L250.7 746.7L253.0 746.0L255.3 745.4L257.7 745.0L260.0 744.6L262.3 744.3L264.6 744.0L266.9 744.3L269.2 744.6L271.5 744.8L273.8 745.1L276.1 745.4L278.4 745.5L280.8 745.1L283.1 744.6L285.4 744.1L287.7 743.8L290.0 744.1L292.3 744.6L294.6 745.1L296.9 745.5L299.2 746.0L301.5 745.9L303.9 745.2L306.2 744.4L308.5 743.7L310.8 742.8L313.1 742.1L315.4 741.4L317.7 740.6L320.0 740.5L322.3 741.0L324.6 741.2L327.0 741.2L329.3 740.5L331.6 740.3L333.9 740.8L336.2 741.5L338.5 743.6L340.8 746.3L343.1 748.3L345.4 749.9L347.7 751.7L350.1 752.9L352.4 753.8L354.7 754.2L357.0 753.9L359.3 752.9L361.6 752.1L363.9 751.8L366.2 751.4L368.5 750.8L370.8 750.3L373.2 749.9L375.5 749.3L377.8 748.9L380.1 748.8L382.4 748.8L384.7 749.0L387.0 749.8L389.3 750.3L391.6 750.4L393.9 749.9L396.3 749.3L398.6 748.7L400.9 748.1L403.2 747.6L405.5 747.1L407.8 746.7L410.1 746.3L412.4 746.0L414.7 746.0L417.1 745.8L419.4 745.8L421.7 745.6L424.0 745.5L426.3 746.2L428.6 747.0L430.9 747.9L433.2 749.4L435.5 750.9L437.8 752.2L440.2 752.9L442.5 753.0L444.8 753.2L447.1 753.8L449.4 754.7L451.7 755.9L454.0 756.6L456.3 757.0L458.6 758.2L460.9 759.0L463.3 758.9L465.6 758.2L467.9 757.2L470.2 755.9L472.5 754.6L474.8 753.7L477.1 752.9L479.4 751.7L481.7 750.7L484.0 750.0L486.4 749.3L488.7 748.4L491.0 747.4L493.3 746.5L495.6 745.8L497.9 744.8L500.2 743.4L502.5 742.1L504.8 741.1L507.1 740.3L509.5 739.8L511.8 739.9L514.1 740.7L516.4 741.6L518.7 742.7L521.0 744.1L523.3 745.5L525.6 746.5L527.9 747.7L530.2 749.0L532.6 750.6L534.9 752.3L537.2 753.8L539.5 755.6L541.8 759.2L544.1 762.6L546.4 764.5L548.7 764.9L551.0 764.2L553.3 763.1L555.7 762.5L558.0 762.5L560.3 761.5L562.6 760.2L564.9 758.1L567.2 755.9L569.5 753.8L571.8 751.7L574.1 749.5L576.5 747.5L578.8 745.5L581.1 743.7L583.4 741.8L585.7 740.4L588.0 739.3L590.3 739.0L592.6 738.8L594.9 738.5L597.2 738.0L599.6 738.0L601.9 738.3L604.2 738.6L606.5 739.3L608.8 740.2L611.1 740.2L613.4 739.4L615.7 736.7L618.0 731.6L620.3 724.2L622.7 718.6L625.0 718.7L627.3 721.8L629.6 727.6L631.9 730.8L634.2 731.7L636.5 733.8L638.8 735.9L641.1 739.1L643.4 743.3L645.8 748.1L648.1 751.4L650.4 753.1L652.7 754.0L655.0 752.7L657.3 753.0L659.6 753.9L661.9 754.1L664.2 753.9L666.5 753.2L668.9 752.1L671.2 751.6L673.5 751.4L675.8 750.3L678.1 749.0L680.4 748.6L682.7 748.3L685.0 747.2L687.3 746.4L689.6 745.0L692.0 743.6L694.3 742.2L696.6 740.2L698.9 738.5L701.2 738.5L703.5 739.8L705.8 741.5L708.1 744.9L710.4 748.8L712.7 751.1L715.1 753.9L717.4 757.2L719.7 760.7L722.0 763.4L724.3 766.3L726.6 768.9L728.9 768.9L731.2 768.7L733.5 768.5L735.9 767.7L738.2 766.1L740.5 766.5L742.8 767.3L745.1 767.7L747.4 767.4L749.7 767.8L752.0 767.7L754.3 766.9L756.6 765.7L759.0 763.5L761.3 761.4L763.6 761.0L765.9 761.9L768.2 763.4L770.5 764.0L772.8 763.8L775.1 763.3L777.4 762.9L779.7 763.2L782.1 764.1L784.4 765.4L786.7 765.5L789.0 764.6L791.3 762.9L793.6 759.8L795.9 756.9L798.2 754.7L800.5 753.9L802.8 753.4L805.2 753.0L807.5 752.8L809.8 752.4L812.1 751.4L814.4 750.4L816.7 749.3L819.0 748.6L821.3 748.9L823.6 749.7L825.9 751.6L828.3 755.4L830.6 758.6L832.9 760.7L835.2 761.6L837.5 762.5L839.8 764.2L842.1 765.6L844.4 767.4L846.7 768.4L849.0 768.3L851.4 767.3L853.7 765.9L856.0 764.1L858.3 762.2L860.6 760.1L862.9 759.4L865.2 759.0L867.5 758.2L869.8 757.3L872.1 755.8L874.5 753.9L876.8 752.1L879.1 750.7L881.4 750.1L883.7 750.0L886.0 750.7L888.3 751.9L890.6 752.8L892.9 752.8L895.2 752.7L897.6 753.0L899.9 753.8L902.2 754.4L904.5 755.1L906.8 755.3L909.1 754.7L911.4 753.8L913.7 753.8L916.0 754.3L918.4 756.6L920.7 759.8L923.0 762.3L925.3 763.6L927.6 763.8L929.9 763.0L932.2 761.2L934.5 758.0L936.8 754.6L939.1 751.9L941.5 749.4L943.8 747.9L946.1 747.8L948.4 748.3L950.7 749.7L953.0 751.5L955.3 753.4L957.6 756.1L959.9 757.9L962.2 759.2L964.6 760.2L966.9 760.7L969.2 760.7L971.5 760.2L973.8 759.6L976.1 758.7L978.4 758.7L980.7 758.6L983.0 758.1L985.3 757.9L987.7 758.2L990.0 758.1L992.3 757.8L994.6 757.1L996.9 756.8L999.2 756.7L1001.5 756.7L1003.8 756.4L1006.1 755.6L1008.4 754.8L1010.8 753.6L1013.1 751.8L1015.4 750.2L1017.7 749.0L1020.0 747.8L1022.3 747.0L1024.6 746.1L1026.9 745.0L1029.2 744.1L1031.5 743.7L1033.9 743.2L1036.2 742.6L1038.5 742.5L1040.8 743.0L1043.1 744.0L1045.4 745.4L1047.7 747.0L1050.0 748.2L1052.3 749.0L1054.6 748.8L1057.0 747.7L1059.3 746.8L1061.6 745.7L1063.9 744.2L1066.2 742.8L1068.5 741.6L1070.8 741.0L1073.1 741.4L1075.4 742.1L1077.8 742.8L1080.1 744.4L1082.4 747.4L1084.7 749.9L1087.0 752.2L1089.3 753.6L1091.6 754.0L1093.9 753.6L1096.2 753.2L1098.5 753.5L1100.9 754.3L1103.2 755.1L1105.5 755.9L1107.8 757.7L1110.1 759.4L1112.4 760.6L1114.7 762.2L1117.0 763.1L1119.3 763.5L1121.6 763.5L1124.0 763.2L1126.3 762.2L1128.6 761.3L1130.9 761.3L1133.2 762.2L1135.5 763.5L1137.8 764.6L1140.1 764.5L1142.4 763.3L1144.7 761.8L1147.1 759.9L1149.4 758.6L1151.7 758.1L1154.0 757.7L1156.3 757.1L1158.6 756.0L1160.9 755.4L1163.2 755.1L1165.5 754.6L1167.8 753.6L1170.2 752.7L1172.5 751.5L1174.8 750.5L1177.1 750.7L1179.4 751.2L1181.7 751.3L1184.0 751.0L1186.3 750.6L1188.6 750.0L1190.9 749.6L1193.3 749.6L1195.6 749.9L1197.9 750.0L1200.2 750.1L1202.5 750.2L1204.8 750.4L1207.1 750.6L1209.4 750.4L1211.7 749.4L1214.0 748.5L1216.4 748.0L1218.7 747.5L1221.0 747.1L1223.3 746.6L1225.6 745.7L1227.9 745.0L1230.2 744.6L1232.5 744.3L1234.8 744.7L1237.2 745.5L1239.5 746.8L1241.8 748.3L1244.1 749.7L1246.4 751.5L1248.7 753.5L1251.0 755.1L1253.3 756.5L1255.6 757.5L1257.9 758.1L1260.3 758.6L1262.6 758.7L1264.9 758.9L1267.2 758.9L1269.5 758.5L1271.8 758.3L1274.1 759.2L1276.4 759.9L1278.7 760.2L1281.0 759.6L1283.4 758.1L1285.7 756.5L1288.0 754.8L1290.3 753.3L1292.6 752.2L1294.9 751.2L1297.2 750.1L1299.5 749.2L1301.8 748.7L1304.1 748.8L1306.5 749.4L1308.8 750.2L1311.1 751.1L1313.4 752.4L1315.7 753.6L1318.0 755.1L1320.3 757.0L1322.6 759.0L1324.9 760.9L1327.2 761.6L1329.6 760.9L1331.9 760.0L1334.2 759.1L1336.5 758.6L1338.8 758.7L1341.1 758.4L1343.4 758.0L1345.7 757.8L1348.0 758.2L1350.3 759.2L1352.7 761.1L1355.0 762.4L1357.3 762.9L1359.6 763.1L1361.9 762.5L1364.2 761.4L1366.5 760.5L1368.8 760.2L1371.1 759.2L1373.4 757.4L1375.8 755.0L1378.1 752.8L1380.4 752.0L1382.7 752.2L1385.0 752.5L1387.3 752.6L1389.6 752.8L1391.9 753.7L1394.2 754.5L1396.6 755.1L1398.9 754.9L1401.2 754.6L1403.5 754.8L1405.8 755.3L1408.1 755.6L1410.4 755.7L1412.7 755.5L1415.0 755.3L1417.3 755.4L1419.7 755.5L1422.0 755.4L1424.3 755.4L1426.6 755.4L1428.9 755.3L1431.2 754.9L1433.5 754.5L1435.8 754.3L1438.1 754.1L1440.4 753.7L1442.8 752.8L1445.1 751.8L1447.4 750.8L1449.7 749.1L1452.0 747.6L1454.3 746.1L1456.6 745.2L1458.9 745.3L1461.2 745.9L1463.5 747.2L1465.9 748.7L1468.2 750.3L1470.5 751.6L1472.8 752.6L1475.1 753.5L1477.4 754.1L1479.7 754.5L1482.0 754.7L1484.3 754.9L1486.6 755.5L1489.0 756.4L1491.3 757.5L1493.6 758.8L1495.9 759.7L1498.2 760.3L1500.5 760.6L1502.8 760.4L1505.1 759.5L1507.4 758.3L1509.7 757.1L1512.1 755.9L1514.4 754.5L1516.7 754.3L1519.0 755.9L1521.3 758.8L1523.6 761.3L1525.9 762.2L1528.2 762.3L1530.5 761.9L1532.8 761.1L1535.2 760.6L1537.5 760.9L1539.8 761.6L1542.1 762.6L1544.4 762.9L1546.7 762.1L1549.0 760.8L1551.3 759.3L1553.6 757.8L1556.0 756.8L1558.3 756.6L1560.6 756.3L1562.9 756.3L1565.2 755.9L1567.5 755.1L1569.8 754.2L1572.1 751.7L1574.4 749.0L1576.7 745.9L1579.1 743.5L1581.4 743.2L1583.7 744.4L1586.0 746.3L1588.3 748.2L1590.6 749.3L1592.9 750.0L1595.2 750.5L1597.5 751.0L1599.8 751.5L1602.2 751.7L1604.5 752.0L1606.8 752.4L1609.1 752.3L1611.4 751.8L1613.7 751.9L1616.0 752.4L1618.3 753.5L1620.6 754.8L1622.9 755.8L1625.3 756.5L1627.6 756.8L1629.9 756.8L1632.2 756.3L1634.5 755.8L1636.8 755.3L1639.1 754.7L1641.4 754.7L1643.7 754.9L1646.0 754.8L1648.4 754.5L1650.7 754.2L1653.0 754.1L1655.3 753.4L1657.6 752.9L1659.9 752.9L1662.2 753.2L1664.5 753.9L1666.8 754.6L1669.1 755.3L1671.5 756.6L1673.8 758.0L1676.1 759.3L1678.4 759.9L1680.7 759.2L1683.0 758.2L1685.3 757.3L1687.6 756.6L1689.9 756.1L1692.2 755.8L1694.6 755.5L1696.9 755.5L1699.2 755.5L1701.5 755.5L1703.8 755.6L1706.1 755.7L1708.4 755.7L1710.7 755.5L1713.0 755.3L1715.4 755.1L1717.7 755.3L1720.0 755.7L1722.3 756.3L1724.6 756.7L1726.9 756.6L1729.2 756.1L1731.5 755.9L1733.8 755.6L1736.1 755.4L1738.5 754.9L1740.8 753.8L1743.1 752.5L1745.4 751.7L1747.7 751.2L1750.0 750.6L1752.3 749.9L1754.6 749.1L1756.9 748.4L1759.2 747.6L1761.6 747.1L1763.9 746.7L1766.2 746.7L1768.5 746.7L1770.8 747.0L1773.1 747.0L1775.4 746.6L1777.7 745.9L1780.0 743.7L1782.3 739.9" fill="none" stroke="#f0a868" stroke-width="1" shape-rendering="crispEdges"/>
<path d="M7.0 762.2L8.2 764.0L10.5 765.6L12.8 765.6L15.1 765.4L17.4 764.5L19.7 762.0L22.0 759.1L24.3 757.7L26.6 759.6L28.9 762.8L31.3 762.6L33.6 766.1L35.9 770.5L38.2 779.9L40.5 781.4L42.8 788.0L45.1 787.9L47.4 790.4L49.7 789.2L52.0 787.6L54.4 786.7L56.7 780.1L59.0 776.6L61.3 771.0L63.6 766.3L65.9 766.7L68.2 767.3L70.5 770.3L72.8 770.4L75.1 770.4L77.5 768.8L79.8 765.3L82.1 760.3L84.4 756.9L86.7 755.7L89.0 754.4L91.3 750.4L93.6 747.7L95.9 746.3L98.3 744.8L100.6 743.2L102.9 744.0L105.2 742.3L107.5 740.7L109.8 739.9L112.1 741.5L114.4 743.1L116.7 742.7L119.0 742.3L121.4 742.2L123.7 743.7L126.0 744.6L128.3 744.2L130.6 744.5L132.9 745.3L135.2 746.8L137.5 747.1L139.8 747.1L142.1 747.8L144.5 747.7L146.8 748.0L149.1 748.7L151.4 749.6L153.7 749.2L156.0 748.7L158.3 748.8L160.6 748.6L162.9 748.8L165.2 748.9L167.6 750.0L169.9 750.7L172.2 750.8L174.5 750.1L176.8 750.4L179.1 750.8L181.4 752.4L183.7 755.2L186.0 757.3L188.3 758.8L190.7 758.1L193.0 756.8L195.3 756.2L197.6 755.7L199.9 755.9L202.2 757.6L204.5 757.1L206.8 755.9L209.1 755.0L211.4 754.2L213.8 753.2L216.1 752.9L218.4 753.2L220.7 753.8L223.0 754.4L225.3 756.4L227.6 758.2L229.9 757.3L232.2 755.6L234.5 754.6L236.9 751.4L239.2 749.9L241.5 749.5L243.8 748.1L246.1 745.7L248.4 744.9L250.7 745.3L253.0 744.6L255.3 744.2L257.7 744.1L260.0 743.8L262.3 743.7L264.6 743.7L266.9 745.1L269.2 745.3L271.5 745.3L273.8 745.6L276.1 746.4L278.4 745.4L280.8 744.4L283.1 743.4L285.4 742.9L287.7 743.6L290.0 744.8L292.3 745.9L294.6 746.1L296.9 746.1L299.2 746.8L301.5 745.5L303.9 743.8L306.2 742.9L308.5 742.2L310.8 741.3L313.1 740.9L315.4 740.1L317.7 739.1L320.0 740.6L322.3 742.0L324.6 741.2L327.0 740.8L329.3 739.3L331.6 740.3L333.9 742.1L336.2 743.3L338.5 748.0L340.8 751.3L343.1 751.8L345.4 753.0L347.7 755.2L350.1 755.4L352.4 755.3L354.7 754.4L357.0 752.7L359.3 750.6L361.6 750.9L363.9 751.3L366.2 750.5L368.5 749.9L370.8 749.1L373.2 749.2L375.5 748.3L377.8 747.8L380.1 748.8L382.4 749.3L384.7 749.6L387.0 751.2L389.3 751.1L391.6 750.1L393.9 749.1L396.3 748.2L398.6 747.5L400.9 747.0L403.2 746.8L405.5 746.3L407.8 745.6L410.1 745.3L412.4 745.4L414.7 746.1L417.1 745.4L419.4 745.6L421.7 745.2L424.0 746.0L426.3 748.1L428.6 748.8L430.9 750.3L433.2 753.5L435.5 753.7L437.8 754.3L440.2 753.9L442.5 753.2L444.8 753.6L447.1 754.9L449.4 756.3L451.7 758.3L454.0 757.6L456.3 758.2L458.6 761.1L460.9 760.3L463.3 758.5L465.6 756.3L467.9 754.9L470.2 753.1L472.5 752.2L474.8 752.3L477.1 751.2L479.4 749.1L481.7 748.6L484.0 749.1L486.4 747.4L488.7 746.7L491.0 744.9L493.3 744.7L495.6 744.2L497.9 742.4L500.2 740.3L502.5 739.4L504.8 739.5L507.1 738.6L509.5 738.9L511.8 740.6L514.1 742.0L516.4 743.7L518.7 744.9L521.0 747.5L523.3 748.4L525.6 748.7L527.9 750.4L530.2 752.1L532.6 753.5L534.9 755.6L537.2 756.1L539.5 759.2L541.8 767.5L544.1 768.7L546.4 767.9L548.7 765.2L551.0 762.9L553.3 760.7L555.7 761.8L558.0 761.9L560.3 759.4L562.6 757.4L564.9 754.0L567.2 751.2L569.5 749.6L571.8 747.1L574.1 745.6L576.5 743.7L578.8 741.2L581.1 740.1L583.4 738.2L585.7 738.0L588.0 737.4L590.3 738.3L592.6 738.7L594.9 738.1L597.2 737.0L599.6 737.8L601.9 739.2L604.2 739.5L606.5 741.9L608.8 742.2L611.1 738.9L613.4 736.8L615.7 728.4L618.0 719.0L620.3 707.9L622.7 709.2L625.0 721.7L627.3 729.2L629.6 739.1L631.9 735.3L634.2 733.9L636.5 736.6L638.8 741.2L641.1 746.6L643.4 752.4L645.8 756.6L648.1 757.8L650.4 755.1L652.7 754.7L655.0 750.2L657.3 754.9L659.6 755.9L661.9 753.8L664.2 752.7L666.5 751.9L668.9 748.9L671.2 752.0L673.5 750.2L675.8 747.0L678.1 746.3L680.4 747.7L682.7 747.7L685.0 744.6L687.3 745.1L689.6 742.9L692.0 740.1L694.3 739.7L696.6 736.2L698.9 736.0L701.2 738.4L703.5 742.0L705.8 745.2L708.1 751.1L710.4 756.8L712.7 755.1L715.1 758.1L717.4 763.0L719.7 767.8L722.0 769.2L724.3 773.0L726.6 773.2L728.9 768.1L731.2 767.8L733.5 767.4L735.9 766.0L738.2 763.0L740.5 768.5L742.8 769.4L745.1 768.1L747.4 767.1L749.7 768.2L752.0 768.0L754.3 764.2L756.6 762.3L759.0 758.4L761.3 757.8L763.6 760.6L765.9 764.3L768.2 766.0L770.5 765.1L772.8 763.5L775.1 762.2L777.4 761.6L779.7 764.1L782.1 766.9L784.4 767.8L786.7 765.0L789.0 761.8L791.3 758.6L793.6 752.8L795.9 751.3L798.2 751.2L800.5 752.3L802.8 752.3L805.2 751.7L807.5 752.2L809.8 751.3L812.1 749.1L814.4 748.3L816.7 746.4L819.0 747.4L821.3 749.6L823.6 750.8L825.9 757.1L828.3 763.2L830.6 765.4L832.9 764.9L835.2 762.6L837.5 764.5L839.8 768.1L842.1 768.9L844.4 771.4L846.7 769.3L849.0 767.2L851.4 765.7L853.7 763.1L856.0 759.9L858.3 758.6L860.6 756.5L862.9 758.1L865.2 757.8L867.5 756.9L869.8 755.0L872.1 752.5L874.5 750.4L876.8 748.9L879.1 748.5L881.4 748.4L883.7 750.2L886.0 752.1L888.3 753.9L890.6 754.4L892.9 752.8L895.2 752.2L897.6 754.1L899.9 754.9L902.2 755.3L904.5 756.5L906.8 755.6L909.1 753.2L911.4 752.5L913.7 754.5L916.0 755.7L918.4 761.3L920.7 766.7L923.0 766.8L925.3 766.0L927.6 763.9L929.9 761.2L932.2 756.6L934.5 751.4L936.8 747.9L939.1 746.7L941.5 744.7L943.8 745.5L946.1 747.4L948.4 749.9L950.7 753.1L953.0 755.5L955.3 757.4L957.6 761.2L959.9 760.9L962.2 761.4L964.6 761.8L966.9 761.1L969.2 760.5L971.5 759.3L973.8 757.9L976.1 756.8L978.4 758.7L980.7 758.4L983.0 757.3L985.3 757.9L987.7 758.4L990.0 757.4L992.3 757.0L994.6 755.5L996.9 756.4L999.2 757.0L1001.5 756.3L1003.8 755.4L1006.1 753.7L1008.4 752.9L1010.8 751.1L1013.1 747.9L1015.4 747.2L1017.7 746.6L1020.0 745.4L1022.3 745.3L1024.6 744.3L1026.9 742.5L1029.2 742.4L1031.5 742.8L1033.9 742.2L1036.2 741.7L1038.5 742.5L1040.8 744.5L1043.1 746.4L1045.4 748.4L1047.7 750.0L1050.0 750.1L1052.3 750.4L1054.6 747.5L1057.0 745.6L1059.3 745.1L1061.6 743.4L1063.9 741.7L1066.2 740.0L1068.5 739.1L1070.8 740.2L1073.1 742.0L1075.4 744.0L1077.8 744.6L1080.1 748.2L1082.4 753.4L1084.7 754.5L1087.0 756.9L1089.3 755.4L1091.6 754.5L1093.9 752.1L1096.2 752.6L1098.5 754.2L1100.9 756.2L1103.2 756.7L1105.5 757.9L1107.8 761.1L1110.1 762.4L1112.4 763.2L1114.7 765.8L1117.0 764.5L1119.3 763.5L1121.6 763.1L1124.0 762.7L1126.3 759.6L1128.6 760.4L1130.9 762.1L1133.2 764.5L1135.5 765.8L1137.8 766.3L1140.1 763.6L1142.4 761.3L1144.7 758.7L1147.1 756.4L1149.4 756.0L1151.7 757.4L1154.0 757.2L1156.3 755.9L1158.6 753.7L1160.9 754.4L1163.2 754.1L1165.5 753.4L1167.8 752.1L1170.2 750.7L1172.5 748.6L1174.8 749.1L1177.1 751.3L1179.4 752.2L1181.7 751.4L1184.0 750.0L1186.3 749.4L1188.6 749.1L1190.9 749.1L1193.3 749.6L1195.6 750.2L1197.9 750.2L1200.2 750.0L1202.5 750.3L1204.8 750.8L1207.1 750.8L1209.4 749.6L1211.7 747.1L1214.0 746.8L1216.4 747.0L1218.7 746.4L1221.0 746.2L1223.3 745.1L1225.6 743.5L1227.9 744.1L1230.2 744.0L1232.5 743.9L1234.8 746.3L1237.2 747.3L1239.5 749.6L1241.8 751.4L1244.1 752.9L1246.4 755.2L1248.7 757.6L1251.0 758.2L1253.3 759.0L1255.6 758.9L1257.9 759.6L1260.3 759.5L1262.6 758.8L1264.9 759.5L1267.2 758.5L1269.5 757.2L1271.8 758.7L1274.1 760.8L1276.4 760.9L1278.7 760.4L1281.0 757.8L1283.4 754.8L1285.7 753.1L1288.0 751.4L1290.3 750.7L1292.6 750.0L1294.9 749.1L1297.2 748.1L1299.5 747.4L1301.8 747.9L1304.1 749.2L1306.5 750.9L1308.8 751.9L1311.1 753.1L1313.4 755.2L1315.7 756.2L1318.0 758.1L1320.3 761.0L1322.6 763.0L1324.9 764.1L1327.2 762.4L1329.6 758.8L1331.9 758.3L1334.2 757.7L1336.5 757.7L1338.8 758.9L1341.1 757.4L1343.4 756.9L1345.7 757.7L1348.0 758.8L1350.3 761.8L1352.7 764.6L1355.0 764.5L1357.3 763.9L1359.6 763.2L1361.9 761.2L1364.2 758.9L1366.5 758.9L1368.8 759.5L1371.1 757.3L1373.4 753.4L1375.8 749.7L1378.1 749.0L1380.4 751.2L1382.7 752.7L1385.0 752.9L1387.3 753.2L1389.6 753.5L1391.9 755.9L1394.2 756.2L1396.6 755.7L1398.9 754.1L1401.2 754.1L1403.5 755.8L1405.8 756.2L1408.1 756.6L1410.4 755.7L1412.7 754.9L1415.0 754.9L1417.3 755.4L1419.7 755.9L1422.0 755.1L1424.3 755.3L1426.6 755.2L1428.9 755.1L1431.2 753.9L1433.5 753.6L1435.8 753.8L1438.1 753.9L1440.4 752.8L1442.8 751.1L1445.1 749.6L1447.4 748.5L1449.7 745.5L1452.0 744.7L1454.3 743.0L1456.6 743.5L1458.9 746.0L1461.2 747.5L1463.5 749.7L1465.9 751.9L1468.2 753.6L1470.5 754.0L1472.8 754.8L1475.1 755.2L1477.4 754.9L1479.7 755.2L1482.0 754.9L1484.3 755.5L1486.6 756.6L1489.0 758.1L1491.3 759.7L1493.6 761.0L1495.9 761.4L1498.2 761.4L1500.5 760.9L1502.8 759.6L1505.1 757.5L1507.4 755.7L1509.7 754.5L1512.1 753.3L1514.4 751.7L1516.7 755.8L1519.0 760.7L1521.3 765.6L1523.6 765.5L1525.9 763.2L1528.2 762.1L1530.5 761.1L1532.8 759.4L1535.2 760.0L1537.5 762.3L1539.8 763.1L1542.1 764.1L1544.4 762.9L1546.7 759.9L1549.0 757.9L1551.3 756.5L1553.6 755.0L1556.0 755.3L1558.3 756.5L1560.6 755.7L1562.9 756.2L1565.2 754.8L1567.5 753.1L1569.8 752.0L1572.1 745.3L1574.4 742.9L1576.7 739.2L1579.1 738.1L1581.4 744.1L1583.7 747.6L1586.0 750.5L1588.3 751.5L1590.6 751.0L1592.9 751.2L1595.2 751.1L1597.5 752.1L1599.8 752.2L1602.2 752.0L1604.5 752.8L1606.8 753.4L1609.1 751.4L1611.4 751.0L1613.7 751.9L1616.0 753.7L1618.3 756.0L1620.6 757.2L1622.9 757.7L1625.3 758.0L1627.6 757.2L1629.9 756.3L1632.2 755.2L1634.5 755.1L1636.8 754.6L1639.1 753.6L1641.4 754.6L1643.7 755.4L1646.0 754.3L1648.4 753.7L1650.7 753.5L1653.0 753.6L1655.3 751.7L1657.6 752.3L1659.9 752.8L1662.2 753.9L1664.5 755.3L1666.8 755.8L1669.1 756.8L1671.5 759.5L1673.8 760.9L1676.1 762.1L1678.4 760.3L1680.7 757.5L1683.0 756.4L1685.3 755.6L1687.6 755.4L1689.9 755.1L1692.2 755.3L1694.6 754.7L1696.9 755.4L1699.2 755.7L1701.5 755.8L1703.8 755.5L1706.1 756.1L1708.4 755.7L1710.7 755.2L1713.0 754.6L1715.4 754.8L1717.7 755.6L1720.0 756.6L1722.3 757.8L1724.6 757.4L1726.9 756.0L1729.2 755.5L1731.5 755.0L1733.8 755.0L1736.1 755.3L1738.5 753.7L1740.8 751.7L1743.1 750.4L1745.4 750.3L1747.7 750.1L1750.0 749.2L1752.3 748.8L1754.6 747.6L1756.9 746.4L1759.2 746.2L1761.6 746.4L1763.9 746.4L1766.2 746.3L1768.5 747.1L1770.8 747.9L1773.1 746.9L1775.4 745.9L1777.7 744.9L1780.0 738.5L1782.3 732.0" fill="none" stroke="#a85050" stroke-width="1" shape-rendering="crispEdges"/>
<g fill="none" stroke="#8e8e8e" stroke-width="1.3" stroke-linejoin="round"><path d="M15.3 689.2H22.5L19.8 685.4H18.0ZM15.3 700.2H22.5L19.8 704.0H18.0ZM13.5 691.2V698.2L9.4 695.4V694.0ZM24.3 691.2V698.2L28.4 695.4V694.0Z"/><circle cx="18.9" cy="694.7" r="2"/></g>
<text x="31.8" y="695.3" font-family="Liberation Mono" font-size="11.35" xml:space="preserve"><tspan fill="#c05050">MACD:</tspan><tspan fill="#4f7d38"> 4.89</tspan><tspan fill="#f0a060"> MACD Signal:</tspan><tspan fill="#4f7d38"> 2.95</tspan><tspan fill="#8a9a50"> MACD Histogram:</tspan><tspan fill="#4f7d38"> 1.93</tspan></text>
<rect x="1841.5" y="739.5" width="28" height="11.0" fill="#eef1dc" stroke="#6b8c2e" stroke-width="1"/>
<text x="1855.5" y="749.0" font-family="Liberation Mono" font-size="11.2" fill="#7a9a50" text-anchor="middle">1.93</text>
<rect x="1841.5" y="735.5" width="28" height="9.0" fill="#eef1dc" stroke="#f0a060" stroke-width="1"/>
<text x="1855.5" y="744.0" font-family="Liberation Mono" font-size="11.2" fill="#7a9a50" text-anchor="middle">2.95</text>
<rect x="1841.5" y="720.5" width="28" height="15.0" fill="#eef1dc" stroke="#a84040" stroke-width="1"/>
<text x="1855.5" y="732.0" font-family="Liberation Mono" font-size="11.2" fill="#7a9a50" text-anchor="middle">4.89</text>
</svg></body></html>
